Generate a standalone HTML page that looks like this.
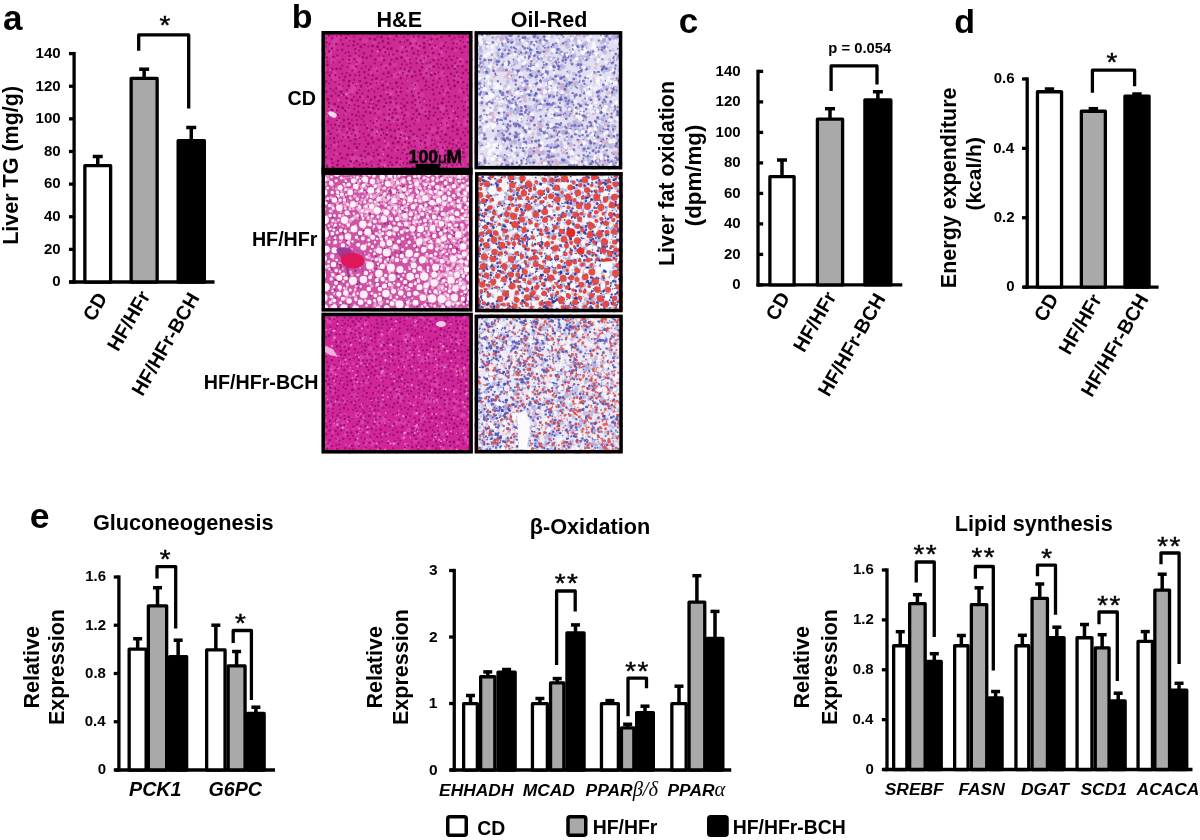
<!DOCTYPE html>
<html><head><meta charset="utf-8"><style>html,body{margin:0;padding:0;background:#fff;}svg{display:block;}</style></head>
<body>
<svg width="1200" height="840" viewBox="0 0 1200 840">
<rect width="1200" height="840" fill="#fff"/>
<text x="2.95" y="29.95" style="font-family:'Liberation Sans', Arial, sans-serif;font-size:35px;font-weight:bold;font-style:normal;">a</text>
<line x1="74.10" y1="51.95" x2="74.10" y2="283.65" stroke="#000" stroke-width="3.3" stroke-linecap="butt"/>
<line x1="69.10" y1="282.00" x2="214.50" y2="282.00" stroke="#000" stroke-width="3.3" stroke-linecap="butt"/>
<line x1="68.95" y1="282.00" x2="74.10" y2="282.00" stroke="#000" stroke-width="3.3" stroke-linecap="butt"/>
<text x="52.27" y="286.38" style="font-family:'Liberation Sans', Arial, sans-serif;font-size:15px;font-weight:bold;font-style:normal;">0</text>
<line x1="68.95" y1="249.37" x2="74.10" y2="249.37" stroke="#000" stroke-width="3.3" stroke-linecap="butt"/>
<text x="43.95" y="253.75" style="font-family:'Liberation Sans', Arial, sans-serif;font-size:15px;font-weight:bold;font-style:normal;">20</text>
<line x1="68.95" y1="216.74" x2="74.10" y2="216.74" stroke="#000" stroke-width="3.3" stroke-linecap="butt"/>
<text x="43.95" y="221.12" style="font-family:'Liberation Sans', Arial, sans-serif;font-size:15px;font-weight:bold;font-style:normal;">40</text>
<line x1="68.95" y1="184.11" x2="74.10" y2="184.11" stroke="#000" stroke-width="3.3" stroke-linecap="butt"/>
<text x="43.95" y="188.49" style="font-family:'Liberation Sans', Arial, sans-serif;font-size:15px;font-weight:bold;font-style:normal;">60</text>
<line x1="68.95" y1="151.49" x2="74.10" y2="151.49" stroke="#000" stroke-width="3.3" stroke-linecap="butt"/>
<text x="43.95" y="155.86" style="font-family:'Liberation Sans', Arial, sans-serif;font-size:15px;font-weight:bold;font-style:normal;">80</text>
<line x1="68.95" y1="118.86" x2="74.10" y2="118.86" stroke="#000" stroke-width="3.3" stroke-linecap="butt"/>
<text x="35.62" y="123.23" style="font-family:'Liberation Sans', Arial, sans-serif;font-size:15px;font-weight:bold;font-style:normal;">100</text>
<line x1="68.95" y1="86.23" x2="74.10" y2="86.23" stroke="#000" stroke-width="3.3" stroke-linecap="butt"/>
<text x="35.62" y="90.60" style="font-family:'Liberation Sans', Arial, sans-serif;font-size:15px;font-weight:bold;font-style:normal;">120</text>
<line x1="68.95" y1="53.60" x2="74.10" y2="53.60" stroke="#000" stroke-width="3.3" stroke-linecap="butt"/>
<text x="35.62" y="57.98" style="font-family:'Liberation Sans', Arial, sans-serif;font-size:15px;font-weight:bold;font-style:normal;">140</text>
<line x1="97.75" y1="165.65" x2="97.75" y2="156.50" stroke="#000" stroke-width="3.5" stroke-linecap="butt"/>
<line x1="92.75" y1="156.50" x2="102.75" y2="156.50" stroke="#000" stroke-width="3.5" stroke-linecap="butt"/>
<rect x="84.85" y="165.65" width="25.80" height="116.35" fill="#fff" stroke="#000" stroke-width="3.3" stroke-linejoin="round"/>
<line x1="144.15" y1="78.35" x2="144.15" y2="69.20" stroke="#000" stroke-width="3.5" stroke-linecap="butt"/>
<line x1="139.15" y1="69.20" x2="149.15" y2="69.20" stroke="#000" stroke-width="3.5" stroke-linecap="butt"/>
<rect x="131.15" y="78.35" width="26.00" height="203.65" fill="#a9a9a9" stroke="#000" stroke-width="3.3" stroke-linejoin="round"/>
<line x1="191.25" y1="140.65" x2="191.25" y2="127.50" stroke="#000" stroke-width="3.5" stroke-linecap="butt"/>
<line x1="186.25" y1="127.50" x2="196.25" y2="127.50" stroke="#000" stroke-width="3.5" stroke-linecap="butt"/>
<rect x="178.15" y="140.65" width="26.20" height="141.35" fill="#000" stroke="#000" stroke-width="3.3" stroke-linejoin="round"/>
<path d="M138.70,50.70 L138.70,34.90 L188.70,34.90 L188.70,108.50" fill="none" stroke="#000" stroke-width="3.3" stroke-linejoin="round"/>
<text transform="translate(159.46,34.27) scale(1.115,1)" style="font-family:'Liberation Sans', Arial, sans-serif;font-size:25px;font-weight:normal;font-style:normal;stroke:#000;stroke-width:0.45px;">*</text>
<text transform="translate(18.49,244.80) rotate(-90)" style="font-family:'Liberation Sans', Arial, sans-serif;font-size:21.5px;font-weight:bold;font-style:normal;">Liver TG (mg/g)</text>
<text transform="translate(93.74,322.38) rotate(-60)" style="font-family:'Liberation Sans', Arial, sans-serif;font-size:19.7px;font-weight:bold;font-style:normal;">CD</text>
<text transform="translate(118.11,352.58) rotate(-60)" style="font-family:'Liberation Sans', Arial, sans-serif;font-size:19.7px;font-weight:bold;font-style:normal;">HF/HFr</text>
<text transform="translate(142.57,397.25) rotate(-60)" style="font-family:'Liberation Sans', Arial, sans-serif;font-size:19.7px;font-weight:bold;font-style:normal;">HF/HFr-BCH</text>
<text x="678.80" y="32.55" style="font-family:'Liberation Sans', Arial, sans-serif;font-size:35px;font-weight:bold;font-style:normal;">c</text>
<line x1="758.00" y1="69.75" x2="758.00" y2="286.55" stroke="#000" stroke-width="3.3" stroke-linecap="butt"/>
<line x1="756.50" y1="284.90" x2="902.30" y2="284.90" stroke="#000" stroke-width="3.3" stroke-linecap="butt"/>
<line x1="758.00" y1="284.90" x2="763.15" y2="284.90" stroke="#000" stroke-width="3.3" stroke-linecap="butt"/>
<text x="732.27" y="289.27" style="font-family:'Liberation Sans', Arial, sans-serif;font-size:15px;font-weight:bold;font-style:normal;">0</text>
<line x1="758.00" y1="254.40" x2="763.15" y2="254.40" stroke="#000" stroke-width="3.3" stroke-linecap="butt"/>
<text x="723.95" y="258.77" style="font-family:'Liberation Sans', Arial, sans-serif;font-size:15px;font-weight:bold;font-style:normal;">20</text>
<line x1="758.00" y1="223.90" x2="763.15" y2="223.90" stroke="#000" stroke-width="3.3" stroke-linecap="butt"/>
<text x="723.95" y="228.27" style="font-family:'Liberation Sans', Arial, sans-serif;font-size:15px;font-weight:bold;font-style:normal;">40</text>
<line x1="758.00" y1="193.40" x2="763.15" y2="193.40" stroke="#000" stroke-width="3.3" stroke-linecap="butt"/>
<text x="723.95" y="197.77" style="font-family:'Liberation Sans', Arial, sans-serif;font-size:15px;font-weight:bold;font-style:normal;">60</text>
<line x1="758.00" y1="162.90" x2="763.15" y2="162.90" stroke="#000" stroke-width="3.3" stroke-linecap="butt"/>
<text x="723.95" y="167.27" style="font-family:'Liberation Sans', Arial, sans-serif;font-size:15px;font-weight:bold;font-style:normal;">80</text>
<line x1="758.00" y1="132.40" x2="763.15" y2="132.40" stroke="#000" stroke-width="3.3" stroke-linecap="butt"/>
<text x="715.62" y="136.78" style="font-family:'Liberation Sans', Arial, sans-serif;font-size:15px;font-weight:bold;font-style:normal;">100</text>
<line x1="758.00" y1="101.90" x2="763.15" y2="101.90" stroke="#000" stroke-width="3.3" stroke-linecap="butt"/>
<text x="715.62" y="106.28" style="font-family:'Liberation Sans', Arial, sans-serif;font-size:15px;font-weight:bold;font-style:normal;">120</text>
<line x1="758.00" y1="71.40" x2="763.15" y2="71.40" stroke="#000" stroke-width="3.3" stroke-linecap="butt"/>
<text x="715.62" y="75.78" style="font-family:'Liberation Sans', Arial, sans-serif;font-size:15px;font-weight:bold;font-style:normal;">140</text>
<line x1="782.00" y1="176.65" x2="782.00" y2="160.00" stroke="#000" stroke-width="3.5" stroke-linecap="butt"/>
<line x1="777.00" y1="160.00" x2="787.00" y2="160.00" stroke="#000" stroke-width="3.5" stroke-linecap="butt"/>
<rect x="769.90" y="176.65" width="24.20" height="108.25" fill="#fff" stroke="#000" stroke-width="3.3" stroke-linejoin="round"/>
<line x1="830.00" y1="119.15" x2="830.00" y2="108.75" stroke="#000" stroke-width="3.5" stroke-linecap="butt"/>
<line x1="825.00" y1="108.75" x2="835.00" y2="108.75" stroke="#000" stroke-width="3.5" stroke-linecap="butt"/>
<rect x="817.40" y="119.15" width="25.20" height="165.75" fill="#a9a9a9" stroke="#000" stroke-width="3.3" stroke-linejoin="round"/>
<line x1="877.88" y1="99.90" x2="877.88" y2="91.75" stroke="#000" stroke-width="3.5" stroke-linecap="butt"/>
<line x1="872.88" y1="91.75" x2="882.88" y2="91.75" stroke="#000" stroke-width="3.5" stroke-linecap="butt"/>
<rect x="864.90" y="99.90" width="25.95" height="185.00" fill="#000" stroke="#000" stroke-width="3.3" stroke-linejoin="round"/>
<path d="M831.10,91.00 L831.10,65.90 L877.00,65.90 L877.00,84.60" fill="none" stroke="#000" stroke-width="3.3" stroke-linejoin="round"/>
<text x="828.34" y="53.36" style="font-family:'Liberation Sans', Arial, sans-serif;font-size:14.8px;font-weight:bold;font-style:normal;">p = 0.054</text>
<text transform="translate(674.34,266.11) rotate(-90)" style="font-family:'Liberation Sans', Arial, sans-serif;font-size:21.5px;font-weight:bold;font-style:normal;">Liver fat oxidation</text>
<text transform="translate(701.17,226.19) rotate(-90)" style="font-family:'Liberation Sans', Arial, sans-serif;font-size:22.3px;font-weight:bold;font-style:normal;">(dpm/mg)</text>
<text transform="translate(776.44,321.88) rotate(-60)" style="font-family:'Liberation Sans', Arial, sans-serif;font-size:19.7px;font-weight:bold;font-style:normal;">CD</text>
<text transform="translate(803.91,353.43) rotate(-60)" style="font-family:'Liberation Sans', Arial, sans-serif;font-size:19.7px;font-weight:bold;font-style:normal;">HF/HFr</text>
<text transform="translate(828.77,397.85) rotate(-60)" style="font-family:'Liberation Sans', Arial, sans-serif;font-size:19.7px;font-weight:bold;font-style:normal;">HF/HFr-BCH</text>
<text x="954.34" y="32.96" style="font-family:'Liberation Sans', Arial, sans-serif;font-size:34px;font-weight:bold;font-style:normal;">d</text>
<line x1="1027.20" y1="77.35" x2="1027.20" y2="288.75" stroke="#000" stroke-width="3.3" stroke-linecap="butt"/>
<line x1="1023.00" y1="287.10" x2="1158.60" y2="287.10" stroke="#000" stroke-width="3.3" stroke-linecap="butt"/>
<line x1="1022.05" y1="287.10" x2="1027.20" y2="287.10" stroke="#000" stroke-width="3.3" stroke-linecap="butt"/>
<text x="1006.27" y="291.48" style="font-family:'Liberation Sans', Arial, sans-serif;font-size:15px;font-weight:bold;font-style:normal;">0</text>
<line x1="1022.05" y1="217.73" x2="1027.20" y2="217.73" stroke="#000" stroke-width="3.3" stroke-linecap="butt"/>
<text x="993.75" y="222.11" style="font-family:'Liberation Sans', Arial, sans-serif;font-size:15px;font-weight:bold;font-style:normal;">0.2</text>
<line x1="1022.05" y1="148.37" x2="1027.20" y2="148.37" stroke="#000" stroke-width="3.3" stroke-linecap="butt"/>
<text x="993.23" y="152.74" style="font-family:'Liberation Sans', Arial, sans-serif;font-size:15px;font-weight:bold;font-style:normal;">0.4</text>
<line x1="1022.05" y1="79.00" x2="1027.20" y2="79.00" stroke="#000" stroke-width="3.3" stroke-linecap="butt"/>
<text x="993.67" y="83.38" style="font-family:'Liberation Sans', Arial, sans-serif;font-size:15px;font-weight:bold;font-style:normal;">0.6</text>
<line x1="1049.50" y1="91.75" x2="1049.50" y2="89.00" stroke="#000" stroke-width="3.5" stroke-linecap="butt"/>
<line x1="1044.80" y1="89.00" x2="1054.20" y2="89.00" stroke="#000" stroke-width="3.5" stroke-linecap="butt"/>
<rect x="1037.45" y="91.75" width="24.10" height="195.35" fill="#fff" stroke="#000" stroke-width="3.3" stroke-linejoin="round"/>
<line x1="1093.35" y1="111.25" x2="1093.35" y2="108.70" stroke="#000" stroke-width="3.5" stroke-linecap="butt"/>
<line x1="1088.65" y1="108.70" x2="1098.05" y2="108.70" stroke="#000" stroke-width="3.5" stroke-linecap="butt"/>
<rect x="1081.35" y="111.25" width="24.00" height="175.85" fill="#a9a9a9" stroke="#000" stroke-width="3.3" stroke-linejoin="round"/>
<line x1="1137.00" y1="96.05" x2="1137.00" y2="94.00" stroke="#000" stroke-width="3.5" stroke-linecap="butt"/>
<line x1="1132.30" y1="94.00" x2="1141.70" y2="94.00" stroke="#000" stroke-width="3.5" stroke-linecap="butt"/>
<rect x="1124.95" y="96.05" width="24.10" height="191.05" fill="#000" stroke="#000" stroke-width="3.3" stroke-linejoin="round"/>
<path d="M1092.40,92.70 L1092.40,70.20 L1134.60,70.20 L1134.60,86.30" fill="none" stroke="#000" stroke-width="3.3" stroke-linejoin="round"/>
<text transform="translate(1106.56,71.17) scale(1.115,1)" style="font-family:'Liberation Sans', Arial, sans-serif;font-size:25px;font-weight:normal;font-style:normal;stroke:#000;stroke-width:0.45px;">*</text>
<text transform="translate(956.09,288.17) rotate(-90)" style="font-family:'Liberation Sans', Arial, sans-serif;font-size:21.5px;font-weight:bold;font-style:normal;">Energy expenditure</text>
<text transform="translate(981.43,210.60) rotate(-90)" style="font-family:'Liberation Sans', Arial, sans-serif;font-size:21px;font-weight:bold;font-style:normal;">(kcal/h)</text>
<text transform="translate(1044.84,323.08) rotate(-60)" style="font-family:'Liberation Sans', Arial, sans-serif;font-size:19.7px;font-weight:bold;font-style:normal;">CD</text>
<text transform="translate(1069.56,355.98) rotate(-60)" style="font-family:'Liberation Sans', Arial, sans-serif;font-size:19.7px;font-weight:bold;font-style:normal;">HF/HFr</text>
<text transform="translate(1091.82,398.35) rotate(-60)" style="font-family:'Liberation Sans', Arial, sans-serif;font-size:19.7px;font-weight:bold;font-style:normal;">HF/HFr-BCH</text>
<text x="291.79" y="27.66" style="font-family:'Liberation Sans', Arial, sans-serif;font-size:34px;font-weight:bold;font-style:normal;">b</text>
<text x="376.60" y="26.98" style="font-family:'Liberation Sans', Arial, sans-serif;font-size:21.5px;font-weight:bold;font-style:normal;">H&amp;E</text>
<text x="510.84" y="27.29" style="font-family:'Liberation Sans', Arial, sans-serif;font-size:21.5px;font-weight:bold;font-style:normal;">Oil-Red</text>
<text x="287.62" y="104.80" style="font-family:'Liberation Sans', Arial, sans-serif;font-size:19.7px;font-weight:bold;font-style:normal;">CD</text>
<text x="251.90" y="245.71" style="font-family:'Liberation Sans', Arial, sans-serif;font-size:19.7px;font-weight:bold;font-style:normal;">HF/HFr</text>
<text x="203.73" y="388.91" style="font-family:'Liberation Sans', Arial, sans-serif;font-size:19.7px;font-weight:bold;font-style:normal;">HF/HFr-BCH</text>
<defs><filter id="soft" x="0" y="0" width="1" height="1"><feGaussianBlur stdDeviation="0.45"/></filter><clipPath id="cP1"><rect x="321.5" y="31.0" width="151.0" height="140.6"/></clipPath><clipPath id="cP2"><rect x="474.5" y="31.1" width="147.8" height="138.3"/></clipPath><clipPath id="cP3"><rect x="321.5" y="171.3" width="151.0" height="140.3"/></clipPath><clipPath id="cP4"><rect x="475.0" y="172.1" width="147.7" height="140.2"/></clipPath><clipPath id="cP5"><rect x="321.5" y="312.7" width="151.3" height="140.8"/></clipPath><clipPath id="cP6"><rect x="474.6" y="314.6" width="148.2" height="138.9"/></clipPath></defs>
<g clip-path="url(#cP1)">
<g filter="url(#soft)">
<rect x="321.5" y="31.0" width="151.0" height="140.6" fill="#cd2a94"/>
<path d="M350.2 65h0M466.2 150.1h0M427.3 166.4h0M326.3 153.7h0M397.5 116.1h0M454.5 70.6h0M409.7 158.8h0" stroke="#de48aa" stroke-width="3.5" stroke-linecap="round" stroke-opacity="0.5"/><path d="M420.2 117.5h0M323.8 105.3h0M469.5 86.9h0M350.3 133.9h0M371.2 72.7h0M452.3 56.7h0M412.6 90.3h0M411.6 72.3h0M425.9 113.2h0M369.7 171.5h0M388 148.9h0M423.9 59.5h0M409.5 75.5h0M469.8 94.6h0M441 33.7h0M357.3 50.8h0M441.1 158.4h0M462.3 132.6h0M325.8 144.8h0M440.5 50.8h0M362.2 97.5h0M414.8 161.1h0M375.2 118.1h0M431.2 67.5h0M459.1 167.2h0M425 57.6h0M399.2 111h0M471 161.3h0M382.7 58.4h0M360.3 87.5h0M351 83.8h0M328.3 161.8h0M390.3 59.6h0M432.4 64.5h0M385.7 118.6h0M403.3 41.2h0M336.1 154.1h0M426.3 70.8h0M471.1 83.8h0" stroke="#de48aa" stroke-width="4.0" stroke-linecap="round" stroke-opacity="0.5"/><path d="M441.2 44.2h0M421.5 95.3h0M428.4 75.3h0M416.5 140.5h0M436 47.6h0M335.1 112.9h0M458.7 146h0M327.3 166.4h0M430.3 40.7h0M363.8 160h0M360.1 32.6h0M428.9 164.6h0M347 94.4h0M428.5 111.2h0M429.3 56.2h0M442.3 55.3h0M464.8 43.1h0M449.1 157.6h0M393.5 75.6h0M439.2 34.2h0M355.8 127.6h0M401.4 53.5h0M457.8 75.4h0M455.5 49.8h0M417.9 118.7h0M464.1 124.7h0M366.2 33h0M393.6 167.8h0M422.4 95.1h0M435.3 57.7h0M327.5 39.5h0M377.9 98.3h0M415.7 139.1h0M387.6 143.9h0M352.4 90.7h0M467.9 39.3h0M337.9 56.9h0M355.3 57h0M347.5 137.5h0" stroke="#de48aa" stroke-width="4.5" stroke-linecap="round" stroke-opacity="0.5"/><path d="M382 150h0M353.2 159h0M348.3 109.6h0M418.7 47.4h0M412.3 83.3h0M324 68.8h0M330.6 55.8h0M407.9 49.5h0M457.5 153.5h0M458.3 123.8h0M459.5 154.8h0M424.9 59h0M348.5 32.5h0M414.3 137.3h0M441.8 163.8h0M374.1 42.6h0M406.1 74.8h0M467.9 103.6h0M387.5 83.8h0M330.9 164.8h0M437 77h0M439 145.5h0M437.4 138.6h0M430.6 40.9h0M392.3 32.5h0M332.6 158.3h0M401.2 48.5h0M460.5 91.1h0M334 110.3h0M375.5 133.1h0M456.6 65.9h0M376.7 82.1h0M400.3 138.5h0M428.4 159.6h0M428.7 143.8h0M348.6 39.8h0M404.3 145.9h0" stroke="#de48aa" stroke-width="5.0" stroke-linecap="round" stroke-opacity="0.5"/><path d="M391.8 102.4h0M349.4 103h0M399.9 121h0M466.3 99h0M406 150.8h0M440.9 152.4h0M415.9 84.8h0M380.2 134.3h0M434.8 35.2h0M353.8 89.2h0M416.5 93.8h0M373.7 129h0M404.6 139h0M425.6 164h0M450 167.2h0M408 59.3h0M442.5 110.1h0M425.8 40.3h0M431.9 48.3h0M359.3 58.8h0M416.8 120.8h0M397.9 137.6h0M337.5 36.3h0M399.3 91.5h0M416.5 87.9h0M421.1 111.1h0M359.4 158.3h0M398.2 167h0M392.7 54.8h0M385 105.1h0M412.6 47.2h0M456.3 141.3h0M423.6 108.4h0M339.2 130.7h0M380 58.4h0M399.4 107.5h0M466.1 121h0M357 131.8h0" stroke="#de48aa" stroke-width="5.5" stroke-linecap="round" stroke-opacity="0.5"/><path d="M335.2 144.8h0M365.1 40.9h0M353.7 67.3h0M456 168.9h0M417.6 98.8h0M459.7 80.5h0M413.4 42.3h0M471.5 154.7h0M394.1 63.4h0M456.2 77h0M419.8 59.8h0M445.1 121.2h0M401 71.8h0M340.5 87.6h0M324.2 59.3h0M348.9 94.8h0M360.5 159.1h0M456.9 154.7h0M380.3 171.6h0M324.9 117.5h0M333 115h0M376.7 71.2h0M406.2 70.9h0M328 53h0M380.4 157.2h0M400.5 162.8h0M409.4 90h0M375.7 69.2h0M406.8 114.2h0M370.6 108.1h0M425 73h0M333 61h0M333.8 73.7h0M406.5 55.8h0M334.2 42.5h0M457.3 42.9h0M343.2 135.9h0M358.6 62h0M372.5 167.1h0M396 106.5h0M385 51.6h0M338.8 122.1h0" stroke="#de48aa" stroke-width="6.0" stroke-linecap="round" stroke-opacity="0.5"/><path d="M389.8 109.7h0M391.6 92.9h0M472.1 171h0M336.8 39.4h0M442.8 73.8h0M353.3 86.4h0M351.2 164.6h0M427.9 67.1h0M326.8 33.5h0M404 134.6h0M432.8 129.9h0M396.6 117.4h0M351.5 91.6h0M396.5 148.7h0M396.1 75.3h0M390.2 34.5h0M390 119h0M378.4 111h0M469.1 106.5h0M369.9 158.9h0M399.5 132.7h0M418 104.5h0M384 165.5h0M387 145.7h0M450 117h0M356.6 135.2h0M447.2 90.3h0M349.4 59.7h0M323.5 129.6h0M398.9 33.2h0M442.6 130.1h0M397.6 169.2h0M471.8 120.7h0M392.2 168.6h0M469.4 159.8h0M373.4 135.7h0M332.7 47.8h0M385.6 67.3h0M460.2 163.2h0M441.9 107h0M467.4 122.6h0M331.2 107.9h0M446.3 124.7h0M443.2 148.2h0" stroke="#de48aa" stroke-width="6.5" stroke-linecap="round" stroke-opacity="0.5"/><path d="M327.8 169.1h0M334.7 77.8h0M353.6 68.9h0M418.4 45.1h0M350.2 135h0M420.4 144.5h0M353.7 157.5h0M460.8 61.7h0M427.4 138.1h0M413.8 39.2h0M329.1 170h0M401.6 171.3h0M377.2 122.9h0M369.5 87.2h0" stroke="#de48aa" stroke-width="7.0" stroke-linecap="round" stroke-opacity="0.5"/>
<path d="M394.4 62.1h0M401.2 103.5h0M471 123.5h0M323.1 97.5h0M345.3 53.1h0M417.7 170.6h0M445.6 42.6h0M384.5 159.9h0M368.5 74.7h0M375.8 127.6h0M446.8 122.9h0M378.4 130.8h0M406.7 95.4h0M471.2 143.4h0M403 72.9h0M380.7 124.7h0M351.7 133.8h0M371.6 147.3h0M447.9 114.3h0M355.7 53.1h0M371.5 88.9h0M324.3 77.5h0M457.9 108.1h0M416.2 58.8h0M371.2 161.6h0M406.2 109.8h0M365.1 157.1h0M408.1 147.8h0M404.2 41.7h0M442.9 33.3h0M397.4 86.8h0M426.4 105h0M367.8 86.6h0M465.1 31.1h0M375.3 113.3h0M326.2 157.3h0M460.8 157.1h0M352 119.9h0M454.4 38h0M452.8 131.3h0M333.4 62.4h0M410.6 63.2h0M461.4 124.8h0M328.3 115.3h0M359.4 143.9h0M364.6 137.2h0M363.6 108.1h0M461.8 101.3h0M405.5 121.7h0M400.1 164.8h0M440.3 142.2h0M348.7 52.3h0M441 64.5h0M415.3 104.9h0M347.4 66.8h0M330.7 88.7h0M354.2 167.5h0M342.9 86.2h0M354 79.8h0M353.9 96.8h0M332.5 128.2h0M363 33.6h0M429.5 68.8h0M334.1 155.1h0M437.9 104h0M381 64.5h0M344.3 114.7h0M342 130.3h0M431 124.7h0M354.1 36.7h0M356.9 119.9h0M357.7 44.1h0M325 86h0M370.7 66.6h0M361 124.9h0M383.6 89.4h0M458.9 36.4h0M398.1 74.4h0M469 52.1h0M447 167.2h0M467.1 146.9h0M402.1 64.3h0M340.5 39.9h0M336.9 130.1h0M359.5 131.6h0M422.6 63.5h0M462.4 170h0M339.6 77.4h0M403.4 98.9h0M376.7 67.5h0M420.7 118.6h0M348.1 34.8h0M355.8 85.6h0M420.7 145h0M417.8 80.8h0M458.2 76.2h0M348.3 45.9h0M374.4 91.6h0M402.5 152.7h0M363.7 121.5h0M336.7 36.2h0M452.1 148.2h0M414.7 157.8h0M463.6 116.8h0M388.1 165.2h0M426.4 125.5h0M359.5 90.1h0M334.8 82.1h0M457.1 164.5h0M353.1 83h0M381.1 135.3h0M431.9 140.1h0M464.1 157h0M338.3 142h0M365.9 140.3h0M467 89.1h0M325.8 46.5h0M329 148.5h0M434.7 99.5h0M382.9 166.9h0M411.8 82.9h0M413.5 113.9h0M329.5 44.1h0M447.1 77.1h0M330.1 138.4h0M435.2 112.5h0M470 159.9h0M422.1 108.1h0M337.4 135.4h0M410 59.4h0M426.8 63.8h0M435.2 45.4h0M365.7 66.6h0M394.7 69.3h0M438.6 67.5h0M407 80h0M336.9 110.5h0M330.8 124.7h0M349.4 105.1h0M384.5 99.3h0M451.2 162.5h0M466 34.4h0M372.2 79.8h0M349.4 63.6h0M384.1 170.2h0M390 83.3h0M362.7 163h0M449.2 96.4h0M436.7 87.3h0M415.7 75.6h0M450.3 155h0M398.3 169.4h0M347.3 132.7h0M395.5 98.8h0M448.5 101.7h0M444.5 73.6h0M469.8 153.5h0M470.2 118.6h0M332.1 38.3h0M437.2 39h0M328.5 130.9h0M422.8 135.2h0M456.4 124.3h0M443.2 90.1h0M359.2 56h0M451.7 39.8h0M324.7 129h0M359.1 72.1h0M440.6 156.5h0M324.9 73.3h0M441.8 118.2h0M336.8 120.5h0M342.7 59.4h0M379.3 146.8h0M429.8 100.4h0M411 159.6h0M406.8 64.6h0M446.1 51.8h0M379 43.2h0M418.2 54.6h0M402.4 83.8h0M403.3 163.1h0M428.2 158.7h0M433.3 152.7h0M341.4 140.8h0M372.8 31.2h0M376.5 82.9h0M378 88.7h0M359.4 75.3h0M442.1 160.5h0M417.9 156.4h0M359.9 137.7h0M363.5 133.5h0M337.6 50.3h0M402 112.8h0M458.9 97.6h0M463.8 148.8h0M379.1 55.8h0M323.8 138.6h0M411.4 146.2h0M400.9 34.4h0M378.2 164.3h0M454.9 32h0M370.5 120.9h0M377 120.9h0M385.4 143.8h0M331.4 80.1h0M429.8 105.1h0M438 82.6h0M356.7 62.1h0M446.4 105.9h0M331.6 72.5h0M414.5 123.5h0M426.3 89.6h0M342.2 73.7h0M454.8 160.9h0M465.3 102.1h0M407.5 88.4h0M333.5 90.7h0M410.8 67.5h0M342.9 137.1h0M430.3 62.6h0M415.3 85.1h0M346.6 102.9h0M464.9 135.4h0M470.7 33.2h0M340.9 102.4h0M337.4 100.2h0M339.4 62.2h0M349.4 40.6h0M365.2 124.7h0M453.4 56.3h0M383.9 114.4h0M463.5 42.2h0M327.8 72.3h0M380.8 31.3h0M373.3 123.1h0M383.7 56.2h0M348.7 164.8h0M398.3 95.7h0M415.4 120.5h0M376.6 134h0M416.6 63.3h0M366.3 146.8h0M409.9 125.8h0M361.7 119.1h0M418.1 51.1h0M435.2 140.4h0M433.3 80.4h0M472.2 41h0M402.2 145h0M339.2 118.3h0M461.5 78.1h0M392.7 112.8h0M383.3 132.9h0M322.5 80.3h0M393.9 39.7h0M438.2 72.3h0M405.4 131.4h0M459.1 31.1h0M450 137.4h0M345.6 158.7h0M447.3 164h0M424.3 58.2h0M438.4 60h0M346.7 72.9h0M377.3 36.4h0M353.7 163.6h0M436.1 123.5h0M469.8 67.7h0M432.9 135h0M425.6 111.8h0M394.4 147.5h0M362.3 93.6h0M405.9 47.3h0M462.2 88.5h0M469.5 127.2h0M327.4 61.2h0M373.2 103.5h0M400.9 87.9h0M455 102.1h0M442.3 58.3h0M352.8 125.4h0M461.7 145.4h0M346.8 90h0M387.4 34.5h0M374.7 63.3h0M403.5 119h0M471.3 93.6h0M472.4 168.6h0M350.4 141.1h0M361.8 159.4h0M348.2 119h0M387.7 94.6h0M427.5 40.4h0M339.5 84.4h0M415.2 146.4h0M465.7 128.5h0M354.3 109h0M404.8 61.1h0M429.4 115.1h0M457.1 44.1h0M336.2 88.2h0M331.1 145.2h0M369.5 103.5h0M382.4 155.6h0M440.3 136.5h0M341.3 31.5h0M334.5 150.2h0M446.7 64.7h0M328.9 106.7h0M359.6 116.4h0M434.8 149.2h0M397.1 125.3h0M348.4 108.3h0M424.1 99.3h0M443.1 164.1h0M447.4 147.5h0M385.9 81.8h0M411.8 31.4h0M368.3 46.5h0M440.4 111.9h0M448.1 47.7h0M416.9 117.4h0M431.3 145.4h0M329.1 83.4h0M384.9 138.3h0M460.2 40.8h0M335.6 93.2h0M431.1 155.7h0M435.6 156.7h0M350.6 94.5h0M419.8 161.3h0M469.8 82.9h0M419.9 102.6h0M383.8 33.7h0M391.9 150.3h0M326.1 38.4h0M342.4 65.4h0M412.3 108.1h0M355.2 75.3h0M323.5 159.8h0M453.4 143.9h0M416.8 136.3h0M389.1 54.6h0M381.9 79.8h0M338.4 146.4h0M354.8 105.1h0M472.2 37.3h0M458.3 142.4h0M403.8 37h0M463.2 106.4h0M321.5 66.8h0M404.3 33.1h0M456.4 47.8h0M387.7 77h0M442.5 139.1h0M434.7 143.9h0M455.2 63.2h0M339.1 125.8h0M429 87h0M389.9 124.7h0M457 58h0M340.7 122.7h0M361.7 68.4h0M373.6 152.5h0M449.7 150.9h0M443.9 114.1h0M400.5 159h0M337.7 114.9h0M456.3 157.9h0M411.3 163.8h0M438.4 161.4h0M468.3 37.2h0M378.8 117.7h0M334.3 115.9h0" stroke="#940866" stroke-width="2.0" stroke-linecap="round" stroke-opacity="0.85"/><path d="M464.6 143.7h0M441.8 131.3h0M402.2 52.2h0M429.7 44.7h0M392.3 165.3h0M451 73.7h0M446.3 60.3h0M367.7 96.7h0M414.5 71.8h0M464.2 110.1h0M342.8 44.3h0M428.5 56.3h0M386 102.9h0M437.3 146.4h0M440.7 123.8h0M419.8 45.9h0M413.8 53.3h0M397.1 50.9h0M470.5 103.6h0M358.4 112.1h0M342 158.1h0M420.9 74.3h0M432.9 84.7h0M407.5 55.4h0M418.4 36.3h0M343.4 165.9h0M392.5 88.8h0M425.6 137.6h0M450.6 88.5h0M407 158.3h0M369.9 38.7h0M457.4 133.9h0M435 73.8h0M332 48.5h0M422 152.8h0M441.1 48.4h0M456.7 145.7h0M448 80.8h0M426.6 162.9h0M357.1 124.4h0M391.2 136.5h0M420.9 141.1h0M397.9 149.9h0M439.2 54.2h0M357 92.9h0M396.8 36h0M396.4 92.1h0M425.8 147.8h0M343.3 95h0M471.9 138.3h0M356.2 66.6h0M413.7 36.6h0M426.4 152.5h0M455.3 96h0M448.8 84.6h0M389 170.7h0M451.8 59.8h0M368.7 90.6h0M352.4 70.4h0M468.8 72.9h0M460.3 61.4h0M363.8 53.3h0M393.3 54.4h0M385.3 52.2h0M396.3 113.4h0M373.9 156.4h0M438 119.2h0M446.8 154.7h0M321.6 107.5h0M357.6 100.4h0M429.6 128.8h0M415.4 100h0M377.3 71.2h0M370.6 56h0M441.8 86.2h0M446.6 110.8h0M384.8 119.8h0M437.1 168.9h0M462.5 66.3h0M407 51.2h0M362.9 63h0M333.3 56.7h0M388.4 148.2h0M442.8 147.4h0M433.7 107.8h0M454.5 76.1h0M337.9 169.8h0M466.9 61.9h0M343.9 120.2h0M455.5 151.4h0M448 128h0M422 90h0M356.2 115.5h0M389 114.4h0M462.2 52.4h0M432.7 170.1h0M405.3 141.7h0M372.8 75.3h0M363.6 115.8h0M364.8 151.1h0M390.2 162.3h0M433.7 115.5h0M445.4 150.5h0M391.7 75.4h0M331.5 96h0M389.7 109.5h0M344.7 146.1h0M371.1 99.8h0M397.1 158.1h0M401.2 108h0M396.6 103.6h0M445.2 141.8h0M432.8 89.8h0M439.5 92.9h0M340.1 153.8h0M326.2 91.7h0M425.6 85.6h0M449.5 35.9h0M354.5 59h0M462.9 82h0M431.6 163.7h0M400.2 41.9h0M396.8 58.8h0M400.9 78.2h0M380 50.1h0M439.6 78.5h0M323.6 101.2h0M468.4 95.6h0M455 112.7h0M364.4 44.6h0M425 143.1h0M373.3 142.3h0M349.6 128.6h0M407.4 163.6h0M362.7 57.3h0M451.7 106.3h0M386.9 127.4h0M457.8 66.3h0M404.7 69.3h0M332.2 68.9h0M387.6 49h0M383.6 73.7h0M355.6 139.3h0M469.5 79h0M410.6 131.1h0M413 95.7h0M366.9 128.3h0M334.4 142.6h0M353.4 129.9h0M446.5 159.7h0M374.8 169.5h0M468.1 107.4h0M463.3 92.2h0M391.6 157.6h0M353.9 41.2h0M371.9 165.7h0M462.7 37.1h0M326.6 57.6h0M448.9 118.1h0M407.3 102.4h0M364.5 72.2h0M368.7 135.3h0M425 52.4h0M412.3 102.6h0M372.1 51.2h0M461 164.4h0M441.5 36.7h0M452.1 66h0M426.7 133.3h0M449.4 143.4h0M454 80.6h0M336.2 44h0M419 97.5h0M470.6 148.5h0M326.4 42.2h0M350 75.3h0M423.3 78.2h0M468.2 131.8h0M330.8 133.7h0M391.3 59.8h0M324.6 153h0M417.9 152.3h0M456.7 72h0M400.6 68.4h0M411.3 152.8h0M345.3 110.7h0M321.7 166.5h0M346.2 37.9h0M459.8 160.8h0M375.3 59.6h0M342.2 49.8h0M407.4 40.2h0M388.1 38.7h0M344.7 33.2h0M370.4 84.3h0M365.8 111.8h0M412.1 118.8h0M414.5 141.1h0M389.2 120.7h0M387.7 87.4h0M329.6 75.3h0M338.1 160.9h0M438.2 31.9h0M411.7 91.6h0M366.5 164.3h0M433.1 52.9h0M437.4 63.9h0M383.6 149.4h0M438.1 128h0M360.2 39.2h0M463 132.6h0M360.1 97.1h0M400.8 134.7h0M457.7 116.5h0M358.2 106.2h0M418.4 93.3h0M413.6 134.2h0M467.7 85.5h0M435.5 34.6h0M327.7 121.8h0M359.5 164.8h0M352.3 114.6h0M378.9 139.9h0M467.7 42.3h0M349.7 56.1h0M366.8 57.7h0M453.3 139.9h0M335.2 75.2h0M460.3 48.8h0M376.6 150.1h0M340.6 68.8h0M348.8 148.3h0M463 72.9h0M378.4 109.3h0M433.5 60h0M407.8 34.6h0M355.3 49.3h0M376.3 105.2h0M338.6 95.5h0M366.9 168.6h0M407.1 153.9h0M431.9 48.4h0M449.5 56.6h0M406.4 127.1h0M384 47h0M369 69.8h0M447.1 31.7h0M438.1 152h0M337.4 55.4h0M416.3 43.4h0M356.3 170.5h0M370.2 171.2h0M354.7 143.9h0M426.2 81.4h0M325.1 32.2h0M390.3 130h0M422.9 31.9h0M443.1 98.7h0M404.5 136.1h0M370.2 112.8h0M384.1 60h0M332.5 163.3h0M460.8 138.8h0M355.1 135.6h0M335.2 124.8h0M359.9 80.9h0M404.4 149.8h0M349.1 59.8h0M466 70h0M394.8 130.8h0M343.8 80.3h0M353.5 45.3h0M334.1 138.3h0M322.8 117.8h0M407.4 75.8h0M400 138.4h0M336.7 68.8h0M422.1 67.2h0M370.3 33.4h0M454.7 68.9h0M468.8 100h0M386 68.3h0M345 76.8h0M329 103h0M433.7 94.2h0M419.9 70.5h0M368.8 107.3h0M365.1 77.8h0M468.3 114.5h0M340.6 35.3h0M398.8 129.3h0M453.1 120.9h0M359.1 50.9h0M426.5 73.2h0M443.9 45.9h0M453.6 43.3h0M450.7 158.4h0M420.6 60.4h0M425.6 115.9h0M452.3 165.6h0" stroke="#940866" stroke-width="2.5" stroke-linecap="round" stroke-opacity="0.85"/><path d="M360.8 155.8h0M373.2 108h0M321.7 146.5h0M381 95.9h0M382.9 41.2h0M382 129.4h0M398.4 141.9h0M391.4 48.4h0M458.8 170.5h0M412.3 48.2h0M348.7 169.8h0M394.9 170.8h0M400.8 91.8h0M331.8 159.1h0M396.8 162.3h0M347.5 154.7h0M431.1 75h0M429.4 111.5h0M410.4 43.4h0M395.4 138h0M327.4 64.8h0M376.5 78.4h0M361.1 86.3h0M437.1 132.7h0M382.7 85.3h0M416.7 110.6h0M422.2 165.3h0M392.4 117.5h0M371.9 137.8h0M428.2 118.6h0M323.6 113.3h0M368.2 143.5h0M472.1 59.4h0M463.3 152.6h0M323.1 60.5h0M470.4 45.2h0M349.2 81.2h0M452.5 48.8h0M441.9 102.9h0M437.9 108.2h0M348.9 85.6h0M390.5 102.2h0M409 71.1h0M412.9 167.4h0M471.4 86.6h0M419.6 129.6h0M433.5 66.6h0M392.3 33.2h0M467.4 121.4h0M360.9 46.7h0M424.2 43h0M384.1 106.4h0M406 168.2h0M363.4 102.6h0M402.2 123.8h0M464.9 46.5h0M395 109.4h0M372.2 129.7h0M468.9 164.6h0M334.5 104h0M409.1 137.5h0M321.6 40.5h0M390.2 64h0M352.5 154.5h0M388.4 42.9h0M356.9 147.6h0M442.8 168.6h0M431.2 39.2h0M325 53.6h0M337.4 165.1h0M390.2 97.6h0M471.2 111.1h0M368.5 153.7h0M325.7 146.1h0M454.4 170.4h0M328.9 34.9h0M424.5 170.3h0M366.1 82.7h0M353.7 32.6h0M342.6 107.8h0M348.4 137.3h0M375.1 97.3h0M372.6 45.7h0M376.4 31.7h0M443.5 67.9h0M454.6 85.8h0M459.2 148.4h0M452.8 126.4h0M387.9 155.7h0M412 76.5h0M393 142.9h0M351.7 100.1h0M343.7 126.5h0M378.7 100.7h0M404.8 115.3h0M424.1 37.5h0M327.1 166.2h0M346.6 98h0M380 160.6h0M366.5 32.2h0M356.5 160.9h0M404.5 106.1h0M447.8 92.6h0M379 167.9h0M325.9 81.6h0M419.4 114.1h0M397.7 119.7h0M445.9 134.5h0M401.5 57.5h0M429.9 31.3h0M424.2 47.4h0M327.7 99.2h0M360.6 171.1h0M396.3 82.8h0M349.3 123.6h0M459.1 153.7h0M388.7 72.5h0M321.8 124.5h0M331.9 110.1h0M409.2 143h0M386.6 134.5h0M333.8 31.4h0M378.3 154.6h0M374.9 39.5h0M350.6 161.3h0M341 91.7h0M329 51.4h0M381.3 37h0M448.3 68.1h0M322.1 70.8h0M338.4 106.5h0M332.9 167.3h0M321.6 49.8h0M457.4 129.7h0M458.1 82.1h0M377.5 46.8h0M414.9 161.5h0" stroke="#940866" stroke-width="3.0" stroke-linecap="round" stroke-opacity="0.85"/>
<path d="M340.6 82.4h0M463.8 165.1h0M381.7 164h0M348.8 71h0M387.6 117h0M385.3 107.9h0M469.3 155.9h0M359.8 51.5h0M374.6 85.2h0M408 55.1h0M401.7 116.6h0M381.2 131.7h0M387.9 119.5h0M412 143.2h0M414.5 56.2h0M441.9 79.1h0M434.5 118.7h0M453.5 111.3h0M436 123.1h0M436.5 72.3h0M376.1 119h0M367.5 125.3h0M321.8 114.3h0M368.5 130.1h0M399.7 73h0M461.7 153.1h0M356.5 64.4h0M471.4 131.6h0M421.4 144.7h0M439.2 86h0" stroke="#f08ccc" stroke-width="1.0" stroke-linecap="round" stroke-opacity="0.8"/><path d="M423.6 62.3h0M331.2 52.2h0M401.5 133.1h0M416.8 34.6h0M461.5 149.9h0M365.7 101.5h0M382.4 81.2h0M386.3 92.2h0M384.5 165.5h0M359.6 171h0M455.1 66.5h0M460.3 59.3h0M425.7 162.3h0M384.5 141.1h0M359.1 32.4h0M402.3 47h0M383.8 33.5h0M372.6 102h0M393.7 121.6h0M347 129.1h0M383.4 32.6h0M424.3 101.1h0M327.5 112.7h0M330.7 69.8h0M456.3 118.4h0M441.5 52.5h0M355.4 150.4h0M345.3 114.3h0M433.8 151.5h0M453 110.5h0M373 146.7h0M327.6 115.7h0M326.7 133.8h0M341.9 95.5h0M356.8 83.9h0M407.6 80.3h0M440.4 124.4h0M431.7 72.7h0M422 55.9h0M390.8 93.7h0M414.5 88.4h0M376.8 67.4h0M444 94.4h0M387.2 132.5h0" stroke="#f08ccc" stroke-width="1.5" stroke-linecap="round" stroke-opacity="0.8"/><path d="M383.3 154.6h0M377.3 131.2h0M338.2 100h0M346.2 94h0M377.6 51.4h0M407 138.5h0" stroke="#f08ccc" stroke-width="2.0" stroke-linecap="round" stroke-opacity="0.8"/>
<ellipse cx="332.5" cy="114.5" rx="4.5" ry="2.6" fill="#f6dced" transform="rotate(25 332.5 114.5)"/>
</g></g>
<g clip-path="url(#cP2)">
<g filter="url(#soft)">
<rect x="474.5" y="31.1" width="147.8" height="138.3" fill="#e2dff0"/>
<path d="M509.2 91.7h0M583.2 129.4h0M492.3 90.2h0M511.6 154.1h0M598 121.2h0M529.5 123.7h0M501 138h0M617.2 87.8h0M572.8 82.6h0M621.9 60h0M536.1 35.3h0M583.3 150.9h0M554.4 57.8h0M602.4 31.6h0M483.1 63.7h0M595.4 67.9h0M492.5 66.7h0M620.9 60.6h0M489.8 44.1h0M515.5 152.7h0M527.4 70.7h0M619.8 34.8h0M588.7 52.8h0M490.1 87h0M588.1 160h0M602.9 120.1h0M525.1 69.4h0M604.4 115.4h0M539.6 102.5h0M536.6 61.3h0M505.1 97.3h0M536.4 79.6h0" stroke="#a4a0d8" stroke-width="2.5" stroke-linecap="round" stroke-opacity="0.5"/><path d="M560.3 127.8h0M603.8 39.8h0M509.5 53.5h0M560 75.2h0M576.5 65.3h0M516.7 74.8h0M613.9 111.2h0M581.9 64.8h0M513.6 135.3h0M562.1 126.8h0M552.6 63.2h0M548.3 121.9h0M529.6 98.9h0M480.1 47.7h0M564.8 87.4h0M581 60h0M496.2 69.7h0M574 84.2h0M609.4 31.5h0M552 78.5h0M589.2 99h0M610.5 147h0M568.4 124.2h0M507.2 113h0M566.6 154.1h0M514.8 31.4h0M558.7 39.3h0M572.2 155.7h0M566.6 167h0M509.8 110h0M566.5 149.3h0M615.3 107.4h0M620.3 135.7h0M507.5 109h0M551.5 168.4h0M575.6 78.4h0M534.1 166.8h0M588.3 155.7h0M582.8 100.7h0M476.8 132.6h0M513.8 75.2h0M534.9 152.2h0M491.3 112.3h0M482.6 61.7h0M481.2 118.3h0M486.4 48.4h0M482.8 131.8h0M572 85.3h0M583.3 128.5h0M509.7 41.4h0M503.6 144.1h0M544.6 66.7h0M560.9 142.2h0M490.9 103.8h0M603.3 51.4h0M504.6 130.4h0M533.4 109.7h0M474.5 67.1h0M562.8 131.8h0M552.2 36.8h0M484.4 43.1h0M578 140.3h0M601.5 56.1h0M577.5 135.1h0M566.6 86.5h0M617.4 59.8h0M591.9 156.8h0M525.9 126.4h0M571 88.2h0M482.8 35.1h0M610.9 67.3h0M544 167.5h0M528.1 41.9h0M614.2 129.1h0M611.8 163.9h0M544.6 66h0M602.4 149h0M545.7 48.5h0M593.6 81.9h0M551.7 53.3h0M523.3 115.6h0M495.8 136.9h0M494.4 62.8h0M594.8 112.9h0M580.6 61.5h0M574.7 122.2h0M582 92.6h0M553.4 58.1h0M581.3 62.6h0M534.9 84.3h0M553.7 136.8h0M613.5 89.8h0M559.8 83.9h0M587 85.4h0M562.1 158.4h0M609.7 59.7h0M600.5 78.6h0M493.6 42.8h0M572.3 56.9h0M612.9 49.9h0M546.2 113.8h0M614.2 164.3h0M568.5 125.2h0M599.9 97.5h0M551.7 144h0M482.8 123.3h0M526.4 126.8h0M587.9 156.3h0M480 50h0M553.9 88.8h0" stroke="#a4a0d8" stroke-width="3.0" stroke-linecap="round" stroke-opacity="0.5"/><path d="M552.6 46.6h0M592.8 110.8h0M599.1 108.2h0M527.4 161.1h0M598.1 165.8h0M607.6 87.4h0M517.8 134.1h0M577.9 32.9h0M518.5 137h0M498 48.7h0M525.9 65.1h0M475.6 87.1h0M496 60.4h0M522.2 53.9h0M529 128h0M581.1 85.4h0M529.7 42.9h0M506.7 33.2h0M589.2 142.1h0M532.1 94.7h0M498.9 57h0M525.7 129.8h0M615 121.2h0M600.3 111.2h0M591.3 142.4h0M535.7 36.5h0M544.6 80.8h0M600.5 107.4h0M568.4 85.3h0M612.1 162.6h0M619 54.5h0M548.5 146.3h0M474.8 85.4h0M541.7 93.9h0M517.6 153.2h0M613.7 152.5h0M538.2 140.4h0M565.8 130.9h0M600.3 121.7h0M478.4 161.6h0M533.8 58.8h0M549.2 104.7h0M512.2 161.1h0M549.9 137.1h0M573.9 55.3h0M488.9 102.8h0M592 124.8h0M555.1 103.4h0M544.5 105h0M509.7 90.1h0M541.8 51h0M503.8 70.5h0M518.4 134.1h0M608 84.2h0M485.7 35.9h0M603.8 72.1h0M478.5 127.9h0M505.8 117.5h0M587.7 36.6h0M607 134.9h0M598.8 107.6h0M520 125.5h0M483.2 57.7h0M528.8 38.6h0M523.2 90.6h0M585.1 137.7h0M547 38.1h0M503.7 116.1h0M552.2 95.5h0M477.9 143h0M489.3 62.8h0M520.6 114.2h0M495.5 109.8h0M489.4 33.8h0M520.7 73.7h0M585.7 68.9h0M532.9 154.1h0M617 116h0M510.5 93.6h0M504.8 45.2h0M617.6 37.1h0M475.5 72.2h0M508.9 100.8h0M540.6 75h0M504 62h0M619.2 41.9h0M480.4 79.8h0M600 120.3h0M583.4 117.4h0M567.2 82.4h0M487.1 68.6h0M594.4 149.6h0M545.8 51.4h0M604.5 48.7h0M499 60.3h0M485.2 127.6h0M585.2 141.1h0M551.8 91.4h0M508.8 32.8h0M503.1 57.3h0M521.7 96.3h0M581.4 55.7h0M500.4 56.9h0M541.3 59.8h0M498.2 104.8h0M553.7 128.8h0M621.3 128.6h0M589.6 98.1h0M484.9 82.5h0M609.8 161.4h0M484 68.2h0M556.7 114.8h0M521.5 121.5h0M482.9 165.4h0M547.6 114.9h0M591.2 39.2h0M613.4 140.2h0M607.4 43h0M539.9 134.5h0M591.7 93.4h0" stroke="#a4a0d8" stroke-width="3.5" stroke-linecap="round" stroke-opacity="0.5"/><path d="M491.3 81.2h0M605 52.5h0M573.9 73.8h0M598.4 165h0M522.1 77.4h0M615.1 37.3h0M489.2 115.1h0M559 163.1h0M540.2 106.7h0M604.7 153.1h0M504 50h0M478.3 133.8h0M580.5 107.3h0M534.4 64.2h0M548.4 47.3h0M536.9 141.8h0M506.2 36.5h0M556.1 163.6h0M580.6 130.3h0M527.5 124.3h0M567.9 162.7h0M562.8 159.5h0M611.7 137.5h0M510.9 143.2h0M516.8 39.2h0M585.4 103h0M481.2 146.9h0M611.1 136.1h0M484.8 92.5h0M588.8 67.8h0M483.8 66.4h0M481.5 104.2h0M481.2 165.5h0M536.2 94.8h0M614.9 162.1h0M476.2 53.5h0M524.2 96.9h0M581.7 45.7h0M534.6 33.1h0M527.3 143.5h0M577.1 119h0M504.5 158.7h0M534 85.4h0M524.9 66.9h0M553.5 65.9h0M487 80.2h0M547.3 42.8h0M479.3 71.5h0M476.6 77.1h0M568.8 72.3h0M510.3 159.2h0M479.7 36.8h0M507.8 81.7h0M578.4 130.4h0M520.6 44h0M578.6 60.7h0M601.1 156.6h0M506 86.3h0M532.7 120h0M585 66.5h0M546.9 79.9h0M565.6 148h0M621 116.8h0M505.9 55.1h0M584.3 36h0M612.2 78.4h0M567.1 106.2h0M482 154.8h0M528.9 48.3h0M558.4 134.8h0M550.5 78.1h0M558.5 94.1h0M536.2 75h0M551.4 79.9h0M604 150.7h0M604.3 40.2h0M619.3 157.8h0M507.8 98.8h0M526.3 38.9h0M608.8 167.7h0M476.8 34.6h0M587.6 36.3h0M544.7 129.3h0M559.6 96.9h0M608.4 69.8h0M579.6 146.9h0M608.8 161.1h0M501.7 105.6h0M561.5 65.6h0M525.1 87.8h0M497.9 37.4h0M530.9 168.1h0M600.5 88.9h0M501.6 39.6h0M491.7 89.4h0M550.6 146.1h0M610 132.7h0M617.2 138.1h0M568.1 98.1h0M612.5 125.9h0M494.4 100.2h0M514 80.4h0M546.5 93.8h0M540.7 58h0M534.6 54.8h0M525.3 95.1h0M545.4 160.3h0M536 37.5h0M565.8 105.2h0M531.5 50.7h0M612.8 136.3h0M593.6 53.5h0M562.1 84.7h0M537.2 54.6h0M539 41.5h0" stroke="#a4a0d8" stroke-width="4.0" stroke-linecap="round" stroke-opacity="0.5"/><path d="M576.9 43.6h0M607.3 33.7h0M489.8 32.1h0M561.5 162.4h0M565.3 55.1h0M484.7 41.6h0M597 137.8h0M539.1 122.6h0M491.2 119.4h0M557.2 132.2h0M542.1 120.4h0M620.3 82.9h0M521.4 69.5h0M555.2 81.3h0M504.5 125.2h0M528.2 31.7h0M478.7 101.5h0M503.2 93.9h0M589.3 161.8h0M488.3 70.2h0M576.7 129h0M538.6 37.1h0M553.7 155.7h0M548.2 154.2h0M538.5 133.7h0M569.8 143.6h0M512.5 111.4h0M480.7 55.9h0M517.5 43.7h0M502.1 36.7h0M524.3 130.5h0M611.5 70.7h0M521.7 154h0M578.6 57.9h0M560.1 33.6h0M563.6 66.7h0M598.7 89h0M543.8 105.8h0M604.1 40h0M564.7 59.1h0M474.5 47.8h0M518 111.9h0M620.1 115h0M578.5 64.9h0M475.2 84.1h0M597.7 119.2h0M574.1 33.4h0M598.4 96.9h0M477.2 84h0M497.6 53.2h0M575.8 125.7h0M551.7 162.3h0M557.9 154.9h0M480.3 132h0M566.7 167.4h0M516.6 89.8h0M584 45h0M557 76.3h0M542.2 152.3h0M596.7 145.2h0M613.4 95h0M595.9 59.7h0M543.3 37.9h0M571.3 110.1h0M501.8 88.3h0M539.9 42.9h0M514.6 141.3h0M595 144.7h0M567.5 84.7h0M564.9 131.9h0M528.3 160.3h0M618 58.8h0M482.4 61.9h0M599.4 128.1h0M479.8 47.8h0M511.2 149.1h0M550.5 59h0M506.6 139.3h0M532.6 72.2h0M600.2 47.7h0M489 113h0M552.6 32.4h0M487.1 46.3h0M565.7 79.9h0M504.5 118.3h0M541.2 109.2h0M487.3 73h0M581.5 108.4h0M483.9 55.9h0M601.1 159.7h0M493.7 85.4h0M541.3 125.7h0M481.8 128.6h0M480.8 51.3h0M538.4 56.7h0M477.6 118.5h0M621.6 70.3h0M520 143.9h0M564.7 132.9h0" stroke="#a4a0d8" stroke-width="4.5" stroke-linecap="round" stroke-opacity="0.5"/><path d="M477.4 57.4h0M549 105.9h0M517.4 108h0M529.6 138.9h0M606.9 144.8h0M615 36.8h0M601.6 120.8h0M612.4 161.7h0M561.4 53.6h0M602.4 140h0M583.5 161.5h0M539.5 129.8h0M618.6 34.1h0M556.3 145.1h0M533.9 161.2h0M527.7 107.6h0M524.8 142.3h0M563.5 60.4h0M574.8 39.8h0M519.8 126.4h0M573 53h0M601 142.7h0M530.3 154.2h0M614.2 126.8h0M593.3 168.9h0M533.8 35.2h0M563.9 160.6h0M564.9 57.4h0M506.9 31.9h0M585.6 43.4h0M602.1 42.2h0M621.1 122.6h0M569.9 138.5h0M497.5 98.1h0M606.3 122.6h0M556.1 110.3h0M618.7 58.3h0M560.3 67.2h0M617.1 84.1h0M548.3 103.9h0M479 93.8h0M567.2 168.6h0M480.5 144.2h0M501.3 131.5h0M622.3 35.2h0M587.9 115h0M575.2 130.3h0M620.7 117.2h0M596.8 135.6h0M569.5 124.5h0M538.5 47.8h0M523.4 37.2h0M567 91.2h0M515 142.2h0M520.3 87.4h0M570.4 129.1h0M475.9 152.2h0M524.1 79.5h0M621.6 77.2h0M575 126.4h0M511.4 40.6h0M537.7 110.1h0M567.5 46.3h0M530.2 151.2h0M524.3 152.3h0M574 55.7h0M566.1 139.5h0M597.8 166.7h0M552.6 96.2h0M588.2 56.7h0M503 138.5h0M566.2 116.5h0M591.1 52.3h0M491.2 31.6h0M555.8 46.1h0M562.2 85.7h0M605.1 103.9h0M560 68.8h0M499.2 134.7h0M506.9 47.8h0M619.8 69.6h0M518.9 51.9h0M574.4 122.3h0M561.1 31.2h0M584.3 57.8h0M568.3 40.3h0M576.6 82.9h0M529.9 53.8h0M529.9 76.5h0M605.2 88.2h0M496.5 45.1h0M618.5 82h0M514.3 71.2h0M512.5 167.3h0M609 165.4h0" stroke="#a4a0d8" stroke-width="5.0" stroke-linecap="round" stroke-opacity="0.5"/><path d="M529.9 109.8h0M618.6 156.4h0M477 162.1h0M506.9 103.8h0M606.8 69h0M588.7 157.3h0M571.5 56.9h0M567.9 112.5h0M611.3 145.2h0M525 88.1h0M513.1 100.8h0M537.4 101.3h0M598.7 92h0M605.2 158.4h0M585.6 35.2h0M572.8 150.4h0M562.9 132.2h0M565.9 42.9h0M615.9 91.3h0M483.4 120.5h0M566.2 57.9h0M601.2 127.7h0M526.3 83h0M507.2 162.7h0M488.3 33.4h0M592.8 125.1h0M556.7 114.4h0M606.1 69.3h0M619.5 148.4h0M562.6 95.9h0M610.4 105.2h0M565.4 100.2h0M562.1 89.7h0M501.4 156.9h0M543.1 152.4h0M476.5 100.2h0M564.7 88.7h0M571.2 102.1h0M611.6 145.9h0M543.5 72.4h0M547.6 88.3h0M485.2 94h0M515.6 62.3h0M483.3 158.5h0M582 88.5h0M590.3 165.7h0M613 37.1h0M552.4 147.9h0M484.2 71.6h0M546 99.9h0M584 149.2h0M621.9 104h0M518 109.8h0M603.7 118.3h0M604.6 162.7h0M617 82h0M479.4 83.3h0M549.8 58.7h0M599.8 131.7h0M586.1 58.7h0M502.9 32.3h0M550 136h0M501.6 69.1h0M484.8 71.6h0M537.7 72.4h0M484.1 160.3h0M483.4 133.4h0M559.7 52.3h0M613.2 71.8h0M574 37.6h0M536.1 106.3h0M539.8 152.5h0M493 101.8h0M531.6 46.3h0M562.1 145.9h0M515.7 112.5h0M565 161.5h0M589.8 147.4h0M577.7 124.1h0" stroke="#a4a0d8" stroke-width="5.5" stroke-linecap="round" stroke-opacity="0.5"/>
<path d="M600.7 99.1h0M556.1 135.2h0M620.5 75.9h0M560.1 49h0M502 160.1h0M520.5 49.2h0M595.4 143h0M593 144.1h0M602.1 143.5h0M555 131.6h0M534.9 169.2h0M505.4 95.9h0M509.6 156h0" stroke="#d8a4c0" stroke-width="2.0" stroke-linecap="round" stroke-opacity="0.6"/><path d="M566.8 131h0M602.6 139.9h0M568.7 95.4h0M538.7 164.1h0M541.3 73.6h0M605.8 143.3h0M587.4 140.8h0M501.1 66.5h0M527.4 110.4h0M613.7 74.9h0M619.7 159.3h0M520.7 79h0M609.1 96.8h0M477.4 53.8h0M605.4 159.1h0M613.2 130.2h0M531.1 106.8h0M607 141.8h0M484.1 117h0M592.2 95.8h0M562.7 153.1h0M534.5 128.9h0M570.5 62.9h0M554.3 145.1h0M507.6 145.8h0M611.2 95.9h0M510 127.8h0M557.7 164.9h0M511.8 141.2h0M593 113.9h0M597.9 158.3h0" stroke="#d8a4c0" stroke-width="2.5" stroke-linecap="round" stroke-opacity="0.6"/><path d="M494.6 59h0M611.5 143h0M486.3 144.9h0M508.1 136.7h0M495.8 38.3h0M601 159.8h0M618.1 76.3h0M595.9 73.2h0M572.1 162.2h0M518.2 140.4h0M602.9 164h0M553.6 165.9h0M611.1 114.2h0M605.8 147.5h0M486.1 103.6h0M608.5 109.5h0M607.6 162h0M604.9 125.2h0M533.2 167.8h0M583 167h0M590.3 126.6h0M494.2 76.7h0M620.6 137.3h0M582.4 104.2h0M568.7 134.5h0M578.5 109.4h0M606.5 154.6h0M485.3 162.5h0M578.6 155h0M497.2 165.2h0M543.4 165.9h0M590.1 142h0M583.3 142.9h0M601.7 157.1h0M540.8 43.4h0M542.3 67.8h0M594.8 131.8h0" stroke="#d8a4c0" stroke-width="3.0" stroke-linecap="round" stroke-opacity="0.6"/><path d="M597.8 99h0M503.8 168.9h0M538.1 127.5h0M509 167.5h0M557.9 58.3h0M529.7 153.9h0M555.2 160.1h0M574.9 83h0M508.8 78.2h0M530 62.9h0M580.4 123.3h0M578.7 161.9h0M617.5 79.7h0M615.6 54.3h0M515.8 101.1h0M587.1 127.9h0M531.5 60.1h0M592.8 73.2h0M603.1 66.1h0M618.2 82.6h0M574.3 116.2h0M600.5 138.5h0M532.9 134h0M483.1 165.5h0M578.2 67h0M561.6 44.2h0M496.1 106.6h0M596.4 64.2h0M594.7 78.2h0M529.1 58h0" stroke="#d8a4c0" stroke-width="3.5" stroke-linecap="round" stroke-opacity="0.6"/><path d="M512.9 79.1h0M511.1 150.2h0M544 145.1h0M563.4 84.9h0M570.9 107.4h0M615.9 153.4h0M545.2 55.7h0M498.5 69.9h0M506.2 76.7h0M578.8 141.2h0M507.5 165.5h0M487.4 110.2h0M547.6 50.8h0M478.5 66.3h0M554 136.2h0M505.5 37.6h0M606 142.3h0M618.3 152.6h0M564 152.5h0M579.6 35.1h0M611.7 31.4h0M551 160.6h0M541.2 91.6h0M608.6 117.9h0M492.3 114.1h0M585.5 119.6h0M561.8 112.8h0M541.5 89.2h0M617.4 161.6h0" stroke="#d8a4c0" stroke-width="4.0" stroke-linecap="round" stroke-opacity="0.6"/><path d="M612.7 136.7h0M509.6 113.7h0M525 100.4h0M530.7 144.2h0M622.2 111.8h0M551.4 152.5h0M570.8 144.9h0M556.1 161.4h0M492.8 117.4h0M497.4 160.3h0M493.9 69.3h0M560.5 86.5h0M575 34.8h0M516.4 168h0M608.4 93.2h0M527.3 88.1h0M600.5 106.2h0M529.1 118.3h0M603.6 131.5h0M502 38.9h0M493.9 121.8h0M510.6 52.2h0M538 148.3h0M540 125h0M615.5 153.5h0M598.8 162.9h0M505.4 159.4h0M555.6 130h0M532.1 166.7h0M509 92.8h0" stroke="#d8a4c0" stroke-width="4.5" stroke-linecap="round" stroke-opacity="0.6"/><path d="M542.4 161h0M479.5 68.6h0M619.5 168.3h0M503.2 140.8h0M621.1 152h0M536.8 151.8h0M531.5 147.5h0M616.6 145.4h0M619.1 110.5h0M509.5 72.8h0" stroke="#d8a4c0" stroke-width="5.0" stroke-linecap="round" stroke-opacity="0.6"/>
<path d="M569 106.9h0M511.9 66h0M597.4 71.9h0M523.7 142.3h0M526.2 147.5h0M600.2 130.9h0M484.2 114.6h0M620.4 118.3h0M505.2 98h0M611.2 87.9h0M527.2 120.6h0M497.3 31.3h0M492.5 158.8h0M541.7 163.2h0M611.8 152.9h0M518.2 87.8h0M506.3 37.6h0M481.9 34.5h0M586.7 48.1h0M488.8 54.5h0M583.2 139.5h0M476.3 139.1h0M520.5 91.8h0M613.2 154.6h0M519.1 54.5h0M491.4 89.6h0M541.1 83h0M489.4 81.7h0M477.9 49.5h0M567.2 71.4h0M482.1 130.1h0M501.8 31.1h0M612.2 93.4h0M579 50.4h0M559.6 136h0M506.2 114.7h0M578.9 139.7h0M542 58.2h0M615 126.6h0M585.4 156.8h0M565.9 42.2h0M551.1 128.2h0M614.2 60.3h0M526.4 159.6h0M605.5 80.8h0M605.8 36.8h0M542.9 74.2h0M534 65.4h0M530.7 43.9h0M571.2 52.4h0M536.6 48.9h0M507.9 75.1h0M601.1 66.2h0M613.8 132.3h0M577.2 162.7h0M580.7 111.3h0M580.2 70.4h0M481 147.3h0M587 90.5h0M493.8 124.5h0M498 33.4h0M562.2 99.6h0M601.6 107.9h0M569.2 82.1h0M594.5 139.3h0M574.6 97.9h0M565.2 139.5h0M599 58h0M514 65h0M586.6 151.7h0M591.6 93.1h0M619.5 49.3h0M614.1 110.2h0M579.9 80.2h0M569.8 50.1h0M581 40.6h0M512.6 121h0M498.1 55.8h0M544.9 45.3h0M608.2 37.4h0M502.4 120.9h0M618.2 147.8h0M563.9 148.5h0M522 82.9h0M524.9 54h0M518.1 89.8h0M577.3 113.9h0M507.8 53.8h0M602.5 131.6h0" stroke="#5856b6" stroke-width="1.5" stroke-linecap="round" stroke-opacity="0.75"/><path d="M543.5 62.3h0M502.7 45.5h0M522.4 66.5h0M613.8 56.9h0M599 72.1h0M503 92.4h0M565.1 113.2h0M478 123.6h0M617.6 106.9h0M508.2 130h0M520 134.1h0M512.6 69.2h0M576.9 45.9h0M561.5 51.9h0M514.7 97.1h0M516.8 147.6h0M507.7 124.1h0M604 115.5h0M503.9 101.1h0M548.2 47.6h0M515.2 109.6h0M600.2 75.1h0M556.9 92.2h0M570.1 39.5h0M501.4 119.8h0M620.8 92.1h0M608.4 156.8h0M512.8 33.7h0M613.7 87.7h0M512 95.5h0M609 61.8h0M602.3 47.4h0M481.2 115.7h0M588.4 78.1h0M567 136.9h0M615.3 86.1h0M565.5 149.6h0M547.4 109.8h0M597.8 96.4h0M592.4 139.6h0M475 138.8h0M611.8 161.6h0M480.2 120.4h0M531 64h0M508 128.6h0M572.6 161.5h0M543 46.2h0M549.1 103.8h0M579.5 113.9h0M598.5 95.8h0M603.6 128.8h0M501.8 121.5h0M534.4 100.3h0M475.6 154.6h0M545 37.6h0M606.9 97.3h0M541.2 33h0M539.8 47.1h0M520 39.4h0M590 150.9h0M508.6 61.2h0M613.3 58.3h0M540.9 158.8h0M596.3 147.7h0M597.2 49.4h0M532.7 137.4h0M607.4 47.8h0M553.9 156.2h0M554.6 114.3h0M605.7 31.3h0M597 47.4h0M482.1 97.7h0M547.7 109.5h0M598.7 86.7h0M515.1 48.5h0M557.6 133.8h0M569.5 115.8h0M611.8 164h0M527.3 84.2h0M572.2 92.9h0M575.5 86.4h0M477.8 45.9h0M609.6 62.1h0M599.6 161h0M587.8 148h0M577.1 87.7h0M537.4 168h0M497.5 123.5h0M593.5 106.8h0M566.7 83.9h0M586.9 91.1h0M480.4 162.6h0M484.8 162.7h0M557.8 127.6h0M537.8 168.1h0M606.9 114h0M563.4 37.1h0M619.8 135.3h0M563.5 114.4h0M547.4 151.2h0M556.8 95.4h0M610.1 50.8h0M590.5 52.7h0M563.5 32.1h0M601.1 35.2h0M529 95.2h0M517.9 120.7h0M618.8 43.8h0M616.4 90.6h0M598.5 71.8h0M515.7 103.1h0M616.7 40h0M516.3 148.1h0M621.7 135.4h0M548.1 72h0M476.2 34.7h0M619.6 78.1h0M612.1 92.8h0M577.4 139.8h0M544.7 47.7h0M527.8 157.6h0M476.7 89h0M573.5 105h0M620.7 89.6h0M570.4 128.7h0M611.7 113.5h0M567 153.1h0M572.7 45.2h0M513.6 59.4h0M613.4 62.2h0M521.1 73.7h0M515.5 91.1h0M605.6 68.6h0M521.1 118.5h0M476.8 60.3h0M583.9 111.4h0M601.3 75.9h0M537.8 38h0M552.4 161.8h0M521.9 114.8h0M588 104.9h0M583.1 120.6h0M573.1 50.4h0M583.4 158.4h0M492.6 37.5h0M481.2 56h0M511.4 75.7h0M538 57.3h0M547.2 133h0M602.2 90.9h0M621.4 73.1h0M529.3 56.3h0M556.8 63.8h0M519.6 76.9h0M620.7 98.1h0M522.1 114h0M587.3 126.1h0M594.7 111h0M589.6 88.7h0M579.4 82h0M542.8 166.6h0M533.5 116.8h0M479.1 158.7h0M609.6 163.1h0M561.1 77.6h0M559.9 103.1h0M506.9 99h0M571.2 55.9h0M518.6 70.3h0M543.8 64.8h0M606.4 85.1h0M553.9 147.8h0M498.4 112.7h0M498.7 49.9h0M595.6 132.6h0M621.6 102h0M512.4 41.9h0M582.3 49.3h0M516.9 70.2h0M565.8 100.9h0M573.2 93.2h0M582 69.5h0M541 56.2h0M481.5 66.5h0M535.2 77.2h0M540.2 89.7h0M616.1 162.9h0M617.3 111h0M520.1 147.8h0M612.2 83.6h0M590.1 126.2h0M488.5 164.1h0M606.1 121.2h0M484.6 161.1h0M572.9 112.4h0M523.4 77.4h0M570.7 113.7h0M563.2 57.5h0M529.4 112.2h0M555.3 141.6h0M558.8 62.3h0M502.2 163.8h0M604.5 145.4h0M525.1 57.2h0M553.8 70.5h0M620.4 42.8h0M542.9 67.6h0M538.5 59h0M486.6 115h0M571.5 110.8h0M572.7 49.1h0M503.3 99h0M600.7 79.4h0M615.4 109.2h0M504.8 154.9h0M576.5 159.7h0M500.6 84h0M515.7 104.4h0M505.6 42.7h0M607.5 114.5h0M557.9 59.5h0M568.1 108.4h0M555.7 169.2h0M479.7 41.5h0M531 156.5h0M621.2 121.3h0M616.4 41.8h0M584 93.8h0M616.9 142.8h0M516.2 49h0M540.4 80.3h0M569.6 84.4h0M589.6 54.9h0M589.8 152.9h0M550.8 34h0M527.7 48.2h0M557.3 130.5h0M600.1 105.6h0M522.9 37.6h0M542.9 77.8h0M502.2 64.9h0M618.3 32.5h0M605.5 101.5h0M575.7 130.1h0M525.7 106.9h0M533.3 100.2h0M546.5 157.6h0M564.5 80.6h0M598.4 49.7h0M597.7 55h0M497.7 155.8h0M516.8 105.2h0M617.7 48.7h0M512 103.8h0M540.4 121.5h0M484.6 78.8h0M530.8 53.6h0M520.5 59.5h0M533.2 162.8h0M548.8 163.8h0M486.5 44.1h0M485.9 71.5h0M487.9 124.1h0M506.1 40.4h0M541.3 75.3h0M565.5 62.8h0M493.5 92.6h0M597.7 162.2h0M508.7 100.8h0M598.5 57.6h0M528.9 66h0M574.4 145.2h0M573.9 149.5h0M578.5 156.1h0M548.6 124.9h0M601.8 70.4h0M604.9 160.4h0M591.6 102.8h0M603.1 139.6h0M574 150h0M590.9 122.6h0M527.8 32.1h0M476.4 59.8h0M534.4 147.9h0M551.3 46.8h0M564.8 53.5h0M498.9 145.8h0M567.1 53.2h0M552 118.1h0M527.5 80.8h0M505.1 50.1h0M616.5 78.2h0M523.6 158.6h0M590.1 164.7h0M612.1 32.5h0M480.2 161.4h0M602.9 69.1h0M537.1 52.1h0M530.1 162.7h0M502.1 133.2h0M594.3 135.8h0M592.1 160.7h0M606.8 138.8h0M482.5 38.8h0M557.4 135.3h0M495.2 73.5h0" stroke="#5856b6" stroke-width="2.0" stroke-linecap="round" stroke-opacity="0.75"/><path d="M586.1 109.3h0M556.5 76.2h0M503.1 64.5h0M534.9 95.6h0M551.7 136.4h0M593.3 51.5h0M570.9 36.6h0M565.9 144h0M606 130.1h0M500.6 92.4h0M595.1 120.9h0M491.2 60.1h0M565.9 59.7h0M615.7 65.5h0M550.8 114.4h0M504.2 112.6h0M607.6 156.2h0M577.4 34.3h0M578.9 126h0M508.1 125.2h0M584.9 53.2h0M475.9 96.3h0M580.9 64.8h0M511.5 108h0M534.6 34.8h0M618 36.7h0M562.2 160.1h0M511.3 47.5h0M558.6 83.6h0M518.6 36.3h0M599.1 99.4h0M614 136.2h0M558.4 106.7h0M511.8 150.3h0M561 99.6h0M538.9 140.5h0M518.4 88.9h0M560.5 150h0M550.8 92h0M554.2 130.5h0M601.6 112.3h0M545.8 115.7h0M508.4 53.8h0M558.5 124.2h0M566.2 119.1h0M614.9 106.4h0M498.2 131h0M568.6 31.8h0M529 156.3h0M606.4 68.7h0M506.3 165.5h0M536 93.3h0M595.8 152.8h0M576.4 113.4h0M534 98.9h0M556.5 147.2h0M571.9 125.7h0M511.2 146.1h0M507.7 97.1h0M486.8 81.2h0M479.1 164.2h0M506.7 148.7h0M619.7 142.3h0M605.9 96.7h0M594.3 143.3h0M591.1 81.5h0M580.7 64.5h0M620.6 76.3h0M582.1 161.5h0M475.3 78.5h0M524.6 143.4h0M519.1 140h0M571.4 82.4h0M561 123.2h0M556.3 123.9h0M536.2 42h0M598.8 40.6h0M566.1 86h0M585.6 117.3h0M474.7 119.2h0M497.9 81.2h0M510.2 121.2h0M594.2 72.2h0M590 140.2h0M537.2 106.9h0M541.3 130.8h0M559.2 131.8h0M579.7 136.1h0M596.3 162.8h0M507.5 156.2h0M484.9 55.6h0M522.7 46.6h0M619.3 153.4h0M563.2 43.3h0M613.8 71.9h0M558.6 69h0M515.3 51.7h0M597 161.1h0M518.6 71.1h0M533.4 118.3h0M560.8 98.1h0M548.5 89.5h0M475.5 118.8h0M599 91.6h0M568.5 100.9h0M556.7 34.5h0M526.3 163.5h0M477.6 54h0M526.2 109.9h0M493 130.7h0M508.1 64.8h0M596.7 127.5h0M478.5 71.8h0M604.2 155.2h0M604 35.5h0M585.2 144.4h0M509.2 50.3h0M615.8 54.1h0M599.5 148.1h0M606.7 150.3h0M585.9 104.5h0M531.4 61.1h0M562.8 60.6h0M534 45.3h0M531.1 48.4h0M602.4 59.1h0M546.5 165.4h0M508.2 165.2h0M483.8 138.7h0M486.5 34.5h0M583.8 155.3h0M507.6 39.6h0M507.1 127.2h0M521.5 163.2h0M564.1 160.4h0M511.4 42.7h0M540.7 116.5h0M538.3 105.6h0M553.8 96.7h0M550.6 85.9h0M510.1 102.4h0M548.6 81.4h0M591.4 125.3h0M485.5 159.6h0M550.6 165.2h0M492 103.1h0M547.9 128h0M602.6 102.6h0M582.6 135.1h0M514.1 47.4h0M507.5 148h0M548.7 104.3h0M584.6 92.8h0M539.3 155.1h0M522.9 148.3h0M480.2 126.8h0M517.5 155.5h0M531.7 116.4h0M566.6 128.1h0M558.5 77.7h0M484 85.8h0M603.7 146.7h0M618.8 79.6h0M507.5 115.5h0M536.2 41.7h0M533.7 151.2h0M518.3 98.6h0M576.7 165h0M607.5 157.3h0M481.1 91.9h0M601.1 141.8h0M502.8 123.8h0M519.2 98.1h0M604.1 66.5h0M550.9 147.8h0M530.2 70.6h0M536.9 100.9h0M532 141.4h0M620.7 79.4h0M571.6 164.8h0M516.6 137h0M506.6 131.4h0M512.9 120.1h0M502.3 43.4h0M540.5 129.5h0M560.7 110.2h0M497.6 119.2h0M567.8 143.6h0M545.8 165.5h0M589 149.2h0M584.5 83.9h0M602.9 165.6h0M499.2 113.1h0M591 33.2h0M479.4 68.1h0M576.2 74.9h0M478.8 65.2h0M560 125.1h0M510.4 125.8h0M501.1 123h0M578.5 103.9h0M602 69.3h0M601.9 50.1h0M549.2 97.1h0M513.9 32.5h0M504.9 159.9h0M615 68.6h0M585.4 98.4h0M562.9 32.6h0M582.4 115.8h0M531 75.6h0M523.4 150.9h0M555.7 146.9h0M555.1 76.4h0M482.6 31.4h0M477.2 63.2h0M606.9 89.5h0M543.4 131.6h0M517.3 134.4h0M523 127.8h0M520.5 78.1h0M549.6 151.2h0M513 99.2h0M531.6 42h0M476.4 128.6h0M515.8 84.6h0M539.3 144.4h0M529.6 56.7h0M537 82.9h0M527.6 36.9h0M513.1 148.6h0M608.1 160.2h0M614.1 72.9h0M590.8 142.2h0M551 89.8h0M620.5 149.1h0M479.2 88.7h0M560.5 107.8h0M479.9 63.6h0M540.1 129.5h0M585.3 77.7h0M476 82.7h0M548.4 127.6h0M540.3 40.2h0M517 162.5h0M521.1 52.6h0M572.3 102h0M532.3 75.8h0M569.2 100.6h0M570.8 60.6h0M560.8 90.9h0M549.1 151.3h0M539.5 168.7h0M612.1 92.1h0M533.8 162.5h0M557.9 65.4h0M515.1 137.4h0M531 156.3h0M565.4 126.8h0M528.2 114.3h0M480.1 116.7h0M497 64.5h0M500.3 119.9h0M544.8 100.7h0M508 42.1h0M556.7 52.8h0M492.8 42.3h0M480.2 58.9h0M593.9 135h0M480.3 62.7h0M483.8 110.4h0M488.9 59.9h0M606.5 36.3h0M522.9 38.1h0M507.5 169.1h0M524 138.8h0M543.9 51.8h0M544.9 143.2h0M613 129.4h0M587.7 156.3h0M575.6 167.8h0M609.7 121.6h0M599.5 123.4h0M608.9 135.7h0M555.7 108.1h0M580.1 105.5h0M496.1 151.3h0M501.1 165.7h0M504.8 139.9h0M527.5 41.9h0" stroke="#5856b6" stroke-width="2.5" stroke-linecap="round" stroke-opacity="0.75"/><path d="M525.2 89.8h0M503.6 134.9h0M530.4 74.6h0M584.2 165h0M507.4 138.3h0M553.1 103.3h0M482.2 34h0M525.1 37.4h0M553.2 44.4h0M567.8 103.6h0M529.7 129.6h0M501.9 56.5h0M520.4 114.2h0M588.1 128h0M621.8 54.3h0M576.2 107.8h0M552.8 127.2h0M593.1 150.8h0M554.2 115.3h0M555.4 127.1h0M509.8 35.4h0M558.1 145.8h0M509 62.8h0M525.6 142.2h0M591.1 100h0M499 167.9h0M590.9 163.6h0M581.2 71h0M477.5 141.9h0M546.4 71.5h0M520.6 40.7h0M476.8 142h0M501.3 102.9h0M519.7 165.7h0M546.5 64.3h0M524.8 129.8h0M506.4 69.9h0M551.7 156.4h0M610.7 101.8h0M560.2 95.6h0M502.4 54h0M617.7 114.4h0M613.3 89.2h0M596.1 160.4h0M560.3 114.9h0M487 72.3h0M535.7 84.3h0M536.1 93.8h0M590.8 133.3h0M559.2 99.8h0M560.7 78.5h0M582.6 46.5h0M590.7 143.2h0M557.6 140h0M579.9 75.9h0M522.2 60.6h0M512.3 163.7h0M481.9 102.4h0M504.6 140.7h0M575.3 134h0M525.3 106.3h0M567.9 56.7h0M535.6 140.9h0M546.7 40.2h0M547.1 73.7h0M520.4 76.9h0M479.5 83.5h0M598 165.7h0M496.2 74.6h0M618.8 140.4h0M592.3 167.7h0M558.3 49.2h0M545 39.9h0M493.7 70.7h0M579.7 67.5h0M481.6 86.8h0M495.8 139.1h0M557.3 49.4h0M529.4 58.3h0M565.4 56h0M544.6 145.4h0M482.9 35.3h0M547 124.4h0M503.3 138.8h0M597.8 117.4h0M558.9 66.6h0M511.2 35.5h0M531.5 65.9h0M507.3 92.1h0M616.3 166.5h0M506.8 101.9h0M603.1 67.8h0M615.9 145.9h0M524.8 48.2h0M502.5 94.5h0M597.2 92.2h0M609.3 168.4h0M587.7 52.2h0M526.2 52.4h0M574.9 95.7h0M558.1 116.1h0M496.8 120.6h0M538.8 71.2h0M484.9 60.1h0M521.3 107.6h0M491.4 54.6h0M620.2 52h0M611.9 70h0M576.3 94.8h0M486.7 93.4h0M547.3 168.8h0M482.2 145.9h0M607.4 63.2h0M486.8 122.1h0M534.4 55.4h0M530.4 50h0M604.9 46.4h0M604 99.8h0M611.5 117.2h0M565.6 97.9h0M608.4 125.9h0M596.3 122.3h0M573.7 165h0M614 165.7h0M620.2 157.9h0M484.1 135h0M556.9 87.2h0M562.1 77.7h0M600.6 145.2h0M597.3 166.1h0M519.5 125.9h0M534.1 36.7h0M539.9 108.8h0M479.9 94h0M556.2 42.4h0M553.1 79.4h0M528.7 94.1h0M618.9 55.8h0M477.5 128.2h0M497.6 147.4h0M616.6 143.7h0M578.2 64.6h0M573.7 79h0M615.7 157.8h0M600.9 112.8h0M490.9 107.6h0M516.1 123.8h0M563.9 76.7h0M555.8 61.8h0M554.5 67h0M480.7 78.4h0M498.7 61.4h0M517 72.1h0M476.7 148.3h0M549.2 112.2h0M544.1 36.5h0M518 124.2h0M621 154.2h0M581.9 125.2h0M531 91.2h0M549.5 95.5h0M598.6 160.5h0M607.1 34.5h0M534.5 124.9h0M603.9 47.5h0M584.2 149h0M619.6 118.1h0M474.5 151.8h0M549 157.3h0M509.9 139.7h0M485.5 138.6h0M548.2 83.5h0M551.7 104.8h0M609.8 39.3h0M509.9 133.7h0M544.7 131.5h0M474.6 74.2h0M497 61.4h0M505.6 118.6h0M617.5 159.2h0M586.5 68.9h0M515.8 80.6h0M556.8 32.4h0M591.9 110h0M617.6 112.2h0M521.4 110.8h0M612.1 63h0M499.5 49.7h0M578.1 46.8h0M514.7 125h0M537.7 51.9h0M525.3 112.2h0M587.5 135.6h0M568.4 156.9h0M531 120.7h0M544.3 132.9h0M475.7 91.3h0M580.5 110.5h0M569.8 82.7h0M530.9 48.8h0M608 129.6h0M579 72.1h0M526 132.1h0M525.6 80.9h0M589.7 122.3h0M568.3 131.9h0M547.1 103.9h0M521.3 160.8h0M560.4 99.7h0M580.7 106.1h0M599.1 122.8h0M547 145.5h0M581.5 144.7h0M546.8 138.1h0M565.1 32.1h0M515.4 136.1h0M586.2 59.6h0M520.3 101.1h0M548.5 161.9h0M515.7 125.9h0M529.9 95.1h0M561.9 34.5h0M540.6 80.9h0M566.2 133.1h0M476.1 145.7h0M489.1 101.9h0M515.8 132.4h0M487.5 104.1h0M536.8 76.2h0M564.8 89.3h0M475.6 148.6h0M514.1 123.7h0M553.5 66.6h0M622 163.5h0M617.4 135h0M539.4 145.7h0M500.1 90.8h0M571.8 136.5h0M572.2 63.9h0M574.6 125.2h0M477 150.6h0M598.1 136.9h0M592.8 162h0M586 131.7h0M530 146.9h0M583.9 115.8h0M495 153.6h0M598.5 151.6h0M507.9 106.8h0M603.4 84.8h0M540.6 145.5h0M538.4 89.5h0M540.5 104.2h0M580.2 95.6h0M477.3 43h0M539.8 52.8h0M479 42.7h0M548.3 155.6h0M569.4 165.5h0M618.6 81.2h0M516.6 56.1h0M521.3 59.7h0M583.4 80.9h0M575.5 94.9h0M527.7 69.1h0" stroke="#5856b6" stroke-width="3.0" stroke-linecap="round" stroke-opacity="0.75"/>
<path d="M591.2 102.2h0M620.1 88.1h0M612.8 53h0M594.4 52.7h0M495.9 84.2h0M477.7 47.2h0M605.9 148.4h0M521.9 56.4h0M578.7 110.8h0M497.8 38.7h0M489.5 154.5h0M555 31.8h0M580.4 147.2h0M591.2 57h0M496.9 74.3h0M487.7 126.2h0M600.7 87.6h0M498.1 162.2h0M613.5 97h0M540 46.9h0M573 38h0M525 162.3h0M500.6 51h0M596.8 165.8h0M557.7 130.2h0M595.2 77.8h0M555.9 91.8h0M546.2 55.6h0M501.6 88h0M516.9 55h0M535.2 43.1h0M490.9 123.8h0M571.6 34.7h0M488.1 164.7h0M490.6 63.7h0M584.4 48.6h0M482.5 57.5h0M605.1 44.3h0M497.9 147h0M612.2 77.1h0M609 61.4h0M493.9 150.5h0" stroke="#fbfbfe" stroke-width="2.0" stroke-linecap="round" stroke-opacity="0.8"/><path d="M542.5 147.5h0M556.2 117.7h0M589.1 132.1h0M516.1 56.2h0M539.5 56.6h0M566.9 55.9h0M534.3 85.4h0M587.9 86.9h0M501.8 116h0M530.5 33.1h0M556.5 86.5h0M494.8 124.6h0M474.9 148.2h0M503.2 142.1h0M571.9 168.7h0M609.6 95.8h0M588.7 138.8h0M514 156.8h0M488.1 143.1h0M594 137.8h0M495.2 101.1h0M510.3 55.6h0M611.6 169.3h0M552.4 80.9h0M598 58.6h0M578.7 67.5h0M523.8 64h0M592.4 72.5h0M574.7 35.2h0M575.2 110h0M512.8 148.8h0M542.7 145.9h0M489.4 149.7h0M495.6 69.3h0M614.6 133.2h0M475.1 53.2h0M620.6 57.8h0M610.5 121h0M509.6 76.5h0M487 166h0M560 149.7h0M566.7 138.8h0M610.5 72.3h0M478.3 63.5h0M539.3 119.3h0M559.6 95.5h0M545.7 33.7h0M497.2 117.3h0M477.8 97h0M546.1 38.3h0M586.9 98.3h0M598 78.1h0M486.7 42.4h0M489.5 92.8h0M527.7 36.8h0M491.8 124.5h0M595 156.4h0M567.8 75.5h0M488.5 157.5h0M592 139.4h0M546.1 84.5h0M495 120.2h0M543.6 42h0M585.1 58.4h0M584.3 89.1h0M573.3 51.5h0M592.6 82.5h0M484.5 69.8h0M597.8 111.8h0M581.8 113.1h0M554.1 72.4h0M611.2 163.7h0M518.5 59.6h0M613.1 69.6h0M606.9 48.4h0" stroke="#fbfbfe" stroke-width="2.5" stroke-linecap="round" stroke-opacity="0.8"/><path d="M591.8 47.9h0M603 35.9h0M494.7 156.3h0M584.8 51.8h0M490.5 117.4h0M541.8 56.1h0M480.6 78.1h0M497.3 98.5h0M487.6 53.4h0M489.1 103.9h0M573.9 112.5h0M492.4 51.1h0M597.8 111.3h0M532.3 145.7h0M601.4 159.1h0M482.2 135.3h0M592.7 134.8h0M542.5 102.1h0M618.2 163h0M519.3 162h0M600.4 143.2h0M559.7 134.8h0M611.2 81.5h0M530.7 85.3h0M492.7 149.3h0M489.4 116.7h0M586 50h0M617.2 165.7h0M489.4 42.9h0M594.5 159.1h0M589.7 166.8h0M475.6 117.2h0M557.9 77.9h0M519.9 100.1h0M560.9 169.2h0M620 108.9h0M478.8 68.8h0M610.4 164.3h0M570.1 151.2h0M474.9 71h0M603 149.5h0M591.3 74.3h0M482.3 85.9h0M557.2 110.8h0M508.6 155.3h0M492.6 158.6h0M604.7 134.3h0M595.5 102.8h0M552.3 112.1h0M541.9 168.3h0M486.5 146.5h0M593.8 111.4h0M601 38.6h0M489.1 152.6h0M527.7 32.7h0M492 107h0M533.2 53.4h0M518.8 161.3h0M494.6 145.3h0M550.9 58.7h0M549.5 90.2h0M571.6 151.1h0M598.5 83.9h0M512.1 153.9h0M566.8 54.4h0M612.3 105.6h0M484.6 116.6h0M513.1 148.7h0M562.3 53.8h0M590.2 77.8h0M489.9 154h0M589.6 150.6h0M616.2 82h0M521.3 116.8h0M606 158h0M577.3 33h0M588.5 115.1h0M490.3 97.8h0M514.4 54.5h0M577.1 59h0M490.3 105.4h0M491.4 139.9h0M493.2 124.1h0M475.4 130h0M611 34h0M588.1 76h0" stroke="#fbfbfe" stroke-width="3.0" stroke-linecap="round" stroke-opacity="0.8"/><path d="M493.2 145.2h0M487.7 126.7h0M503.6 127.1h0M549.9 82.2h0M596 99.2h0M489.2 144.9h0M598.9 59.2h0M592 134.1h0M549.8 111.3h0M500.4 146.4h0M569.5 109.3h0M588.6 40.1h0M520.3 31.2h0M497.2 85.4h0M527.1 42.9h0M601.2 157.8h0M474.9 158.9h0M475.9 163.3h0M523.7 85.2h0M490.6 150.8h0M541.1 149.6h0M594.1 124.2h0M478.3 159.7h0M543.2 71.2h0M575.2 101.4h0M545.3 74.8h0M594.9 140.7h0M494 87.8h0M621.7 43.3h0M530.9 59.1h0M575 47.8h0M591.3 87.6h0M503.2 101.5h0M597.9 161.1h0M608.1 80.3h0M587.3 31.9h0M597.8 61.1h0M515.3 72.6h0M576.8 58.7h0M484.7 55.6h0M528.6 91.7h0M506.2 102.6h0M552.9 150.9h0M609 77.4h0M521.5 93.5h0M549.7 87.3h0M480 78.8h0M492.9 127.1h0M593.8 43.4h0M493.5 159.1h0M558.6 117.7h0M486.4 168.6h0M476.3 115.2h0M487.3 159h0M572.7 52.4h0M475.3 139.5h0M540.6 85h0M590.5 36.6h0M483.1 121.1h0M508.3 98.3h0M572.6 162.9h0M552 116.4h0M489.3 168.7h0" stroke="#fbfbfe" stroke-width="3.5" stroke-linecap="round" stroke-opacity="0.8"/><path d="M595.5 128.3h0M496.1 144.8h0M541.8 143h0M596.5 54.3h0M514.3 149.6h0M524.4 62.3h0M605.8 106.7h0M576.3 162.3h0M500.8 109.4h0M582.9 131.7h0M488.4 146.3h0M549 34.4h0M493.6 149h0M500.1 159.3h0M494.1 125.9h0M622 114.4h0M589.6 128.9h0M492 159h0M584.7 143.7h0M477.7 123.3h0M555.5 32.7h0M606.6 62.8h0M485 118.6h0M555.9 109.7h0M602.4 56.6h0M532.2 114.5h0M490.1 66.4h0M610 165.8h0M575.7 168.2h0M612.3 70.2h0M546.3 136.2h0M496.1 44.5h0M521.3 79.2h0M548 38.4h0M489.2 82.9h0M489.3 153.6h0M487.6 112.3h0M536.9 65.2h0M490.5 94.5h0M532.9 67.8h0M585.4 162.9h0M532.1 46.9h0M494.8 84.3h0M491.1 110.2h0M488.8 167.3h0M569.7 131h0M504.8 41.6h0M606.4 83.9h0M609.9 120h0M596.1 49.4h0M501.1 122.7h0M522.2 40.6h0M490.9 96.3h0M480.7 42h0M619.5 60.9h0M500.4 149h0M577.2 116.4h0M513.1 119.8h0M487.7 46.8h0M490.6 168h0M550.6 67.8h0M606.7 132.6h0M484 130.2h0M476.9 48h0M584.3 67.3h0M543.9 129.4h0M484.8 35.6h0M481 160.2h0M616.3 102.5h0M498 84.6h0M487.8 109.2h0M591.4 110.7h0M576.5 131.6h0M484.6 127.6h0M606.4 132h0M487.9 76.6h0M519.5 119.7h0M595.1 88.7h0M510.6 160.2h0" stroke="#fbfbfe" stroke-width="4.0" stroke-linecap="round" stroke-opacity="0.8"/><path d="M529.5 146.1h0M540.5 107.1h0M557.3 40.7h0M599.3 121.9h0M565.4 144h0M601.3 155.8h0M487.1 80.6h0M587.1 92.2h0M572.2 161.4h0M584.4 142.7h0M517 92.5h0M594.2 46.6h0M479.1 99.7h0M500.5 103.1h0M571.5 38.4h0M521.7 135.4h0M603.9 110.2h0M523.8 144.9h0M505.8 64.1h0M481.3 156.9h0M482.5 148h0M551.3 125.4h0M489.6 53.8h0M501 88h0M579.4 42.1h0M508.5 87.7h0M616.7 41.4h0M492.5 46.7h0M526.1 127.2h0M597.9 81.1h0M521.8 153.9h0M598.5 87.6h0M484.9 89h0M613.4 140.6h0M583.1 53.1h0M538.8 107.2h0M496.8 87.7h0M529.6 131.7h0M577.1 158.2h0M545.1 163.7h0M487.2 99.3h0M492.2 95.2h0M561.5 91.7h0M601.4 77.7h0M581.4 109.4h0M565.4 147.5h0M554.9 88.9h0M553.5 50.6h0M485.2 56h0M539.6 96.6h0M610.9 141.5h0M486.4 97.1h0M572.4 153.3h0M587.6 37.9h0M617.4 118.5h0M481 42.4h0M480.9 38h0M544.6 144.3h0M512.9 106.2h0M549.4 114.2h0M590.8 106.7h0M520.8 73.8h0M549.8 83.1h0M550.6 90.8h0M488.5 124.5h0M517.2 31.6h0M552.6 150.5h0M598 80h0M545.1 91.8h0M597.8 79.6h0" stroke="#fbfbfe" stroke-width="4.5" stroke-linecap="round" stroke-opacity="0.8"/><path d="M496.4 152.3h0M520.9 59.2h0M590.1 93.4h0M580.4 118.1h0M615.3 83.7h0" stroke="#fbfbfe" stroke-width="5.0" stroke-linecap="round" stroke-opacity="0.8"/>
</g></g>
<g clip-path="url(#cP3)">
<g filter="url(#soft)">
<rect x="321.5" y="171.3" width="151.0" height="140.3" fill="#cf52a4"/>
<path d="M430 240.1h0M343.2 214.4h0M431.5 171.7h0M457.1 207.1h0M432.7 204.9h0M453.8 197.8h0M365.4 194.9h0M452.2 196.2h0M395.4 180.1h0M325.9 256.2h0M439.8 308.5h0M460.4 180h0M344.3 289.5h0M456.8 205.4h0M359.2 195.8h0M424.2 201.8h0M375.4 190h0M393.3 229.4h0M353 209.5h0M414.3 210.1h0M407.9 275.4h0M380.8 197.9h0M461.8 211.2h0M444.2 269h0M429.2 197.2h0M367.5 174.1h0M415.1 185.2h0M464.6 171.6h0M430.2 240.7h0M464 257.8h0M431.1 292.5h0M451.6 172.3h0M427.5 259h0M435.4 235.8h0M465.8 178.8h0M469 224.5h0M419.3 208.1h0M381.4 173.8h0M383.8 211.3h0M436.7 293.2h0M459.5 219.4h0M352.1 198.4h0M322.2 208.5h0M382 173.9h0M467.6 252.9h0M401.7 210.5h0M426 235.9h0M464.4 295.4h0M444.9 288.1h0M394.8 196.3h0M333.6 243.9h0M440.6 247h0M440 206.7h0M411.4 200.6h0M458.2 302.7h0M355.4 278.3h0M394.4 215.9h0M460 216.4h0M412.4 278.1h0M386.9 196h0M460.4 262.2h0M441.6 288.5h0M429.8 278.8h0M383.2 177.3h0M381.5 191.7h0M463.6 224.4h0M383.2 200.8h0M453.6 266.3h0M455.7 277.9h0M417.4 310.6h0M459.4 264.5h0M338.7 266.1h0M372.8 189.7h0M328.3 250.1h0M452.4 251.2h0M450.1 257.2h0M401.1 212.5h0M444.1 249.9h0M357.2 261.1h0M416 190.6h0M403 259.9h0M348.3 274.9h0M345.9 227.4h0M431.1 279.2h0M454.1 209.5h0M441.3 186.4h0M344.1 192h0M340 228.9h0M384.4 211.6h0M386.7 301.4h0M352.3 188.6h0M388.9 183.9h0M378.2 246.3h0M455.6 278.6h0M465.1 220.9h0M471.3 198.4h0M451.2 231.2h0M389.3 223.2h0M438.9 191.3h0M437.7 226.8h0M402.2 208.5h0M377.4 305.1h0M348.7 295h0M468.7 285.2h0M423.7 304.4h0M392.6 216.9h0M432.4 213.5h0M351.5 178.1h0M379.2 194.2h0" stroke="#f0bce0" stroke-width="1.5" stroke-linecap="round" stroke-opacity="0.8"/><path d="M427.5 208.6h0M400.6 189.6h0M418.1 198.7h0M444.7 311h0M347.5 200.8h0M438.6 274.8h0M411 182.7h0M450.4 256h0M351.1 199.2h0M344.6 199h0M462.2 299.1h0M418.2 195.4h0M450.3 307h0M324.6 200.1h0M446.5 178.6h0M450.1 244.6h0M375.8 184.6h0M323.1 278.5h0M372.6 212.4h0M464.9 184.3h0M329 180.7h0M400.7 175h0M461.2 233.2h0M389.3 219h0M434.9 234.5h0M424.6 187.6h0M453.4 270.8h0M360.2 267.7h0M468.5 250.1h0M404.6 206.6h0M427.6 209.1h0M341 262.9h0M358.2 306.6h0M400.6 259.9h0M456 292.7h0M369.4 211.2h0M379.6 267.7h0M428.7 182.9h0M447.8 201.6h0M354.3 183.5h0M457.2 211.7h0M394.1 229.1h0M449.7 224.7h0M401.4 200.5h0M457.9 194.9h0M456.8 281.7h0M399.7 202.9h0M380.1 212h0M393.8 213h0M364 202.1h0M359 274.3h0M469.3 290.5h0M408 196.1h0M460.3 198.7h0M445.1 254.6h0M325.8 203.7h0M338.7 193.5h0M430 202.2h0M447.9 294.3h0M442.1 185.6h0M415 217.6h0M462.6 175.3h0M392.9 260.8h0M420.4 198.9h0M429.7 291.3h0M356.1 196.5h0M347.2 297.9h0M458.1 186h0M435.7 232.4h0M453 281.4h0M383.6 214.7h0M398.3 184.9h0M390.5 249.8h0M374 187.8h0M461.4 271.6h0M430.4 196.5h0M471.1 222.4h0M393.4 245.8h0M426.8 215.3h0M417 179.8h0M417.2 182h0M371.6 237.1h0M403.1 203.2h0M370 257.8h0M438.5 274.9h0M459.2 230.2h0M441.1 225.3h0M444.2 235.6h0M370.4 207.9h0M443.4 256.7h0M472.4 309.7h0M469.1 195.9h0M378.3 196.3h0M321.9 220.4h0M449.4 194h0M340 252h0M426 278.4h0M341.6 241.1h0M439.1 179.9h0M400.9 304.4h0M379.9 174.6h0M401.2 181.9h0M407.4 206.7h0M442.6 269.7h0M472.5 268.4h0M382.7 198.1h0M453.9 229.1h0M450.8 253h0M388.2 288.4h0M429.4 239h0M455 198.4h0M427.6 296.3h0M414.8 263.5h0M404.1 284.7h0M452.7 275h0M449.4 172.3h0M427 217.1h0M464.1 188.4h0M366.4 244.4h0M352.1 219.8h0M463.7 286.8h0M448.7 176.5h0M335 304.3h0M432.2 230.8h0M448.8 178.1h0M440.4 219.7h0M463.1 231.4h0M405.4 183.3h0M403.7 173.4h0M422.5 173.9h0M346.2 247.9h0M428.4 225.5h0M364.5 199.7h0M468.6 296.3h0M381.4 203.6h0M416.4 217.3h0M395.3 201.8h0M447.6 294.9h0M447.2 272.7h0M460.1 247.3h0M448.3 306h0M364.6 253.2h0M444.2 191h0M388 288.3h0M338.8 211.3h0M373.3 192.7h0M438 287.3h0M438.8 282.3h0M419.7 212.7h0M449.6 218.7h0M450.4 296.3h0M421 206.7h0M425.5 289.2h0M465.2 219.1h0M472.2 245.9h0M453.9 175.8h0M407.1 302.7h0M404.6 206.3h0M425.4 206.4h0M467 190.2h0M358.7 185.2h0M448.7 262.2h0M461.1 237h0M391 208h0M426.8 304.1h0M398.4 220.2h0M462.6 209.7h0M431.3 201.9h0M398.9 177.2h0M448.2 217.4h0M390.3 262h0M440.9 273.9h0M387.2 258.8h0M464.7 256.2h0M467.7 221.3h0M444.4 265.3h0M403 188.9h0M428.4 256.4h0M331.1 271h0M411.4 233.9h0M380.7 298.3h0M398.8 213.5h0M455.7 290.7h0M457.6 245.6h0M357.1 203.9h0M451.8 242.2h0M445.4 196.2h0M411.9 281.9h0M426.4 302h0M432.8 179.4h0M372.3 190.4h0M378.8 210.5h0M412.3 199.1h0M404.2 199h0M367.7 208h0M449.9 175h0M326.6 239.3h0M386.7 177.5h0M445.7 190.8h0M466.1 242.8h0M449.2 291h0M449.7 251.8h0M449.3 174.5h0M439.3 284.9h0M411.3 202.3h0M438.9 265h0M408.6 214.5h0M412.6 184.9h0M452 265.1h0M368.7 231h0M467.5 215.9h0M462 282.3h0M357.6 184h0M381.1 211.7h0M449 250.1h0M448 309.4h0M440.7 203.5h0M409.9 256.3h0M346.2 294.7h0M376 191.1h0M462.5 202.3h0M380.5 180.3h0M436.8 213.6h0M409.5 203.6h0M383.1 211.5h0M464.5 192.6h0M441.2 282.9h0M456.1 245.2h0M342.2 310.6h0M445.3 280.1h0M417.7 180.8h0M388.5 242.3h0M367.4 283.7h0M418.5 186.6h0M405.1 189.5h0M423 179.1h0M350.9 250.3h0M339.2 262.9h0M400.1 179.9h0M390.1 209.5h0M450.3 225.7h0M342.7 215.3h0M391.3 207h0M442.8 282.9h0M341.2 185.8h0M467.1 252.9h0M394.3 182.6h0M455.6 261.4h0M427.2 218.7h0M441.5 289.7h0M462.2 285.1h0M448.8 252.1h0M333 188.3h0M357.4 188.7h0M385.9 218.9h0M427.5 192.5h0M417.3 289.1h0M347.8 194.1h0M325.3 257.6h0M460.9 186.7h0M377.8 191.4h0M408.4 201.4h0M429.5 186.9h0M472 231h0M362.4 219h0M471.4 266.9h0M450.6 269.2h0M389 188.5h0M409.5 197.3h0M403.6 222.5h0M469.8 223.5h0M419.2 224.4h0M449.5 284.5h0M438.7 283.2h0M337.8 172.6h0M378.7 246h0M401.2 187.7h0M376.8 211.5h0M329.7 238.5h0M450.1 178.4h0M424.8 193.2h0M466.6 309.4h0M372.9 228.9h0M381.9 239.9h0M413.3 211.7h0M346.4 203.5h0M461.4 243.8h0M446.2 280.7h0M410.7 308.5h0M453.4 204h0M463.1 235.7h0M465.6 272.4h0M381.1 187.8h0M442.6 251.9h0M398.2 180.4h0M347.1 286.8h0M466.6 192.4h0M419.1 178h0M453.8 260.5h0M419.9 195.1h0M394.2 213.4h0M350.9 177.2h0M472 273.8h0M462.7 300.4h0M358.2 239.2h0M411.9 190.1h0M377 203.4h0M419.3 286.1h0M391.1 197.8h0M332.4 288.6h0M437.2 217.6h0M458.1 219.7h0M432.2 248.5h0M397.8 217.2h0M351.5 205.2h0M422.2 307.1h0M433.7 239.3h0M421.4 230.1h0M466.7 244.3h0M461.1 196.3h0M349.8 214.2h0M459.2 299.5h0M419.7 296.3h0M448.5 242.6h0M379.9 227.7h0M409.4 186.9h0M446.9 201.5h0M406.2 299.8h0M420.6 273.5h0M456.5 204.6h0M465.5 254.2h0M411.4 213.9h0M450.5 256.8h0M439 259.7h0M466.4 213.6h0M463.8 310.2h0M448.2 229.9h0M451.7 275.1h0M460.5 220.5h0M383.1 195h0M377.7 247.7h0M434.1 198.1h0M349.7 231.2h0M454.3 174.1h0M403.4 183h0M446.9 198h0M389.3 233.9h0M450.7 214.1h0M447.5 179.9h0M326.1 199.3h0M440.1 256.6h0M466.8 306.8h0M463.1 256.4h0M366.8 208.9h0M466.6 203h0" stroke="#f0bce0" stroke-width="2.0" stroke-linecap="round" stroke-opacity="0.8"/><path d="M427.8 213.9h0M379.5 237.8h0M384 195.7h0M458.9 261.5h0M461.1 249.4h0M420.3 238.2h0M448.3 191.9h0M462.9 176.4h0M370.1 221.7h0M354.8 217.5h0M395.1 178.1h0M430.5 211.6h0M395.5 235.3h0M366.1 244.8h0M436.4 242.6h0M354.4 176.8h0M376.7 210.4h0M459.6 244.5h0M413.9 221.3h0M404.9 193.4h0M425.4 305.8h0M415.9 219.8h0M406.7 213.1h0M457 212.6h0M451.9 280.9h0M433.4 218.1h0M335.9 221.9h0M381.1 198.3h0M441.1 238.3h0M466.8 211h0M425 225.1h0M339.1 296.5h0M378.4 188.4h0M426.1 196.4h0M398.9 206.3h0M383.6 200.3h0M433.8 225.5h0M355.4 191.4h0M398.4 193.2h0M332.8 184.1h0M401 218.7h0M445.7 226.7h0M423.7 270.9h0M421.4 171.7h0M436 212.5h0M428.5 308.8h0M369.3 236.1h0M386.6 173.4h0M355.5 296.5h0M342.7 268.8h0M349.9 207.8h0M415.5 223.3h0M448.6 282.9h0M432.8 171.7h0M453.8 239.8h0M465.4 273.2h0M417.2 188h0M421.6 237.8h0M353.7 177.1h0M464.5 219h0M343.5 219.8h0M378.5 220.3h0M465.6 246h0M398.8 235.8h0M416 176.6h0M439.8 276.8h0M470.1 231.4h0M410.5 303.2h0M409.4 189.5h0M454.6 262.8h0M444.3 311.2h0M424.9 206.9h0M455.8 309h0M449 297.6h0M398 196.2h0M396.7 201.4h0M344.3 178.5h0M398 192.5h0M458 262h0M454.5 225.6h0M322 222.9h0M467.3 222.7h0M436 225.1h0M401.9 225.2h0M328.5 178.6h0M360.7 302.2h0M381 200.6h0M356.9 174.4h0M458.4 195.1h0M442.3 187.4h0M375.3 303.1h0M395.5 208.7h0M381.1 198.9h0M365.5 184.1h0M356.8 188.8h0M353.2 295.4h0M458.8 268.3h0M350.3 218.5h0M375 175.2h0M443.2 231.3h0M324.5 177.6h0M469.5 189h0M467.9 293.1h0M463.8 254.6h0M462.7 233.4h0M394.1 187h0M463.4 243.5h0M405.8 186.5h0M399.2 171.9h0M426.4 181.3h0M444.5 274.8h0M418.2 193.8h0M415.1 224.7h0M423.5 183.8h0M325.9 192.9h0M442 300.8h0M332.2 273.9h0M388.8 195.7h0M389.7 239.8h0M467.1 278.4h0M433.6 212.5h0M364.9 199.7h0M364.9 233.3h0M435.6 197.7h0M431.4 229.8h0M444.3 261.6h0M395.9 300.9h0M376.2 285.7h0M426.6 245.1h0M471.5 266.6h0M427.5 180.4h0M431 296h0M451.5 255.6h0M419.9 209.8h0M466.2 238.3h0M459 269.4h0M381 173.9h0M331.8 224.3h0M471 236.8h0M425.9 292.3h0M333.9 172h0M459.1 252.3h0M340 242h0M363.7 229.1h0M408.4 230.2h0M437.2 225.1h0M389.8 216.2h0M361.9 210.7h0M396.5 198.4h0M377 225.6h0M469.3 226.3h0M415.3 220.9h0M470 302.6h0M389.6 280.4h0M377.3 209.7h0M355.6 297.2h0M451.9 267.1h0M456.6 230.7h0M456.6 258.7h0M386.8 239.9h0M377.6 179.6h0M406.1 222.2h0M347.4 246.5h0M424.4 192.5h0M372.7 212.6h0M452.3 275.3h0M433.1 215.4h0M349 224.5h0M436.1 195.6h0M372.8 179.8h0M354.5 305.3h0M435.9 204.1h0M405.4 209.9h0M452.5 238.2h0M451 258.2h0M394.2 209h0M432.1 273.8h0M461.8 177.6h0M424 195.2h0M429.2 202.9h0M460.1 279.5h0M404.7 179.7h0M378.1 215.5h0M382.4 180.7h0M369 254.7h0M407.8 179.1h0M461.1 273h0M402.8 286.4h0M426.5 208.7h0M461.6 288.5h0M429 242.1h0M426.1 293.7h0M437.2 177.2h0M352.6 264.9h0M365.5 295.6h0M471.1 299.4h0M356.3 205.1h0M415.9 302.5h0M404.4 197.9h0M446.4 202.9h0M469 234.2h0M457.1 238.4h0M329.8 296.8h0M379.3 306h0M433.6 220.1h0M437.6 189.1h0M445.3 242.7h0M393.6 299.5h0M419 196.3h0M444.1 228.8h0M364.6 192.3h0M453 221.7h0M455.5 182.4h0M354.4 292.2h0M358.4 183h0M413.2 261.1h0M446.6 224.2h0M409.9 279.6h0M350.4 296.1h0M470.7 267.4h0M460.2 178.2h0M451.9 279.4h0M439.2 221.6h0M460.9 257.6h0M464.8 239.7h0M448 262.7h0M363.2 224.2h0M374.1 309.9h0M466 221.7h0M452.9 259h0M403.7 201.2h0M464.9 241.2h0M367.7 224.8h0M453.9 222.5h0M463 226.9h0M398.4 289.5h0M409.3 300h0M388.1 259.9h0M332.4 298.2h0M441.6 188h0M403.1 195.8h0M373.2 184.8h0M460.4 240.2h0M432.4 243.3h0M441.6 264.3h0M391.9 185.7h0M384.1 200h0M440.8 174.7h0M427.8 194.7h0M460.8 233h0M377.2 194h0M414.7 218.5h0M379.1 228.3h0M380.1 221.8h0M359.2 261.5h0M409.2 267.1h0M365.4 215.8h0M389 217.3h0M424.6 188.5h0M372.9 270h0M454.6 220h0M386.4 233.5h0M409.2 181.5h0M325.2 239.8h0M349.6 208.5h0M406.8 192.4h0M451.1 290.3h0M463.3 240.4h0M336.5 206.9h0M467.2 290.6h0M384.3 188.8h0M464.4 191.9h0M419.7 199.5h0M386.3 230h0M441.8 207.9h0M460.9 283.2h0M323.4 270.2h0M440.1 264.6h0M420.9 242.4h0M338.3 186.7h0M439.8 188.4h0M350.7 221.6h0M412.6 232.1h0M428.8 301.6h0M453.5 213.5h0M386 210.8h0M356.2 179.3h0M326.2 283.8h0M402.8 218.4h0M326.8 235.3h0M469.3 220h0M342.3 263.3h0M462.1 266.3h0M356.5 181.1h0M414 180.4h0M375.5 212h0M405.8 255.5h0M416.7 204.9h0M413.2 195.1h0M408.7 199.6h0M450.6 301.7h0M362.4 217h0M399.9 188.7h0M465.7 231.3h0M458.4 191.6h0M340.9 212h0M415.3 259.4h0M449.7 285.6h0M462.2 195.7h0M399 304.6h0M416.5 217.9h0M453.2 284.4h0M372.3 292.9h0M468.2 227.3h0M472.1 254h0M432.8 180.5h0M368.9 190.2h0M463.7 289h0M349 223.7h0M411.3 263h0M442.3 200.8h0M418.8 269.1h0M330.8 197.6h0M451.7 273.2h0M464.5 266.9h0M433.4 183.1h0M342.6 226.2h0M450.8 237.4h0M462.5 185.8h0" stroke="#f0bce0" stroke-width="2.5" stroke-linecap="round" stroke-opacity="0.8"/><path d="M445.5 231.2h0M371.1 219.6h0M380.6 303.3h0M456.8 192.2h0M397.3 180.8h0M446.7 246.1h0M423 251.5h0M437.5 193.6h0M468.8 222h0M429.3 218.2h0M373.3 209.2h0M459.6 233.2h0M437.4 212.2h0M431.6 201.7h0M351.9 275h0M451.3 267.9h0M436 203.8h0M364.6 206.8h0M438.9 196.3h0M367.4 210.6h0M449 227.9h0M454.6 273.5h0M422.3 192.5h0M442.1 274h0M459.3 247.1h0M441 189.9h0M426.7 173.2h0M464.8 201.4h0M445.7 224.5h0M366.8 197.9h0M422.1 295.3h0M391.9 287.8h0M397.5 175.2h0M426.9 261.6h0M457.2 255h0M432.5 194.1h0M359.4 300.9h0M453.9 202.3h0M403.8 180.3h0M426.5 228.9h0M392.3 285.4h0M427 183.8h0M469.1 294.1h0M381.9 302.3h0M348 189.4h0M403.4 219.1h0M421.8 191.1h0M470 276h0M437.5 190.2h0M443.3 274.1h0M471 282h0M456.3 190.2h0M464.8 238.5h0M463.2 186.5h0M456.2 219.6h0M419.8 197.8h0M451.8 240h0M392.1 203.3h0M456.2 179.9h0M371.5 274.7h0M428.4 232.1h0M449 197.5h0M388.7 207.2h0M428.5 210.8h0M394 197.4h0M353.3 208.8h0M386.6 214.2h0M444.6 213.2h0M401.7 214.9h0M333.4 258.1h0M402.3 209.3h0M416.2 186.4h0M385.3 261h0M355.2 216h0M439.6 175.3h0M360.1 208.7h0M325.5 229.1h0M451.7 272.8h0M470.7 185.5h0M387.7 199.2h0M373.9 209.1h0M406.4 287.9h0M419.4 222.3h0M366.5 262.1h0M454.4 281.5h0M405.5 219.6h0M450.8 256.9h0M423.1 272.5h0M411.8 200.5h0M456.7 285.5h0M351.6 202.2h0M385.5 205.8h0M385.8 200.1h0M361.8 199.8h0M399.3 215.2h0M429.1 256.1h0M392.4 189.6h0M444.5 189.5h0M437.1 245.2h0M416.7 301.6h0M427.5 247.5h0M463.5 246.3h0M344.3 261.5h0M442.8 203.7h0M412.6 197h0M358.8 205.4h0M344.1 197.2h0M437.5 293.7h0M363.7 234.3h0M445.1 215.9h0M351.8 284h0M336.1 276.9h0M460.5 283.5h0M427.7 238.6h0M468.1 258.7h0M360 178.7h0M381.7 239.9h0M468.2 242.9h0M432.5 287.8h0M341.5 205.1h0M392.6 239.5h0M424 287.2h0M351.7 249.5h0M460.2 287.2h0M431.2 273.6h0M437.6 179.1h0M428.1 283h0M388.6 268h0M457.2 177.8h0M442.2 266.3h0M471 220.8h0M459.1 241.9h0M384.6 264.3h0M463 284h0M389.4 251.1h0M448.6 272.3h0M451.8 202.8h0M395.3 208.4h0M469.6 199.3h0M455 229.8h0M384.3 199.1h0M400.3 189.3h0M386.7 179h0M465.2 215.3h0M462.8 256.3h0M408.1 201.4h0M378 233.9h0M367.8 262.7h0M367.2 214.9h0M470.4 240.7h0M323.9 261.3h0M382.3 180.1h0M423.1 200.1h0M378.9 188.1h0M349.1 219.9h0M344.4 202.6h0M409.6 223h0M367 183.2h0M460.4 260.9h0M445.6 183.1h0M349.3 244.4h0M471 232.6h0M468.5 293.8h0M380.9 233.7h0M372.1 201.6h0M403.5 171.6h0M431.1 245.3h0M455.2 237.6h0M328.4 265.8h0M385.9 200.5h0M429.8 196h0M436.8 283.7h0M443.4 290.2h0M445.8 266.5h0M393 192.4h0M450.6 218.8h0M422.4 228.5h0M439.2 277h0M360 261.6h0M443.5 275.3h0M415.3 282.5h0M467.8 190.5h0M444.4 202.3h0M445 299.6h0M460 204.3h0M457.8 276.3h0M457.5 232.6h0M422 270.7h0M390.1 218.5h0M446.6 175.1h0M387.8 212.3h0M434.6 272.1h0M463.2 227h0M458.1 214.5h0M417.6 217.1h0M380.2 252.5h0M451.7 226.9h0M400.1 183.4h0M357.1 208.6h0M370.2 205.2h0M439.7 303.4h0M392.2 202.9h0M325.1 232h0M359.9 202.4h0M384.4 299h0M423.6 183.4h0M419.7 210.5h0M461.4 270.5h0M325.3 309.9h0M397.1 211.3h0M381.6 192.4h0M362.7 196.3h0M330.6 307.7h0M469 208.8h0M442.1 206.7h0M436.2 222.8h0M365.8 211.6h0M326.9 216.6h0M447.1 217.8h0M425.9 174.2h0M360.6 202.4h0M341.5 190.9h0M393.7 222.8h0M465.9 308.7h0M368.3 204.1h0M386.8 264.3h0M451.4 275.7h0M396 205.2h0M465.2 202.3h0M418.1 217.9h0M331.5 211.6h0M377.5 199.4h0M434.8 208.9h0M414.7 256.1h0M388.1 190.3h0M386.4 181.8h0M455.3 176.3h0M449.4 278h0M427.3 247.8h0M400.8 188.3h0M339.5 309.9h0M421.4 262.5h0M418.5 310.4h0M441.7 180h0M390.7 295.4h0M460.5 271.9h0M425.4 259.3h0M464.3 248.8h0M418.9 208.7h0M392.5 289.2h0M415.5 180.6h0M395.2 213.6h0M435.7 197.3h0M322.3 236.6h0M431 305.3h0M430.4 184.3h0M429.9 207.8h0M400.4 181.9h0M464.3 196h0M443.1 203.7h0M440.7 275.3h0M337.6 277.7h0M461.3 187.9h0M398.8 209.6h0M408.6 200.4h0M470.7 206.3h0M446.6 175.7h0M345 186h0M409.5 197.6h0M465.2 214.9h0M407.3 289.5h0M399.4 171.8h0M458.8 219.2h0M381.1 197.3h0M422.7 198.5h0M440 225.9h0M455.7 219.8h0M404 196.1h0M461.9 231h0M461.7 203.2h0M445.1 240.2h0M396.4 177.1h0M347 184.9h0M447.6 196.3h0M389.6 272.4h0M417.9 293.1h0M390 268h0M415.3 240h0M385.5 193.3h0M428.5 190.6h0M404.5 258.8h0M453.5 303.4h0M427.7 268.5h0M338.5 196.8h0M466.9 222.8h0M361.4 223.6h0M340.2 289.4h0M454 243.9h0M365.8 187.8h0M431.8 263.1h0M426.8 178.3h0M378.3 185.3h0M392 179.1h0M393.9 229.2h0M457 305.9h0M324.6 209.1h0M430.5 224h0M438.6 221.1h0M408.9 226.2h0M460.5 187.5h0M336.4 189.1h0M331.3 197.8h0M327.8 175.6h0M409.6 186.8h0M461.1 195.2h0M470.4 218.6h0M422.7 196.3h0M411.1 200.1h0M440.4 194h0M395.8 184.9h0M418.7 231.2h0M392.2 180.4h0M358 203.5h0M337.7 174.9h0M469.9 186.5h0M410.4 211.9h0M456.7 308.5h0M393.7 232.6h0M470.5 257.3h0M440.3 292.8h0M387.9 210.8h0M440.9 294.6h0M391.8 259.4h0M366.7 180.9h0M453.2 202.5h0M331.8 301.1h0M434.4 270.4h0M407.3 207.6h0M357.6 218.2h0M349.7 218.2h0M458.4 285h0M403.5 202.9h0M383.2 188.8h0M426.8 288.3h0M442.1 267.1h0M392.3 197.1h0M387.8 191.3h0M346.8 295.5h0M398.4 198.8h0M468.1 205.3h0M341.5 274.2h0M395.4 179h0M443 261.9h0M344.5 278.1h0M462.6 281.8h0M445.5 293.5h0M429.9 220.5h0M392.9 249.9h0M445.3 235.3h0M370 190h0M456.5 270.9h0M457.3 225.6h0M441.8 240.7h0" stroke="#f0bce0" stroke-width="3.0" stroke-linecap="round" stroke-opacity="0.8"/><path d="M393.6 205.5h0M361.3 213.5h0M364.8 202.2h0M443.7 219.1h0M445.9 246.9h0M375.8 204.4h0M442.1 192h0M350.4 272.3h0M437.6 203.6h0M362.4 189.6h0M383.2 280.2h0M442.2 240.6h0M428.5 283.9h0M451 278.1h0M382.4 241.7h0M351.9 252.2h0M418.3 278.9h0M472.2 277.3h0M456.1 184.1h0M435.3 203.7h0M438.2 209.3h0M407.6 198.6h0M443.6 299h0M349.6 240.2h0M449.5 230.6h0M449.7 288.3h0M448.9 261.6h0M458 220h0M344.5 298.4h0M421.3 201.2h0M335.3 293.9h0M448.9 224.7h0M415.9 204.5h0M439 288.9h0M371.3 210.9h0M389.6 202.9h0M456.6 229.2h0M377.2 192.2h0M460.5 208.9h0M385.7 199.8h0M369.2 193.5h0M371.3 235.5h0M364.7 176.7h0M372.9 197.3h0M404.7 174.6h0M381.9 215.9h0M378.1 181.7h0M332.3 304.8h0M440.7 276.3h0M355.6 226h0M368.3 190.5h0M442.7 202.1h0M346.3 264.9h0M448.4 205.2h0M397.7 248.2h0M449.2 275.8h0M371.7 209.4h0M392.1 248.2h0M375.1 250.3h0M364.1 179.3h0M374.9 305.6h0M353.3 202.3h0M461.6 265h0M465.2 186h0M448.6 268.2h0M417.8 254.2h0M429.6 187.4h0M441.4 248.2h0M464.2 192.8h0M351.3 206.6h0M346.1 306.3h0M376.1 213.1h0M368.8 267.3h0M465.7 212.1h0M378.5 277.6h0M460 181.3h0M407.5 223.5h0M347.6 176.5h0M419.9 209.9h0M408 305h0M373.5 211h0M358.7 209.8h0M429.9 280.4h0M392 201.6h0M469.1 236.7h0M416.1 215.6h0M464.2 283.1h0M337.4 195.5h0M404 261h0M324.3 271.9h0M356.4 286.6h0M410.7 309.9h0M383.6 216.8h0M360 211.4h0M426.9 235.5h0M327.2 179.5h0M430.9 229.9h0M379.4 302.5h0M440.2 243.8h0M391.4 205.6h0M459.6 280.6h0M445.8 222h0M441.1 234.7h0M426.8 212.3h0M353.8 217.9h0M442.3 207.6h0M468.6 190.7h0M334.6 226.4h0M470.2 180.4h0M470.9 273.7h0M446.2 189.2h0M434.1 231.4h0M447.2 215.5h0M405.4 206.1h0M398.6 193.2h0M458.8 286.5h0M392.6 276.1h0M411.8 195.6h0M345 206h0M390.4 248.8h0M440.8 253.7h0M449.7 304.3h0M379.1 267.3h0M459 267.7h0M466.7 264.4h0M439 198.5h0M338 206.2h0M458.6 271.4h0M325.6 184.4h0M400.4 191.6h0M458.3 256.1h0M435.7 269.5h0M428.5 296.7h0M380.3 235.2h0M450.1 187.2h0M426.3 256h0M468.4 242.9h0M356.6 203.7h0M383.3 210.3h0M358.7 257.8h0M446.7 298.8h0M412 171.4h0M341.2 230h0M364.7 209.1h0M461 302.5h0M375.7 206.9h0M411.1 212.9h0M457.7 262h0M452 303.1h0M349.9 206.1h0M379.8 185h0M471.3 263.3h0M442.2 305.5h0M460.1 233.2h0M375.1 219.8h0M444.3 214.4h0M444.6 237.6h0M401.2 188.7h0M419.3 186.6h0M466.4 230h0M452.3 259.7h0M413.9 277.5h0M361 178.4h0M430.6 278.6h0M464.7 292.2h0M451.8 176.3h0M358.7 245.1h0M357.9 173.8h0M471.7 224.9h0M420.6 230.9h0M460.8 265.9h0M471.4 231.2h0M391.9 182.5h0M462 185.9h0M462.1 270.8h0M367.9 184.2h0M468.8 216.1h0M466.1 195h0M371.7 285.9h0M466.9 270.2h0M404.9 283.4h0M448.9 299.5h0M401.1 174.8h0M438.6 272.4h0M466.4 191.2h0M369.3 233.6h0M397.1 194.1h0M453.8 278.6h0M384 203.4h0M380.3 261.2h0M331.8 185.1h0M403.2 179.3h0M322.8 277h0M372.8 190.4h0M469.8 259.9h0M414 221h0M434.3 207.9h0M381.9 196.5h0M467.8 255.8h0M354.6 196.2h0M462.1 228.2h0M377.2 201.3h0M466 273.4h0M456.3 255.8h0M350.9 189.9h0M423.6 239.9h0M368 218.4h0M403.9 189.3h0M393.2 228h0M446.9 270.5h0M326.4 267.4h0M446.7 241.2h0M441.7 308.3h0M436.4 274.4h0M419.8 294.8h0M448.8 198.8h0M409.6 197.9h0M450 236.6h0M451.9 259.9h0M346.8 223.3h0M444.8 238.8h0M404.3 197.6h0M428.5 199.6h0M464.7 246.2h0M361.8 187h0M423.4 226h0M380.1 211.4h0M384.6 246.6h0M368.5 288.5h0M438.1 247.9h0M447.3 273.9h0M471.5 261.8h0M392.7 270.8h0M464.8 215.5h0M414.1 172.4h0M433.8 258.1h0M424 208.7h0M394.6 196.8h0M419 245.2h0M468.4 215h0M422 307.3h0M471 295.8h0M390.2 184.6h0M456.8 269.2h0M416.8 190.6h0M390.7 278.4h0M472.5 260.5h0M389.7 242.2h0M351 194.8h0M446.7 259.3h0M440.9 230h0M400.5 217.6h0M389.5 271h0M420.7 215.7h0M393.1 210.9h0M336.5 251.2h0M465.6 175.2h0M455.1 241.2h0M446.1 259.5h0M471.3 285.3h0M393.9 201.5h0M467.6 250.9h0M386.9 214.8h0M398 270.3h0M441.9 193.4h0M393.1 233.2h0M447.5 277.1h0M465.4 285.5h0M387.9 212.9h0M457.6 266.6h0M402.2 180.2h0M407.8 258.2h0M437.9 196.9h0M422.7 207.7h0M445.2 273.9h0M332.1 206h0M389.6 225.9h0M432.1 202.7h0M463.8 276.2h0M464.8 196.3h0M463.3 273.2h0M384.8 196.7h0M419.5 228h0M454.4 205.9h0M438.6 249.9h0M440 286.7h0M414 260.6h0M359.4 191.4h0M404.3 229.9h0M460.1 205.7h0M428.6 238.4h0M370.8 195h0M357.3 203.5h0M455.6 302.4h0M337.4 203.8h0M449.3 212.2h0M441.2 253.8h0M372.2 259.2h0M472.3 227.5h0M445.3 294.6h0M354 252.9h0M437.3 216.8h0M428.6 283.4h0M392.4 183.5h0M444.7 251h0M402.9 206.9h0M452.3 263h0M444.9 258.3h0M386.6 228.4h0M406.8 217.9h0M468.4 309.1h0" stroke="#f0bce0" stroke-width="3.5" stroke-linecap="round" stroke-opacity="0.8"/><path d="M408.5 192.2h0M390.7 174.4h0M437.3 260h0M438.9 186.9h0M442.3 286.4h0M464.6 261.2h0M424.4 243.2h0M461.8 217.4h0M444.4 177h0M437.5 239.7h0M375.4 221.6h0M369.1 173h0M448.1 220.2h0M372.4 205.1h0M347.1 254.7h0M443.3 281.5h0M463 268.7h0M369.7 209.4h0M417.8 244.4h0M458.5 236.9h0M368.4 257.2h0M368 174.1h0M364.2 172.7h0M443 246.1h0M420 181.1h0M374.9 195.9h0M454.6 235.4h0M343.2 257.8h0M345.5 289.2h0M364.4 211.7h0M437.1 279.5h0M378.9 258.2h0M416.7 189.8h0" stroke="#f0bce0" stroke-width="4.0" stroke-linecap="round" stroke-opacity="0.8"/>
<path d="M467.4 183.3h0M468.2 283.6h0M436.7 282.3h0M404.8 279.8h0M370.3 290.4h0M380.1 278.4h0M382.4 306.4h0M363 255h0M420 304.6h0M465 205.7h0M348.5 238.5h0M398.9 179.6h0M335 266.7h0" stroke="#84187a" stroke-width="1.0" stroke-linecap="round" stroke-opacity="0.7"/><path d="M362.4 211.5h0M408.9 205.3h0M413.3 199h0M390.8 279.1h0M376.8 265.3h0M427.4 212.5h0M371.2 174.1h0M421.2 216.7h0M346.7 200.5h0M416.9 278.2h0M429.4 248.7h0M401.2 198.8h0M466.2 307h0M351.1 303.9h0M384.7 193.2h0M324 205h0M354.5 232.5h0M337.1 199h0M409.9 257h0M455.2 216.3h0M402.8 187.3h0M357.3 242.7h0M453.5 183.1h0M360.1 236.4h0M452.1 264h0M336.8 281h0M329.1 290.2h0M334.3 236h0M394 298.8h0M404.9 303.6h0M361.7 309.9h0M328.4 262.4h0M342 230.9h0M463.5 269.5h0M353.8 253.2h0M433.6 238.8h0M448.5 304.9h0M468.9 290.6h0M368.6 213.2h0M443.4 254.2h0M401 291.1h0M460 210.1h0M429.8 234.7h0M390.7 182.9h0M364.9 190.4h0M362 268.7h0M423.5 205.7h0M439.1 284h0M410.6 173h0M437.3 180.1h0M345.2 197.5h0M334 301.2h0M326.9 201h0M459.3 308.4h0M461.6 213.4h0M344.7 295h0M381.7 215.1h0M447.7 198.8h0M463.4 272h0M430.6 221.9h0M422.5 287h0M384.9 212.3h0M414.7 276.7h0M334.1 239.8h0M459.8 229.9h0M404.4 254.9h0M447.6 304.7h0M441.4 175.9h0M369.2 240.7h0M419.9 295.3h0M415.3 231.1h0M340.2 305h0M362.2 263.9h0M371.9 235.1h0M449.3 227.4h0M453.8 251.3h0M381.7 220.2h0M373 233.5h0M349.8 294.1h0M412.5 177.8h0M366.7 177.6h0M351.9 195.4h0M380.3 277h0M465.2 310.3h0M420 220.8h0M382.9 193.1h0M458.7 180.1h0M462.2 283.8h0M413 298.5h0M393.8 216.5h0M388 222.2h0M339.2 281.1h0M332.7 267.4h0M466.8 246.3h0M434.9 189.2h0M326.3 283.3h0M321.9 269.7h0M363.5 230.7h0M354.8 271.3h0M366.9 192.4h0M461.2 280.8h0M342.6 302.5h0M366.6 196h0M334.6 284.1h0M417.1 260.1h0M446.7 227.9h0M407.8 240h0M348.2 203.6h0M464.1 232.5h0M401 230.2h0M357.2 284h0M455.4 199.5h0M429.9 306.8h0M431.7 235.4h0M399.1 181.3h0M329.8 226.3h0M463.2 203.7h0M373.1 183.6h0M454.7 184.5h0M464.9 243.6h0M381.7 179.8h0M346 303.1h0M411.1 260h0M362.6 239.6h0M333.5 258.1h0M385.2 248.3h0M459.5 274.3h0M446.9 228.8h0M423.5 281h0M395.5 252.5h0M350 211.3h0M352.8 213.9h0M415.3 279.3h0M453.9 242.2h0M359.1 217.8h0M437.8 237.2h0M441.6 181.8h0M352.9 177.7h0M341.2 264.3h0M336.9 232h0M322.5 287.1h0M390.1 205.1h0M436.1 274.7h0M367.5 233.3h0M335.7 302.1h0M460.4 243.2h0M441.2 293.1h0M369.9 187.1h0M347.8 245.6h0M462.3 241.9h0M368.2 233.6h0M380.3 212.5h0M388.3 177.3h0M385.3 180.7h0M406 300.3h0M346.8 292h0M471.1 280.4h0M347.9 220.7h0M390.9 264.3h0M371 197.3h0M375.2 189.9h0M454.9 234.8h0M408.8 282.6h0M381.1 195.4h0M358.2 281.2h0M404.1 284.8h0M334.1 257.3h0M467.8 183.4h0M450.8 242.8h0M362.4 271.7h0M387.9 304.7h0M400.3 244.5h0M363 253h0M413.3 216.9h0" stroke="#84187a" stroke-width="1.5" stroke-linecap="round" stroke-opacity="0.7"/><path d="M469.8 183.5h0M371.7 230.5h0M469.2 277.6h0M368.4 287.5h0M330.1 234.6h0M387.3 285.6h0M396.3 175.7h0M425.2 311h0M324.2 172.4h0M360.3 178.7h0M405.4 284.7h0M401.3 252.1h0M375.9 256.2h0M340.8 266.1h0M402.4 211h0M392.9 241.9h0M346.3 240.9h0M321.6 207.1h0M348.5 276h0M408.2 207.8h0M364.3 282h0M328.9 181.9h0M404.2 182.2h0M386.2 257.2h0M405.3 296.3h0M465.5 299.3h0M449.4 245.1h0M433.3 207.9h0M380.1 266.6h0M363.2 190.2h0M469.6 296.8h0M385 248.2h0M434 285.6h0M460.5 242.3h0M332 304.5h0M358 287.7h0M453.5 217.6h0M329.9 201.4h0M465.4 301.8h0M375.5 277.9h0M421.5 241.4h0M336.3 177.3h0M402.5 205.8h0M374.7 219.5h0M391.8 264.5h0M340.9 267.9h0M437.1 205.2h0M405.7 201.5h0M441.3 296.7h0M447.4 196.2h0M343.1 256.5h0M344.9 173.6h0M445.6 186.8h0M334.7 307h0M469.5 286.2h0M418.8 190.1h0M371.8 309.5h0M363.9 234.3h0M356.2 183.3h0M451.4 219.9h0M327.1 201.5h0M328.9 203.4h0M437.4 216.2h0M342.4 222.5h0M375.3 226.7h0M349.7 224.9h0M346.3 175.6h0M410.1 188.2h0M469.7 219.8h0M332.9 217.6h0M469.1 299.6h0M419.9 216.6h0M465.4 276.1h0M391 193h0M457.4 203.2h0M380.1 286.6h0M431.5 273.4h0M370.1 214.5h0M342.4 231.5h0M356.4 258.9h0M328 232.3h0M355.5 270.6h0M437.2 231.6h0M338.9 210.7h0M384.5 245.8h0M376.9 192.2h0M336.1 265h0M328.5 174.2h0M398.7 192.8h0M464.5 259.4h0M339.9 265.1h0M455.9 281.2h0M357.6 306.3h0M335.8 227.3h0M334.4 228h0M446.6 232h0M439.3 250.2h0M358.8 203.4h0M364 229.9h0M445.4 231h0M460.6 173.2h0M400.4 253.4h0M349.5 217.8h0M370 307.7h0M428.3 204.8h0M431.5 299.4h0M398.7 219.3h0M393.3 198.8h0M376.1 268.8h0M407.6 228.2h0M390.5 303.1h0M324.5 278.8h0M359.3 282.7h0M372.9 261.1h0M436.6 208.2h0M335.8 279.8h0M398.5 279.1h0M368.3 183.6h0M426.7 200.7h0M339.5 281.8h0M377.5 219.6h0M379.4 212.9h0M346.5 211.2h0M334.8 206.9h0M391.7 226.5h0M406.3 214.2h0M391.7 172.6h0M426.6 267.5h0M332.9 236.3h0M435.8 274.9h0M463 181.5h0M388.1 224h0M425.1 260.9h0M337.4 263.7h0M322.1 180.9h0M458.5 172.7h0M355.2 282.3h0M446 241h0M378.9 203.2h0M343.3 232.8h0M403.7 186.2h0M466.9 292.4h0M348.4 300.4h0M361.1 175.7h0M385.9 197.8h0M347.8 176.2h0M370.5 295.2h0M383.3 293.7h0M363 234.2h0M418.8 232.9h0M456.4 308.6h0M448.7 304.8h0M460.7 299.2h0M400.3 301.6h0M417 306.3h0M338 306.9h0M385.2 299.2h0M440.7 229.7h0M324.7 236.3h0M328 253h0M402.4 217.4h0M396.3 192.4h0M335.6 298.2h0M439 214h0M357.1 283.9h0M327.7 223h0M390.6 249.6h0M334.7 289.9h0M442.8 279.1h0M406.2 177.6h0M444.5 225h0M452.4 245.1h0M460.9 233.7h0M366.5 233.7h0M404.2 192.2h0M446.5 306.1h0M345.1 200.3h0M454.4 233.1h0M411.5 282.3h0" stroke="#84187a" stroke-width="2.0" stroke-linecap="round" stroke-opacity="0.7"/><path d="M422 242.7h0M466.8 309.6h0M377.6 307.3h0M335.1 294.2h0M410.2 276.2h0M337.8 274.7h0M426.4 285.5h0M429 292.2h0M460.6 193.7h0M321.7 192.3h0M372.4 236.2h0M336.9 197.4h0M344.2 183.5h0M440.3 311h0M323.1 291.6h0M416 246.5h0M331.4 269.5h0M356.6 175.7h0M398.5 235.6h0M349 303.9h0M469.4 234.4h0M417.5 171.6h0M439.6 301.3h0M427.5 302.9h0M457.6 179.8h0M405.1 212.8h0M397 273.3h0M471.8 181h0M441.7 229.8h0M465.8 294.1h0M440.6 176.2h0M403 194.7h0M389.5 191h0M440.6 190.6h0M451.3 257h0M383.5 298.2h0M396.8 235.1h0M377.8 237.5h0M458.1 227h0M465.4 302.5h0M332.8 250.9h0M349 307.1h0M383.7 175h0M384.9 223.6h0M457.1 249h0M436.9 271.8h0M427.2 303.4h0M450.1 226.2h0M414 271.2h0M454.1 235.9h0M389.9 256.9h0M321.9 232h0M458 299.1h0M470.9 264.4h0" stroke="#84187a" stroke-width="2.5" stroke-linecap="round" stroke-opacity="0.7"/>
<path d="M435.4 257.7h0M466.8 177.6h0M426 190.8h0M344 288.1h0M398.4 234.6h0M380.9 304.3h0M422.2 306h0M350.3 209.5h0M382.5 183.5h0M369.9 271.3h0M412.5 298.3h0M334.3 293.8h0M346.1 194.8h0M394.1 282.9h0M339.9 224.4h0M447.5 213.3h0M405.7 287.4h0" stroke="#fdf4fa" stroke-width="2.0" stroke-linecap="round" stroke-opacity="0.97"/><path d="M458.5 181.1h0M453.8 241.2h0M457.7 268.2h0M332.6 291h0M343.4 281.5h0M453 304.6h0M463.7 304.2h0M469.4 174.1h0M351.6 171.4h0M414.8 217.7h0M407.4 236.8h0M364.8 201.7h0M410.5 190.7h0M370.6 250.9h0M367.4 196.6h0M387.8 258.9h0M339.9 271.4h0M420.5 221.6h0M439.9 291.9h0M464.1 232.5h0M445.9 289.3h0M343.9 183.9h0M428.8 234.2h0M368.2 217.5h0M372.9 309h0M428 271.1h0M404.9 271.8h0M323.1 208.8h0M386.4 281.4h0M397.1 255.6h0M360 181h0M413.6 223.1h0M398.9 175.7h0M467.4 218.9h0M424.5 233.3h0M425.3 304.4h0M417.2 196.7h0M366.6 256.7h0M429.7 186.7h0M362.1 215.2h0M338.4 220.2h0M409.7 268.7h0M470.8 272.6h0M452.1 228.1h0M433.8 197.1h0M464.2 175.3h0M451.7 232.7h0M442.2 287.7h0M381.1 256.3h0M450 173.9h0M345.8 181h0M398.5 276.6h0M386 204.9h0M355.2 289.6h0M417 221.7h0M377.2 238.8h0M379.5 235.4h0M404.6 296.6h0M352.6 241.6h0M329.4 269.3h0M378 263.8h0M407.2 194.1h0M330.4 228.9h0M427.2 307.5h0M390.6 297.8h0M453.6 264.6h0M360.7 286.5h0M345.4 208.4h0M413.5 234.5h0M350.2 198.1h0M378.6 204.6h0M450.3 189.4h0M338.2 196.2h0M407.7 204.2h0M379.5 294h0M328.9 225.7h0M406.5 245.4h0M321.8 197.6h0M394.6 180h0M467.1 302.7h0M385.3 262.1h0M446.2 284.6h0M331.5 176.9h0M401.5 288.2h0M357.6 275h0M330.1 211.1h0M394.6 299.9h0M463.4 181h0M353.7 213.5h0M366.5 305.4h0M423.9 311.3h0M441.6 209.6h0M394.4 223.6h0M428.3 179.5h0M441.4 268.7h0M425.8 224.6h0M415.7 212.6h0M460.7 279.4h0M375 242.3h0M395 175.9h0M456.9 281.8h0M410.2 182.7h0M371.6 293.8h0M445.9 275.3h0M321.6 201.7h0M461.6 294.1h0M363.2 218.2h0M321.9 263.6h0M429.8 291.8h0M426.8 253.9h0M447 254.1h0M414.8 237.6h0M357.6 293.4h0M462.2 272.2h0M450.5 286h0M403.3 275.3h0M409.2 289.3h0M336.6 260h0M410.2 218.8h0M375 201.9h0M365.4 300.5h0M328.3 266.2h0M418.9 216.4h0M379.8 231.5h0M334 286.9h0M465.2 215.4h0" stroke="#fdf4fa" stroke-width="2.5" stroke-linecap="round" stroke-opacity="0.97"/><path d="M394.2 234h0M412.1 259h0M402.6 249.5h0M335 237.7h0M427.5 216.7h0M374.4 253.7h0M383.5 229.2h0M368.7 240h0M376.2 233.6h0M367.2 212h0M340.6 302.8h0M336.2 180.8h0M334.5 215.5h0M399.9 211.6h0M335.4 225.1h0M382.7 233.5h0M469.7 199.8h0M352.5 218.9h0M424.2 177.8h0M451.7 204.1h0M414.5 176.5h0M414.5 245.7h0M328.7 261.8h0M396.9 296.9h0M464.5 239.1h0M430.6 310.4h0M442.9 252.1h0M401.3 279.1h0M417 249.7h0M427.9 267.6h0M321.9 214.4h0M384.6 188h0M431.1 261h0M369.1 244.2h0M374 226.6h0M470.1 245.8h0M362.2 210.8h0M372.4 246.6h0M327.5 187.9h0M430.2 211.7h0M398.8 187.6h0M370.1 283h0M467.5 183.2h0M381.3 238.8h0M442.6 245.2h0M337.2 232.5h0M440.5 173.8h0M442.3 189h0M415.2 283.7h0M465.5 292.1h0M402.1 208.1h0M420.3 188.2h0M367.3 171.3h0M357.5 215.4h0M436 221.6h0M327.8 198.4h0M353.8 294.4h0M439.4 218.1h0M392.8 257.7h0M322.5 184.2h0M438.2 229.5h0M329 241.9h0M347.7 204.2h0M438.8 278.3h0M384.5 193.7h0M324.4 227.1h0M357.4 177.3h0M465.7 207.5h0M450.4 272.9h0M378.8 173h0M341.4 178.1h0M388.8 207.4h0M434.7 306.1h0M431.1 241.4h0M347.4 284.4h0M419.6 201.1h0M387.4 301.5h0M350.3 289.9h0M470.9 194.9h0M333.9 229.8h0M378 217.1h0M394 212.2h0M374.5 300.4h0M406.9 230.6h0M447.8 295.5h0M369.4 175h0M430.9 221.3h0M371.1 196.5h0M406.8 210.1h0M437 180.5h0M447.8 186.9h0M330.2 302.5h0M345.6 189.4h0M331.6 296.7h0M426.4 228.3h0M424 209.5h0" stroke="#fdf4fa" stroke-width="3.0" stroke-linecap="round" stroke-opacity="0.97"/><path d="M330.1 215.5h0M408.9 172.9h0M435.5 254h0M374.4 221.2h0M356.4 237.2h0M340.8 230.5h0M357.4 199h0M458.1 303.4h0M465.2 193.6h0M325.9 203.1h0M445.6 230.8h0M377.5 284.6h0M462.3 210.9h0M432.8 178.2h0M456.3 225.2h0M425.3 184.7h0M419.7 309.6h0M332.2 192.6h0M402.7 238.7h0M407.7 302.3h0M386.4 237.7h0M458.8 194.3h0M433.3 171.6h0M447.7 269h0M459 189.4h0M331.2 279.1h0M361.7 190.8h0M426 239.7h0M376.2 259.5h0M472 291.5h0M380.4 260h0M436.6 174.8h0M471.7 253.1h0M450.5 246.5h0M443.4 306.9h0M453.8 195.7h0M462.6 185.9h0M370.2 200.8h0M410.7 186.5h0M436.7 248.9h0M404.4 201.9h0M425.9 205.1h0M443.7 280.4h0M337.5 192.3h0M372.2 216.3h0M391.4 218.9h0M417.4 192.1h0M332.9 275h0M409.2 242.3h0M452.1 211.2h0M461.8 224.9h0M373.9 176.2h0M441.8 179h0M344.5 199.9h0M463.1 276h0M355.8 299.4h0M404.2 174.2h0M329.5 205.5h0M388.5 197.7h0M422.6 173.1h0M324.7 266.4h0M431.3 255.8h0M333.2 208.3h0M348.4 225.2h0M345.2 231.3h0M418.9 176.2h0M449.4 291.2h0M336.2 270.4h0M462.7 218.6h0M333 220.8h0M448.8 193.3h0M467.8 203.8h0M425.7 290.7h0M349.8 310.7h0M415.7 200.6h0M375.4 186.3h0M359.6 207h0M470.3 222.6h0M348.1 242.5h0M418.8 234.8h0M366.1 206.2h0M446.7 219.1h0M363.4 173.9h0M385.7 275.4h0M340.1 200.3h0M435.3 191.5h0M343.6 274.3h0M418.5 281.2h0M397.7 182.8h0M339.7 215.8h0" stroke="#fdf4fa" stroke-width="3.5" stroke-linecap="round" stroke-opacity="0.97"/><path d="M410.9 214.3h0M398.4 284.4h0M444.3 204.3h0M346 278.2h0M455 171.7h0M420.8 206.5h0M471.8 184.1h0M348.8 184.5h0M406.9 307.5h0M401.8 232.1h0M467.8 188.7h0M432.9 183.7h0M341.9 194.4h0M370.1 277.3h0M334.3 300.6h0M445.6 182.9h0M329.8 172.6h0M449.8 224.9h0M399.4 224.3h0M378.2 190.9h0M335.3 242.3h0M472.3 268.6h0M425 220.5h0M422.4 214.1h0M394.2 171.8h0M389.7 284.6h0M458.4 201.2h0M403.6 181.3h0M391.9 310.9h0M442.6 214h0M363.5 185.6h0M379.5 226.9h0M460.5 309.6h0M362.8 238.4h0M405.2 282.1h0M409.2 178.4h0M450.6 180.1h0M460.6 283.6h0M376.7 279.9h0M440.8 233.6h0M437.1 208.8h0M358.1 244.7h0M375.4 295.5h0M430.7 191.9h0M398.7 241.5h0M471.8 216.1h0M461.3 171.6h0M414.2 271.1h0M472.5 205.2h0M437.1 187.1h0M449.7 236.5h0M471.3 178.8h0M417.1 275.9h0M336 282.9h0M369.9 224.6h0M342.8 298.8h0M466.5 262.5h0M395.6 207.4h0M332.3 233.8h0M421.8 193.5h0M459.9 256.5h0" stroke="#fdf4fa" stroke-width="4.0" stroke-linecap="round" stroke-opacity="0.97"/><path d="M378.8 198.9h0M409.1 294h0M463.6 287.8h0M330.9 183.1h0M339.8 287.2h0M434.3 236h0M459.2 176.5h0M342.9 245.4h0M453.9 186.3h0M341.2 237.5h0M445.2 171.8h0M389.8 227.2h0M396.9 260.1h0M322.2 243.8h0M434.2 217.1h0M404.4 189.5h0M435.5 291.5h0M369.3 302.1h0M469.1 258.1h0M461.2 261.5h0M459.1 206.3h0M332.2 256.3h0M397.4 219h0M406.1 224.3h0M365.9 272.9h0M394.2 191.4h0M416.8 171.6h0M382.6 279.1h0M368.8 289.1h0M401.8 256h0M438.6 241h0M454 250.9h0M462.8 298.8h0M464.7 199.3h0M440.1 193.3h0M360.2 233h0M441.8 261.1h0M449.8 199.4h0M379.9 289.1h0M397.2 311.5h0M410.7 284.9h0M416.4 255h0" stroke="#fdf4fa" stroke-width="4.5" stroke-linecap="round" stroke-opacity="0.97"/><path d="M457 213.5h0M338.9 294h0M379.6 299.1h0M353.4 180.7h0M428.8 174.2h0M471.6 237.7h0M415.6 293.2h0M416.7 183.7h0M393.6 291.3h0M384.5 286h0M401.7 195.8h0M396.4 229.1h0M340.3 187.8h0M390 175.7h0M405 260.8h0M471.3 210.9h0M345.7 173.1h0M392.1 303.6h0M395.4 246.8h0M382.4 266.5h0M444.3 197.8h0M469.2 286.7h0M347 212.7h0M413.1 206.7h0M377.8 308.8h0M464.2 253.7h0M371.5 206.5h0M372.7 237.2h0M419.7 268.5h0M389.3 233.4h0" stroke="#fdf4fa" stroke-width="5.0" stroke-linecap="round" stroke-opacity="0.97"/><path d="M438.7 200.6h0M423.7 249.5h0M324.1 258.5h0M443.8 238.5h0M334.4 200.1h0M350.3 192.6h0M426.2 285.2h0M333.6 264.6h0M386.8 307.7h0M382.5 244h0M355.7 186.5h0M360.6 302.2h0M349.1 301h0M400.8 293.1h0M345.8 292.9h0M394 200.6h0M448.1 303.7h0M430.7 246.7h0M410.6 199.3h0M372.5 181.4h0M386.2 212.2h0M441.5 223.8h0M432.1 202.8h0M382.3 177.1h0M452 218.2h0M336.7 174.1h0M404.9 215.7h0M412.1 310.9h0M466.6 269.5h0" stroke="#fdf4fa" stroke-width="5.5" stroke-linecap="round" stroke-opacity="0.97"/><path d="M353 204.6h0M469.8 298.3h0M432.5 228.1h0M323.9 178.9h0M412.5 228.7h0M324.4 192.5h0M389.4 242.9h0M470.3 229.2h0M334.4 250.3h0M469.3 277.9h0M363.4 247.6h0M387.9 183.7h0M419.6 287.3h0M379 250.5h0M339.3 277.7h0M415.5 302.7h0M413.8 265.5h0M437.4 310.5h0M365.2 179.4h0M457 275h0M425.4 198.2h0M357 171.5h0M334.3 307.5h0M434.2 274.7h0M322.9 172h0" stroke="#fdf4fa" stroke-width="6.0" stroke-linecap="round" stroke-opacity="0.97"/><path d="M453 311.6h0M383.8 219.2h0M423 297.7h0M420.6 228.9h0M458.4 234.5h0M355.5 308.5h0M453.1 258.8h0M419.4 241.5h0M339.4 208.1h0M370.9 190.3h0M455.4 288.5h0M348 236.5h0M463.2 246.6h0" stroke="#fdf4fa" stroke-width="6.5" stroke-linecap="round" stroke-opacity="0.97"/><path d="M400 269.4h0M422.4 259.8h0M354 229.1h0M377.2 210.4h0M326.2 249.3h0M365.9 311.5h0M324.5 307.7h0M367.8 231.9h0M343.7 307.8h0M450.8 280.3h0M435.6 267.3h0" stroke="#fdf4fa" stroke-width="7.0" stroke-linecap="round" stroke-opacity="0.97"/><path d="M362.8 224.2h0M363.4 279.6h0M471.5 309.4h0M434.1 282.9h0M409.2 253.2h0M385.9 293.5h0M454.5 297.6h0M378.9 273.4h0M410.1 276.5h0M392.1 277.5h0M323.9 297.7h0M344.4 219.9h0" stroke="#fdf4fa" stroke-width="7.5" stroke-linecap="round" stroke-opacity="0.97"/><path d="M369.9 265.4h0M386.8 252.5h0M353 280.7h0M390.9 267.6h0M363.7 294.6h0M324.9 220.1h0M399.5 304.2h0" stroke="#fdf4fa" stroke-width="8.0" stroke-linecap="round" stroke-opacity="0.97"/><path d="M321.9 275.6h0M324.7 233.7h0M432.2 298.4h0M441.6 298.9h0M325.6 287.3h0M424.3 276.4h0" stroke="#fdf4fa" stroke-width="8.5" stroke-linecap="round" stroke-opacity="0.97"/>
<path d="M336,250 C340,246 348,247 352,250 C356,252 360,258 358,262 L346,262 C343,258 338,256 336,250Z" fill="#8c3494" fill-opacity="0.8"/>
<path d="M341,257 C345,251 356,252 362,256 C367,261 363,268 355,268.5 C349,269 342,266 341,262 Z" fill="#df1458"/>
<path d="M347,267 L349,276" fill="none" stroke="#8a2a90" stroke-width="2.2" stroke-opacity="0.8"/>
</g></g>
<g clip-path="url(#cP4)">
<g filter="url(#soft)">
<rect x="475.0" y="172.1" width="147.7" height="140.2" fill="#f4f0f5"/>
<path d="M521.3 211.2h0M552.8 310.4h0M583.6 284.2h0M510.4 198.9h0M564.4 178h0M512.2 172.7h0M576.8 218.4h0M556.1 256.9h0M568.7 252.1h0M493.8 210h0M514.5 265.4h0M604.3 234h0M530.6 297.7h0M561.6 231.2h0M551.1 270.4h0M620.8 201.9h0M605.3 179.8h0M561.2 213.3h0M518.4 210.1h0M530.3 208.1h0M563.4 199.4h0M580.1 261.5h0M479.1 208.9h0M565.3 301.8h0M522 239h0M560.8 230.4h0M506 311.2h0M568.6 270.1h0M612.7 278.7h0M551.7 228.7h0M599.1 264.2h0M485.8 197h0M537.5 197.6h0M596.6 301.9h0M614.9 251.6h0M510.6 208.4h0M479.2 188.8h0M584.1 302.4h0M479.2 223.2h0M522.3 173.6h0M619.4 250.5h0M572.5 269.5h0M495.6 212.2h0M553 249.8h0M621.1 309.4h0M542.4 180.8h0M560.7 290.4h0M514.1 194.1h0M602.5 277.8h0M476 279.9h0M596.4 285.1h0M491.8 250.4h0M608.9 289.5h0M622.1 309.7h0M556.7 261.6h0M542.6 220.5h0M515.6 234.2h0M617.3 310.9h0M482.7 296.6h0M497.1 209.7h0M528.1 208.7h0M622.3 200.5h0M527.8 305.9h0M598.1 255.6h0M566.1 259.8h0M568.5 303.1h0M514.6 301.9h0M550.3 278.9h0M530.3 241.3h0M482.7 286.9h0M480.6 208.3h0M506.3 298.7h0M585.1 303.1h0M576.3 216.2h0M488.4 183.1h0M484.7 297.8h0M523.2 198.2h0M607.9 263.9h0M571.8 213.9h0M542.8 177.3h0M508.5 176.2h0M534.8 300.2h0M601.5 228.1h0M565.8 254.4h0M495.1 214.3h0M552.3 311.8h0M600.1 303.3h0M485 258.2h0M573.2 189.3h0M528.9 233.7h0M478.8 247.4h0" stroke="#9c9ad4" stroke-width="1.5" stroke-linecap="round" stroke-opacity="0.6"/><path d="M504 282.8h0M593.2 199.6h0M582.4 275.3h0M591.8 285.1h0M521.7 234.5h0M522.9 302.8h0M595.1 299h0M481.2 229.5h0M621.7 210h0M523.2 280h0M560.4 290.9h0M573.4 208.6h0M498.4 266.1h0M552 285.8h0M489.5 206.1h0M563.6 196.4h0M571.6 305.3h0M584.2 199.6h0M500.1 263.4h0M485.7 291.9h0M515.2 205.7h0M570 196.4h0M494.7 311.9h0M502.1 256.8h0M580.1 177.1h0M561.7 310h0M545.5 298.6h0M617.7 216h0M584.6 173.2h0M495.3 285.3h0M508.5 183.4h0M524.4 249.2h0M477.6 229.6h0M562.6 239h0M493.9 251.1h0M563.9 258.1h0M544.2 239.4h0M550.2 189.8h0M597.3 295.8h0M589.3 184.6h0M592 227.5h0M565.3 258h0M563.3 186.6h0M525.4 177.4h0M603.2 286h0M554.4 229.2h0M475.7 278.1h0M567.2 240.3h0M572.9 187.6h0M558.5 274.3h0M503.7 224h0M520.2 258.8h0M501.1 254.3h0M529.4 202.3h0M521.7 252h0M528.9 281.4h0M509.6 204.6h0M585.3 304.3h0M505.1 205.1h0M491.7 264.3h0M499.9 209.8h0M564.4 263.8h0M571.5 223.1h0M492.3 184h0M525.8 183.3h0M588.4 246.2h0M613.9 176.6h0M531.2 273.1h0M574 202.6h0M540.3 207.8h0M494.9 237.5h0M584.5 275.7h0M606 265.4h0M499.9 219h0M603.7 190.6h0M505.6 312.2h0M535.8 247.6h0M539.4 245.6h0M537.8 295.8h0M479.9 174.6h0M491 226.3h0M568.1 230.9h0M511 230h0M497.7 182.4h0M489.2 198.9h0M503.2 190.2h0M590.9 300.6h0M584.7 202.2h0M497.7 255.2h0M517.8 312.1h0M498.6 217h0M558.9 221.8h0M578.2 294.3h0M618 298h0M565.7 215.9h0M586.5 193.8h0M541.9 204.5h0M525.1 238.9h0M506.6 259.1h0M538.4 191.9h0M540.5 197.3h0M510.2 282.9h0M572.3 182.9h0M595.7 303.4h0M581.2 201.2h0M529.3 293.1h0M530.3 232.4h0M499.5 294.8h0M510 222.8h0M526.8 296h0M567.1 297.7h0M572.9 296.2h0M529.3 204.1h0M524.7 268.8h0M573.9 215.5h0M587.4 240.5h0M478.4 214.9h0M476.8 191.8h0M518.4 199.5h0M536.5 218.6h0M607 241.4h0M553.1 239.2h0M620 285.6h0M590.4 222.9h0M524.9 266.9h0M526.3 299.1h0M538.8 269h0M584.6 300.6h0M555.6 199.6h0M523.7 205.8h0M486.4 190.5h0M511.3 215.8h0M522.5 295.5h0M552.6 309.9h0M575.9 303h0M479.9 185.5h0M530.3 272.1h0M578.8 221.2h0M547.6 202.7h0M513.1 225.7h0M553.3 204.2h0M539.9 182.3h0M586.2 255h0M570.5 207.4h0M501.5 265.5h0M533.5 186.3h0M608.5 263h0M486.3 247.4h0M549.9 312.2h0M493 273.4h0M580.3 263.7h0M523.4 220.2h0M568.6 236.6h0M581.7 182.4h0M572.5 297.1h0M493.6 284.7h0M598.7 229.4h0M509.2 296.9h0M562.5 208h0M481.1 278.4h0M570.8 289.1h0M618.6 252.8h0M615.9 181.4h0M504.8 295.9h0M512.2 259.3h0M578.5 226.6h0M505 243.8h0M620.1 309.2h0M534 184.2h0M479.1 282.4h0M535.4 205.4h0M475.9 255.9h0M488.2 228.8h0M553.5 271.4h0M617.7 223.9h0M595.6 244.5h0M550.4 263h0M548 227.3h0M533.3 292.6h0M510.3 183.1h0M505.6 295.2h0M528.8 189.7h0M541.8 207.9h0M553 293.4h0M606.1 236.9h0M489.8 201.1h0M569.7 238.7h0M581.8 306.6h0M599.3 211.2h0M526 197h0M559.1 261.1h0M488.3 249h0M528.1 304.9h0M477.8 291.7h0M475.3 221.7h0M615.6 308.4h0M520 268.9h0M574.4 226.9h0M480.5 262.1h0M536.7 216.3h0M555.6 247.7h0M482.6 232.7h0M494.4 183.7h0M518.5 260.5h0M619.4 200.6h0M578.5 198.1h0M586.6 195.3h0M509.2 187.6h0M530 307.9h0M552.1 263.3h0M601.3 182.7h0M600.2 286.1h0M546.1 243.5h0M537.9 229.7h0M550.9 293.9h0M557.4 214.4h0M520.7 209h0M479 294.5h0M566.8 277.8h0M585.7 173h0M576.6 308.9h0M573.1 267.8h0M588.9 188.7h0M514.1 248.8h0M618.3 296h0M498.1 290h0M612.6 303.2h0M493.9 239.8h0M596.1 199.6h0M535.6 261.1h0M542.8 174.7h0M621.5 253.4h0M584.9 238.4h0M577.5 310.1h0M520.4 212.2h0M477.4 260h0M505.3 224.6h0M489.8 185.2h0M476.3 220.9h0M614.2 307.2h0M504.9 177.5h0M555.1 224.4h0M615.6 185.7h0M531.2 212.7h0M536.1 178h0M480.1 311.4h0M589.6 239.1h0M560.6 256.7h0M589.4 202.7h0M539.2 191.4h0M483.4 284.8h0M587.5 225.4h0M614.3 266.2h0M499.7 247.1h0M582.7 308h0M552.3 196.9h0M547.5 255.7h0M484.5 246.3h0M492 205.4h0M500.2 253.4h0M562.7 193.5h0M507.4 199.9h0M610.5 258h0M515 183.7h0M589 266.5h0M500.9 178.3h0M537.5 205.9h0M502.2 232.5h0M515.7 267.6h0M546.9 203.1h0M582.6 285.6h0M538.6 273h0M591.6 259.8h0M557.3 224.5h0M538.1 299.9h0M515.8 271.5h0M518 269.2h0M621.3 268.7h0M546 278.4h0M513.3 229.9h0M606.5 209.3h0M611.9 298h0M491.5 275.9h0M480 202.7h0M476.7 202.3h0M490.5 286.1h0M524 180.8h0M602.8 202h0M602.7 180.2h0M594.7 205.6h0M614.2 277.4h0M530 176.8h0M566.6 248.9h0M507.7 189.9h0M503 285.3h0" stroke="#9c9ad4" stroke-width="2.0" stroke-linecap="round" stroke-opacity="0.6"/><path d="M576.4 310.6h0M533.4 293.7h0M512.4 284.5h0M605.8 266.7h0M613.7 267.4h0M504.8 305.6h0M604.6 279.2h0M560.7 184.8h0M498.1 254.6h0M615.6 194.4h0M606.1 286.9h0M540.3 278.5h0M521.4 258.4h0M534.2 189.3h0M496.7 221.8h0M516 299.3h0M498.1 301.9h0M513.8 268.4h0M550.6 174.7h0M612.7 227.3h0M508.8 257.3h0M535.4 297.2h0M488.2 228.9h0M536.5 295.8h0M545.5 173.6h0M523.9 287.6h0M562.1 197.1h0M581.3 245.4h0M534 306.7h0M602.8 186.8h0M620.4 179h0M603.3 235.8h0M578.1 298.3h0M560 226.2h0M620.5 248.8h0M584.4 255.4h0M567.5 245.5h0M598.6 242.5h0M493.6 280.7h0M499.1 205.4h0M574.9 213.9h0M505.4 250.7h0M595.3 266.2h0M493.7 244.4h0M514.4 310.5h0M549.4 305.8h0M621.4 213h0M605.2 216.2h0M602.5 235.5h0M491.1 280.1h0M558 272.8h0M509.3 248.1h0M549.9 185.1h0M529.7 311.1h0M562.9 255.2h0M545.3 281.2h0M525.8 252.6h0M518.8 259.3h0M493.2 297.2h0M568.7 272.3h0M496.6 179.7h0M613.7 178.4h0M575.5 202.9h0M583.4 308.5h0M522.2 201.9h0M482.6 177.5h0M589.2 237h0M594.2 300.8h0M614.7 298.5h0M576.7 304.4h0M580.5 255h0M620.7 280.2h0M572.2 282.2h0M502.2 246.6h0M559.2 274.5h0M606.6 243.1h0M617.2 276.3h0M499.6 197.5h0M579.6 289.4h0M564.4 207.8h0M552.9 251.6h0M586.5 259.5h0M566.2 202h0M622.5 226.3h0M587.5 250.2h0M582.8 192.5h0M547.5 258.5h0M555.6 198.3h0M604.8 287.9h0M503.5 235.4h0M493.8 216.1h0M616.6 251.1h0M493.5 311.7h0M550.1 232.3h0M485 306.6h0M516.1 187.5h0M586.9 202.1h0M486.5 195.7h0M532.8 273.4h0M607.8 226.2h0M501.8 224.7h0M518.6 196.7h0M600.5 219.7h0M548.4 184h0M575.6 204.9h0M529.4 184.7h0M499.9 255.7h0M561.6 273.5h0M507 236.3h0M582 181.7h0M559.9 234.1h0M561.8 209.7h0M533 228.9h0M565.5 208.9h0M596.7 196.4h0M487.9 217h0M520.8 253.1h0M569.4 256.2h0M561.8 187.2h0M524.7 225.6h0M520.7 200.2h0M487.9 188.5h0M531.8 304.6h0M492.2 235h0M476.5 231.3h0M526.1 285.9h0M613.7 308h0M531.1 236.1h0M563.4 267h0M586 189.9h0M487.6 200.1h0M542 217.1h0M568.1 203.7h0M567.6 240.5h0M545.6 294.6h0M589.5 242h0M584.5 232h0M495.7 308.6h0M486.1 234.7h0M560.5 224h0M613.9 247h0M524.4 297.1h0M557.9 222.3h0M550 260.7h0M536.3 274.9h0M581.4 266.9h0M477.9 303.2h0M479.5 248.1h0M546.2 286.6h0M532.9 226.6h0M599.9 310.6h0M563.3 264.7h0M578 221.2h0M616.3 253.6h0M523.9 279.7h0M483.3 196h0M498.4 251.5h0M499.9 262.3h0M601.3 181.5h0M561.7 247.8h0M590.4 244.5h0M478.2 199.8h0M607.8 307.8h0M611 229.1h0M607.2 194.4h0M582.9 184h0M529.1 206.1h0M597.7 233.7h0M504 215.6h0M547.2 173.6h0M612.2 252.1h0M619.4 223.8h0M542.7 209.1h0M616.1 175.3h0M575.6 283.3h0M610.9 284.1h0M573.4 298.6h0M531.5 243.8h0M494 212.2h0M512.3 195.9h0M516.4 311.5h0M601.7 174.8h0M617.5 265.3h0M616.6 234.7h0M508.4 190.2h0M495.8 241.8h0M481 306.8h0M546.2 236.8h0M503.6 213.6h0M605.9 260h0M600.1 218.1h0M529.6 307.3h0M597.1 216h0M542.1 301.5h0M531.6 206.9h0M508.1 199.5h0M584.1 247.8h0M565 305.4h0M538.2 187.8h0M508.6 257.2h0M534.9 188.8h0M537.1 204.6h0M479.6 283.3h0M562 299.4h0M505.1 310.1h0M595.9 216.7h0M538 215.1h0M592.7 300.5h0M534.9 216.5h0M504.9 272h0M488 222.6h0M611.6 197.2h0M548 182.5h0M579.7 190.7h0M483.5 257h0M619.5 290.4h0M608.4 303.5h0M572.6 273.8h0M478.4 193.3h0M529.6 310.4h0M605.1 251.3h0M610.3 242.7h0M511.3 242.9h0M508.1 239.8h0M578.5 217.2h0M542.6 249.7h0M502.5 177.5h0M545.1 237.6h0M573.1 259.7h0M562.5 237h0M599.6 182.7h0M486 259.9h0M554.8 270.3h0M548.9 190.3h0M620 300.9h0M611.1 308h0M487 286.2h0M518 229.5h0M516.1 172.5h0M600.1 226h0M603.7 268.6h0M542.5 305.6h0M584.4 270.2h0M522.3 263.1h0M606.5 210.7h0M577.5 306h0M572.2 293.6h0M620.4 197.9h0M490.4 261.9h0M609.1 235.8h0M508.4 306.7h0M617.2 185.7h0M612.8 199.2h0M604.6 280.7h0M597.3 203.8h0M555.4 272.7h0M539.6 220.2h0M531.3 303.3h0M619.6 243.6h0M507.4 262h0M563.6 177.7h0M499 302.1h0M558.4 224.7h0M525.6 253.4h0M589 221.2h0M582.9 304h0M592.4 199.9h0M612.5 207.7h0M478.8 307.9h0M478.7 193.8h0M534.4 281.5h0M561.4 176.6h0" stroke="#9c9ad4" stroke-width="2.5" stroke-linecap="round" stroke-opacity="0.6"/><path d="M532.7 301.3h0M559.3 245.9h0M483.9 296.6h0M482.5 205.4h0M579.5 220.3h0M578.9 282.6h0M583.9 232.6h0M496.4 258.6h0M511.9 176.6h0M588.6 244.8h0M593.3 174.6h0M573.3 302.4h0M539.3 281.8h0M516.1 295.4h0M597.6 297.6h0M590.6 266.9h0M518.6 294.2h0M602.2 273.3h0M613.8 245.9h0M583.5 272.4h0M613.8 206.5h0M573.1 215.7h0M590.3 227.2h0M615.8 270h0M604.5 262.4h0M482.1 272.5h0M545.9 270.6h0M539.2 285.5h0M571.9 197.6h0M495.4 291.7h0M596 279.4h0M618.9 227.8h0M563.9 200.1h0M591.9 276.7h0M588.5 202.9h0M535.5 219.3h0M592.3 194.9h0M584.5 276.6h0M583.5 284.8h0M581.2 221.6h0M582.4 283.4h0M575.3 226.2h0M564.1 311.2h0M622.6 286.9h0M583.3 248.6h0M580.3 178.4h0M584.7 285.9h0M505.7 294.4h0M523.4 286h0M584 197.7h0M622.1 212.1h0M598.1 246.4h0M569.7 262.6h0M543.6 266.5h0M609.1 259h0M514.6 205.5h0M546.1 270.9h0M500.1 259.6h0M575 189.6h0M609 256.3h0M570.5 253.8h0M485.3 215.3h0M535.6 291.1h0M536.2 276.8h0M509.2 230.8h0M550.9 259.5h0M541.8 229.7h0M576.7 188.5h0M511.8 199.2h0M511.2 310.3h0M502.1 244.4h0M507.1 277.6h0M496.4 267.5h0M534 216.5h0M509 190.2h0M512 300.5h0M553.3 195.4h0M484.1 234.4h0M492.3 266.2h0M490.1 224.8h0M529.5 190.2h0M588 251.5h0M500.9 304.1h0M594.2 234.1h0M591.9 232.5h0M596.5 197.9h0M476.1 200.8h0M582.1 253.1h0M527.5 181.4h0M490.1 202.3h0M587.4 302.1h0M589.4 213h0M493 253.2h0M614.5 209h0M580.5 184.4h0M507.9 311h0M606 250.2h0M598.3 173.5h0M570.5 172.1h0M494.5 293.3h0M550.5 282.1h0M615.1 251.5h0M580 265.1h0M582.4 192.8h0M529.2 233.7h0M567.4 228.9h0M492.3 294h0M570.7 302.5h0M512.9 298.5h0M495.2 222.3h0M622.3 242.6h0M565.7 241.9h0M513.5 245.1h0M498.4 240.8h0M578.3 218.6h0M560.3 302.9h0M620.6 271.8h0M620.2 294.4h0M581.1 288h0M475.6 204h0M608.7 276.8h0M601.9 278.4h0M530.3 309h0M573.9 267.1h0M574.2 269h0M495.4 214.3h0M500.7 206.4h0M487.1 223h0M562.4 178.5h0M580 182.5h0M529.6 290h0M585.2 283.5h0M485.1 272.9h0M609 196.9h0M480.2 235.5h0M606.4 296.6h0M545.2 258.9h0M549 177.3h0M533.9 194.8h0M543.9 265.5h0M615.7 247h0M598.3 257.6h0M515.4 178.2h0M549.7 278.2h0M563.9 252.6h0M564.1 280.4h0M503 240h0M602.3 191.1h0M520 259h0M549.5 307.6h0M545.5 232.9h0M509.3 272h0M502.3 227.2h0M554.3 268.9h0M592.9 184h0M518.7 178.3h0M563.4 236.4h0M516.7 214.6h0M603.4 310.6h0M548.8 246.1h0M544.5 260.3h0M555.7 311.5h0M583.1 311.1h0M617.2 230.8h0M505.6 263h0M569.6 215.5h0M588.3 178h0M620.6 258.2h0M559.1 239.5h0M484.1 252.4h0M527.9 229.7h0M492.2 272.2h0M502.2 214.1h0M509.3 218.2h0M584.5 264.5h0M506.1 276.8h0M606.2 258.2h0M517.8 253.4h0M503.7 203.1h0M614.8 213.8h0M516.9 219.1h0M586.8 175.2h0M492.4 295.8h0M513.2 270h0M544 226h0M517 218.9h0M502.3 309.4h0M548.4 258.7h0M514.1 190.5h0M499.2 237.4h0M577.2 211h0M590.3 306.8h0M554.9 297.3h0M497.1 237.5h0M526.6 221.4h0M582.9 225.9h0M563.2 211.7h0M523.5 178.4h0M576.3 266.9h0M505.4 208.7h0M539.6 204.2h0M498.7 234.2h0M507.6 238.5h0M618.5 294.4h0M576.9 174.9h0M585 265.8h0M611.6 302.3h0M528 262.2h0M475.2 247.4h0M562.2 195.6h0M529.2 222.9h0M603.8 212.9h0M585.8 197.9h0M613.2 267.8h0M617 176h0M576.5 249.1h0M570.8 198h0M508.8 207.1h0M577.6 251.6h0M560.7 196h0M589.5 250.3h0M621.3 208.1h0M480.3 213.9h0M484.2 234.9h0M505.8 265.3h0M515.6 235h0M478.3 262.5h0M523.8 257.4h0M516.1 231.8h0M619.4 190.9h0M518.9 236.6h0M489.2 288.6h0M596.2 260.7h0M622.3 263.8h0M552.5 267.2h0M486.2 247.4h0M503.5 264.9h0M558.2 281.3h0M506.7 237.2h0M527.4 183.8h0M566 214h0M482.9 183.8h0M539 210.4h0M519.9 219.2h0M551 219.9h0M561.9 285.5h0M513.2 257.3h0M487.5 218.5h0M513.2 214.9h0M493.4 172.3h0M615 265.5h0M483.8 266.4h0M553 270.3h0M622.4 278.3h0M622.5 294.7h0M573.3 235.8h0M486 210.5h0M523.2 289.1h0M599.9 298.1h0M513.4 235.4h0M515.6 201.6h0M563.1 207.5h0M505.2 213h0M595.6 186.6h0M498.8 304.6h0M515.1 296.2h0M492.3 198.5h0M583.8 186.9h0M602.9 291.8h0M605.7 251h0M567.3 244.6h0M493.6 207.7h0M613.3 258.8h0M529.1 179.5h0M558.8 297.8h0M612.6 227.9h0M490.9 275h0M602 249.4h0M564.6 309.7h0M543.7 270.2h0M531.6 274.3h0M570.6 231.5h0M596.9 249.7h0M600.1 300.3h0M531.4 279.4h0M573.4 232.3h0M601.5 204.1h0M511.9 222h0M485.5 210.8h0M484.4 269.6h0M544.2 183.6h0M505.5 193h0M536.3 257.8h0M503.3 296.3h0M556.9 309.9h0M520.7 219.8h0M576.9 189.4h0" stroke="#9c9ad4" stroke-width="3.0" stroke-linecap="round" stroke-opacity="0.6"/><path d="M537.2 261.3h0M602.7 297.8h0M568.7 266.7h0M516.1 262.7h0M598.6 240.1h0M533.2 288.1h0M509 254.7h0M612.7 264.7h0M571.1 192.7h0M548.7 228.9h0M508.9 266h0M622.7 186.4h0M516.9 277.9h0M616.7 273.1h0M497.9 184.4h0M522.2 212.5h0M530.3 283.1h0M482.4 204.1h0M573.4 205h0M547.5 216.5h0M600.1 226.8h0M505 273.7h0M565.8 190.3h0M563.4 271h0M551.5 178.6h0M517.1 227h0M569.2 258.4h0M489.2 245.5h0M492.3 265.1h0M587.1 181.7h0M475.2 286.5h0M521.5 265.9h0M516.4 233.3h0M604 224.1h0M480 180h0M484.7 213.5h0M584.7 228.6h0M599.9 192h0M592.4 216.9h0M489.9 211.7h0M506 281.7h0M561.5 292.3h0M556.1 268.8h0M621.2 187.3h0M620.8 288.2h0M573.2 232.9h0M497.1 307.9h0M554.3 270.2h0M541.1 223.4h0M533.6 195.2h0M579.4 243.4h0M611.1 232.7h0M532.9 197.4h0M515.1 193h0M563.1 303.5h0M621.6 252.4h0M594 234.6h0M601.5 283.9h0M489.2 240.1h0M573.8 213.1h0M523.2 287.6h0M615.4 188.1h0M513.1 195.5h0M485.2 247.6h0M493.6 227.5h0M509.4 215.4h0M492.6 194.6h0M539.5 250h0M555.2 236.4h0M533.5 210.1h0M486.3 213.1h0M610.8 197.6h0M558.9 245.3h0M614.8 179.9h0M606.2 266.3h0M553.1 285.7h0M551.5 275.9h0M606.7 194.7h0M555 199.7h0M494.4 190h0M576 280.4h0M529.5 263.3h0M622.6 198.9h0M584.9 184.2h0M600.8 188.6h0M525.5 224.1h0M500.7 310.5h0M482.1 279.8h0M605.4 212.9h0M589.4 309.2h0M542.1 312h0M613.9 256.5h0M530.5 273.1h0M475.8 259h0M576.3 258.9h0M482.5 299h0M611.9 230.4h0M582.4 209.6h0M482.5 175.6h0M606.5 207.2h0M617.2 301.3h0M586.9 307.5h0M596.3 312.2h0M550.8 234.6h0M583 279.1h0M530.9 257.2h0M584 309.6h0M504 235.4h0M518.6 195.1h0M496.4 214.5h0M485.4 219.8h0M497.8 174.6h0M562.6 190.2h0M560.2 296.4h0M584.7 204.1h0M546.3 253.8h0M522.9 268.4h0M575.7 174.7h0M511.3 254.6h0M580.5 261.3h0M589 290.7h0M542.3 231.1h0M614.3 206.5h0M574.8 268.2h0M486.7 185.6h0M483 201.1h0M607.8 256.3h0M477.5 261.3h0M598.1 301.8h0M527.7 275.9h0M564 223.4h0M592.3 234.2h0M558.6 198.6h0M545.6 220.3h0M494.5 183.9h0M477 228.8h0M533 297.4h0M518.8 238.2h0M614.9 228.5h0M562 273h0M550.8 183.6h0M553.1 294h0M569.7 213.7h0M487 188.2h0M514.2 243.6h0M596.4 245.7h0M519.2 230.5h0M492.3 229.3h0M484.1 180.9h0M532.8 260.5h0M563.3 284.6h0M528.3 233.4h0M558.8 228.7h0M537.5 184.1h0M486.5 234.8h0M550.5 312.2h0M561.6 215.9h0M617.4 195.1h0M617.2 188.7h0M601.3 241.5h0M528.7 210.9h0M591.3 300.9h0M485.3 204.1h0M584.8 214.2h0M603.4 295.1h0M514.3 177.6h0M607.9 182.5h0M535.4 303.8h0M506.5 273.9h0M501.9 250.1h0M488.8 244.6h0M510.9 212.7h0M570.5 200.8h0M502.4 225.2h0M570.8 202.9h0M537.6 230.5h0M560.3 302.5h0M492 287.4h0M621.9 295.9h0M537.3 279h0M584.2 196.5h0M580.2 218.7h0M499.7 236.8h0M572.4 307h0M543.9 289.2h0M605.4 245.7h0M589.3 267.3h0M480.3 293.5h0M514.2 193.3h0M582.5 276.6h0M549 279.5h0M564 232.2h0M614.1 280.4h0M558.1 180.8h0M605 310.1h0M489.4 302.3h0M490.4 208.2h0M561.8 286.4h0M600.2 265.3h0M620 252.9h0M480.6 310.8h0M619.1 250.2h0M571 210.9h0M578.7 216.1h0M536.8 192.7h0M556.3 310h0M501.6 310.6h0M475 196.5h0M550 237.9h0M503 202.8h0M562.5 215.5h0M533.2 211.7h0M565.9 214.7h0M615.1 277.4h0M559.6 191.8h0M578.7 215.4h0M510.8 201.7h0M604.8 254.7h0M527.1 267.1h0M484.2 257.4h0M621.3 270.5h0M492.8 231.2h0M600.6 210.6h0M562.9 176.5h0M540.6 204.7h0M595.9 261h0M608.9 222.8h0M616.1 264.6h0M507.2 267.1h0M525.4 285.8h0M545.8 281.4h0M588.1 236h0M526.3 217.6h0M586.5 176.3h0M537.1 296.5h0M619.7 262.5h0M540 232h0M575.4 215.8h0M490.1 305.2h0M561.5 285.3h0M586.1 309.7h0M500.5 199.5h0M621.4 239.6h0M609.4 190.4h0M558.6 287.1h0M497.7 205.4h0M512.8 256h0M522.6 180.3h0M589.6 215.6h0M480.7 238.3h0M492.1 184.4h0M491.2 225.7h0M495.8 307.1h0M563.2 308.5h0M621.8 295.4h0M604.7 179.8h0M491.5 303.5h0M561.6 194.4h0M565.5 280.6h0M610.6 182.5h0M503.6 290.8h0M584.8 185.8h0M613.8 196.8h0M556.1 179.3h0M506.3 220h0M605 198h0M563.6 231.2h0M505.2 230.3h0M589.8 211.2h0M539.2 265.3h0M494.8 265.9h0M546.9 308.8h0M606 181.3h0M487.9 211.9h0M521.8 196h0M597.3 277.9h0M605.7 251.9h0M605.4 207.6h0M503.2 205.5h0M555.5 234.6h0M548.8 237.3h0M539.1 297h0M482.3 262.4h0M496.3 255.4h0M611.1 189.3h0M479.5 302.2h0M530.8 275h0M622.1 187.7h0M517.6 222.1h0M619.9 282.5h0M503.5 285h0M508.2 173.5h0M480.4 285.8h0M521.6 243.6h0M580.2 218.5h0" stroke="#9c9ad4" stroke-width="3.5" stroke-linecap="round" stroke-opacity="0.6"/><path d="M576.2 276.5h0M551.9 305.2h0M602.2 174.7h0M589.5 243.6h0M562.6 186.7h0M585.1 206.9h0M557.4 298h0M548.7 234h0M510.5 214.9h0M521.4 236.3h0M495 194.4h0M524.7 224.1h0M481 274.7h0M487.7 304.6h0M585.9 299h0M620.5 248.3h0M602.5 279.1h0M554.7 252.1h0M486.7 260.1h0M513.9 191.2h0M540.2 243.1h0M584.5 263.6h0M594.4 217.1h0M476.4 294.3h0M497.2 188.7h0M526.7 256.4h0M489.6 248.7h0M602.9 303.2h0M480.8 224.3h0M572.2 180.6h0M551 242.8h0M477.3 199.1h0M580.3 290h0M576.1 192h0M568.2 214.1h0M565.5 235.4h0M548.8 287.9h0M563.5 277.5h0M538.2 273h0M559.8 219.8h0M489.7 278.2h0M584.7 231.6h0M515.8 234.6h0M613.6 253.2h0M486.8 249.8h0M611.1 272.2h0M479.8 207.7h0M518.3 275.2h0M579.7 172.9h0M539.4 275.5h0M576.8 274.2h0M581.2 230.6h0M576.4 308.1h0M605.9 184.4h0M574 274.1h0M537.5 226.9h0M578.2 180.5h0M592.3 309.5h0M601 300.9h0M567.5 259.8h0M579.9 284.9h0M583.9 203.2h0M591.7 254.5h0M542.6 178.8h0M592.3 298.2h0M594 245.3h0M608.2 227.7h0M564.7 268.5h0M548.8 175.8h0M522.6 237.3h0M592.8 283.5h0M507.3 194.9h0M529.7 279.5h0M600.1 249.4h0M503.5 266.9h0M479.4 213.9h0M580.6 233.4h0M575.6 250.3h0M589.8 294.3h0M608.7 198.7h0M599.4 237.6h0M523.9 206.8h0M602.7 264.6h0M544.5 303.2h0M535.3 195.8h0M495.1 173.4h0M489.4 296.4h0M557.2 195.9h0M597 236.6h0M501.9 291.5h0M612.5 225.3h0M483.4 261.7h0M502.3 294.4h0M568.3 203.5h0M592.8 264.3h0M512.3 263.2h0M505 198.4h0M478.2 299.9h0M588.8 294.1h0M560.1 206.2h0M598.4 191.9h0M523.4 239.4h0M538.4 210.4h0M553.6 184.1h0M495.6 259.2h0M598.5 258.3h0M503 200.6h0M575.2 241.2h0M584.3 309.8h0M580.6 218h0M591.8 280.8h0M520 185.7h0M548.4 181.3h0M513.1 237.8h0M584.5 248.3h0M570.3 303.8h0M558.2 195h0M501.8 197.2h0M556.4 202.3h0M525.2 289.7h0M515.9 260.4h0M598.9 180.8h0M593.4 295.7h0M525.4 204.5h0M601.1 240.4h0M525.4 266.6h0M499.6 274.4h0M619 240.1h0M572.7 221.9h0M617.4 182.8h0M544.2 267.1h0M553.6 210.9h0M532.7 208h0M545.6 230.4h0M537.7 216h0M611.2 275.3h0M532 281.5h0M557.5 180.7h0M565.3 244.6h0M573.2 177.4h0M594.8 241h0M524.4 283.4h0M504.8 219.9h0M611.3 172.7h0M531.6 185.1h0M610.7 173.6h0M479.9 236.3h0M575.4 257.9h0M594.2 201h0M506.5 304.8h0" stroke="#9c9ad4" stroke-width="4.0" stroke-linecap="round" stroke-opacity="0.6"/>
<path d="M497.9 288.8h0M559.1 235.4h0M476 221.9h0M584.8 190.5h0M609 256.2h0M538.5 224h0M518.1 191.6h0M485.6 311.3h0M477.2 217.4h0M484.1 186.4h0M507.2 277.4h0M555.6 217.7h0M544.7 183.6h0M495 288.6h0M559.3 181.7h0M583.8 296.3h0M541.8 176.2h0M556.8 304.4h0M589.2 244.7h0M593 280.3h0M563.5 261h0M550 250.8h0M595 269.5h0M504.3 284.5h0M492.5 242.9h0M532.4 256.6h0M482 303.6h0M582.3 308.9h0M603.8 280.4h0M590.5 252h0M580.4 269.5h0M583.3 233.1h0M602.8 271.7h0M605.1 240.5h0M557.9 203.5h0M610.9 302.4h0M534.7 226.3h0M578.9 302.5h0M511.4 297.7h0M561.8 224.2h0M538.4 188.4h0" stroke="#262a98" stroke-width="1.0" stroke-linecap="round" stroke-opacity="0.8"/><path d="M554.9 279.3h0M547.3 216.4h0M488.4 254.1h0M619.6 288.3h0M581.2 312.1h0M590.6 272.1h0M540.7 307.3h0M508 175.5h0M506.5 254.1h0M493.6 246.8h0M518.5 218.6h0M603.9 182.2h0M507.7 190.7h0M562.5 231.9h0M543.1 267.9h0M612.3 210.5h0M558.6 204.6h0M600.8 251h0M564.3 299.3h0M577.5 298.3h0M603.5 223.6h0M540.6 304.1h0M590.3 201.8h0M484.1 288.9h0M600.8 202.2h0M558.2 308.9h0M500.1 180.1h0M545.5 263.8h0M501 280.9h0M616.2 248.9h0M536.8 275.4h0M622.2 266.3h0M604.3 197.6h0M593.9 285.1h0M492.7 236.1h0M519.1 307.6h0M541.9 183.6h0M553.3 234h0M576.9 195.5h0M506.1 210.6h0M498 277.8h0M612.6 289.1h0M493.8 277.3h0M544 186.9h0M521.6 173.7h0M545.2 245.7h0M506.2 226.9h0M490.4 277.9h0M607.2 246.1h0M540.2 291.3h0M590 303.3h0M501.8 214.2h0M591.3 282.3h0M512.3 276.4h0M530 297.2h0M546.7 205.9h0M500.4 267.2h0M621.4 241.2h0M501.8 294.3h0M516.8 190.2h0M554.3 298.1h0M517.8 268h0M558.8 215.2h0M546.9 309.2h0M620.9 203.2h0M616.5 297.1h0M611.8 232h0M520.8 266.7h0M497.9 304.3h0M534.6 185.1h0M504.9 203.6h0M561.6 281.9h0M587.5 237h0M619.4 298.3h0M521.6 211.9h0M512.4 298.8h0M565.3 305.8h0M498.5 208.4h0M599.2 247.7h0M530.5 199.1h0M539.7 264.8h0M507.5 182.8h0M491.5 184.8h0M505.6 264.6h0M620.1 291h0M494.2 243h0M535.5 177.4h0M497 291.6h0M544.5 302.5h0M557.2 311.6h0M575.3 192.7h0M478.2 275h0M490.8 194.7h0M544.6 253.6h0M609.3 215h0M546.2 196.4h0M488 265.9h0M546.7 194.7h0M575.1 306.8h0M488.4 236.2h0M484.7 230.4h0M558.4 272.3h0M499.8 288.9h0M484.5 310.4h0M521.3 276.8h0M478.9 274.1h0M582.8 227.8h0M580.8 176.6h0M605.5 198.5h0M502.9 245.8h0M579.9 221.3h0M496.7 307.6h0M586.6 222.5h0M596.8 212.7h0M552.9 183.5h0M553.9 270.5h0M475.5 225.8h0M499.7 181.2h0M507.5 173.1h0M608.8 251.2h0M613.3 246.8h0M478.2 218.4h0M566.6 222.3h0M559.2 250.1h0M565.5 175.3h0M611.8 303.7h0M577.5 268.4h0M571.5 218.2h0M498.3 274.3h0M505.2 257.8h0M587.6 280.3h0M614.9 201.3h0M538.1 309.8h0M500.9 200.1h0M605 174h0M496 250.7h0M606.8 199.7h0M514.2 241.3h0M539.5 275.9h0M560 223.3h0M583.1 211.2h0M480.1 262.6h0M533.3 254.3h0M475.6 173.7h0M554.7 220.9h0M514.7 256.8h0M536.3 216.7h0M587.7 267.5h0M577.9 217.1h0M490.2 212h0M596.4 305.4h0M605.9 285.8h0M513.1 229.1h0M497.2 210.9h0M557.7 189.5h0M506.8 246.9h0M603.3 267.4h0M614 190.7h0M503.6 208.9h0M556.8 286.1h0M545 268.5h0M562.5 268.4h0M537.5 262.5h0M550.5 290.5h0M595.3 262.7h0M479.3 226.2h0M609.3 190.9h0M601.3 305.1h0M476.7 305.2h0M516 198h0M601 291.3h0M547.3 224h0M497.6 194.8h0M484.5 285.7h0M482.9 176.9h0M483.5 181.4h0M487.7 278.7h0M555.6 260.5h0M615.6 266.6h0M570.3 307.4h0M480.6 220.6h0M545.1 184.3h0M527.1 246.2h0M590.4 303.4h0M603.5 187.8h0M557.9 223h0M616.5 211.1h0M486.4 214.6h0M617.3 231.1h0M542.5 309.4h0M503.9 293h0M594.4 216.2h0M493.5 243h0M493.1 190.9h0M584.3 181.3h0M605 309.7h0M576.5 196.5h0M584.6 186.1h0M496.4 272.8h0M551.2 263h0M526.7 198.9h0M592.5 231.7h0M585.8 185.9h0M532 218.5h0M556.8 308.3h0M554.7 282.7h0M545.7 228.1h0M518.5 273.5h0M501 211.6h0M593.1 268.2h0M525.8 254h0M578.9 181.6h0M517.8 260.7h0M567.4 229.5h0M586.9 246.3h0M484.6 266.6h0M548.6 245.7h0M600 237.2h0M522.7 241.4h0M559.1 249.1h0M488.9 282.2h0M606.2 235.5h0M593.5 288.7h0M591.8 198.7h0M608.7 295.1h0M494.4 287.4h0M480.5 202h0M574.2 182.5h0M496.4 303.9h0M618.4 185.3h0M511.5 240.7h0M490 281.8h0M598.2 207.1h0M507.2 241.7h0M535.2 204.2h0M510.3 279.7h0M571.6 304.9h0M608.7 267.3h0M490.1 268h0M491.7 218.9h0M608.9 194.1h0M559.9 214.7h0M618.5 249.2h0M504.9 311.8h0M597 225h0M554 215.5h0M588.7 172.4h0M516.6 302.4h0M475.9 233.4h0M494.8 224.8h0M523.8 223.9h0M535.2 186.5h0M524.5 189.5h0M588.9 232.3h0M598.2 304h0M574.3 306.7h0M605 303.9h0M505.3 220.8h0M550.4 194.7h0M562.9 173.8h0M550.6 260.2h0M555.9 266.3h0M610.5 202.1h0M544.3 190.3h0M484.5 220.3h0M529 187.3h0M583.1 195.4h0M589 193.9h0M590.1 242.5h0M525.9 199.6h0M616.7 230.4h0M509.9 281.1h0M590.5 277.6h0M494.3 233.8h0M543.1 242.4h0M567.5 293.9h0M491.1 281.7h0M605.8 207.3h0M538.4 217.4h0M490.9 175h0M564.7 286.1h0M560 303.3h0M553.9 229.2h0M575.7 254h0M591.1 267.3h0M605.1 212.2h0M571.9 199.7h0M509.1 196.4h0M510.6 285.9h0M585.9 178.1h0M545.3 276.5h0M561 174.9h0M546.8 285.9h0M481.5 234.3h0M552.8 218h0M614.6 186.2h0M522.9 180.5h0M560.7 273.5h0M535.7 239.8h0M504.9 197h0M555.5 312.1h0M603.4 291.6h0M482.4 213.3h0M614.1 190.6h0M499.1 175.8h0M513.9 268.7h0M622.5 276.6h0M570.8 181.8h0M533.5 306.1h0M535.8 173.7h0M593.5 294.6h0M590.4 224.9h0M527.1 245.2h0M572.2 269.8h0M505 229.3h0M546.3 284.1h0M541.1 238.1h0M539.9 224.2h0M551.8 306.8h0M508.6 199.9h0M475.8 278.6h0M614.7 311.1h0M483.4 200.3h0M494.9 222.3h0M607 219.7h0M601 286.2h0M566 222.2h0M477.1 224.6h0M617 242.2h0M616.1 261.2h0M557.7 299.3h0M502 309.4h0M553.2 192.4h0M525 187.9h0M589.1 286.3h0M552 253h0M586.6 282h0M568.4 227.2h0M477.8 189.9h0M601.5 210.6h0M593.3 267.3h0M599 232.1h0M559.2 200.8h0M552 266h0M513.1 254.4h0M559.9 235.3h0M569.1 305.5h0M543.8 197.6h0M533.9 297.2h0M505.9 241.5h0M560.1 274.8h0M577.1 235.5h0M570.4 277.5h0M588.4 214.2h0M592.2 272.8h0M558.6 203.7h0M515.6 222.4h0M538.9 252.9h0M570.9 185.6h0M478 289.9h0M557.4 259.8h0M496.3 307.3h0M539.1 212h0M582.4 181.2h0M589.4 288.8h0" stroke="#262a98" stroke-width="1.5" stroke-linecap="round" stroke-opacity="0.8"/><path d="M514 239.6h0M531.6 203.3h0M595.9 237.9h0M575.1 274.6h0M502 205.6h0M535.1 244.5h0M511.7 190.2h0M567.1 299.9h0M478.8 249h0M554.2 199.8h0M501.7 177.2h0M610.3 181.9h0M587.3 267.6h0M613.2 301.1h0M588.6 283.8h0M540.9 224.9h0M616.7 174.2h0M506.2 298.3h0M588.2 282.5h0M535.4 196.7h0M491.1 219.8h0M564.5 195.5h0M591.5 290.7h0M588.4 267.7h0M479.1 207.6h0M596.2 243.9h0M538.2 198.8h0M518.1 226.7h0M591.6 291.3h0M486.3 210h0M615.4 237h0M586.5 281.5h0M564.6 220.1h0M611.6 176.9h0M521.4 238.4h0M612.6 214.7h0M567.6 202.2h0M615.9 201.7h0M490.5 235.3h0M593.4 279.5h0M552 206.6h0M559.6 250.9h0M607.6 189.9h0M548.4 291.7h0M615.8 205h0M496.6 276.5h0M501.5 265.8h0M562.3 247.8h0M537.5 236h0M564.7 262.8h0M480.4 205.4h0M505.1 256.2h0M586.2 267.7h0M585.6 204.7h0M493.7 267.5h0M543.8 214.2h0M577.7 191.8h0M520.5 285.7h0M536.2 226.6h0M484.5 291.5h0M547.1 295.9h0M579.9 177.9h0M497.4 181.2h0M536.5 197h0M571.8 194.1h0M592.5 280.8h0M569.4 298.3h0M604.8 199.5h0M498.8 254.7h0M478.9 240.8h0M506.1 236.9h0M550.7 184.9h0M487.5 257.3h0M489.6 231.9h0M578.2 302.8h0M577.8 272.3h0M558.3 258.8h0M495 178.8h0M605.6 221.3h0M528.7 194.2h0M494.9 238.8h0M616.1 306.2h0M575 218h0M548.5 237.3h0M578.7 260.7h0M545.8 212.3h0M593.9 241.8h0M489.7 310.4h0M546 293.6h0M518.7 282.1h0M614.6 176.1h0M532.7 272.4h0M563.6 227h0M617.7 228.6h0M585.3 270h0M507.6 297h0M501.2 272.5h0M486.6 236.5h0M483.6 304.1h0M513.2 308.1h0M547.1 304.3h0M480.8 205.3h0M546.1 256.1h0M605.5 218.3h0M568.7 277.9h0M592.4 179.5h0M555.8 181.2h0M543 206h0M593 291h0M561.7 296.6h0M529.4 242.7h0M502.2 233.7h0M574.3 298.3h0M601.3 304.4h0M587.2 207.6h0M487.2 200.2h0M510.3 188.9h0M616.5 259.2h0M498.6 286h0M478.5 198.9h0M550 254.4h0M477.9 272.5h0M535.5 261.3h0M475.9 213.6h0M482.9 297.7h0M543.4 220.8h0M605.2 176h0M563.6 233.2h0M578.9 232.4h0M512.9 205.1h0M541.6 256.5h0M570.7 176.6h0M609.7 300.2h0M529.4 204.8h0M526.1 224.1h0M492.3 288.4h0M476 211.9h0M519.3 217.7h0M542 288.8h0M490.4 179.3h0M577.8 310.4h0M512.7 262h0M592 182.7h0M616.7 225.8h0M596.7 194.2h0M617.4 292.2h0M477.8 251.9h0M604.6 270.2h0M511.5 223h0M477.8 305.2h0M601.6 218.6h0M600.5 286.6h0M588.2 193.4h0M614.8 289h0M588.9 233.6h0M553.1 290.3h0M590.5 229.6h0M578.6 190.6h0M536.2 272.1h0M486.9 264.4h0M585 255.3h0M610.9 252.2h0M573.4 305.6h0M577.1 225.7h0M576.4 268.5h0M483.2 236.3h0M511.4 215.6h0M540.9 274.8h0M597.3 287.4h0M563.9 295h0M552.6 201.7h0M608.2 294.6h0M594 294h0M552.6 224.7h0M492.5 198.7h0M523 242.8h0M552.9 301.9h0M575.2 307.2h0M515 246.6h0M608.5 234.5h0M611 283.1h0M479.5 210.5h0M490.3 223.4h0M566.6 308.9h0M514.4 259.1h0M607.1 251.1h0M575.4 290.2h0M566 197h0M505.7 239h0M589.6 191.3h0M516 199.7h0M499.2 287.2h0M481.4 306.6h0M513.2 307.9h0M566 242.3h0M604.3 290.2h0M576.4 184.8h0M484.6 205.3h0M561.1 272.8h0M578.7 286.1h0M549 172.9h0M592.3 210.4h0M532 267.5h0M476.6 236.9h0M605.6 189.8h0M545.3 230.1h0M553.5 267.3h0M499.5 300.2h0M541.2 276.6h0M482.2 300.2h0M475.9 191.3h0M621 247.9h0M564.5 254.7h0M607.3 196.9h0M570.7 250.5h0M486.7 284.7h0M507 203.6h0M558.5 281.6h0M547.8 274.6h0M554.8 189.8h0M580.5 301h0M602.7 240.8h0M515.6 182.8h0M619.5 229h0M562.8 217.3h0M554.8 187.9h0M555.3 267.8h0M596.2 208.1h0M490.7 272.7h0M561.5 182.2h0M617.1 304.5h0M598.4 248.3h0M540.4 281.2h0M562 180.5h0M539.1 211.1h0M594.7 235.6h0M511 176.3h0M488.6 182.3h0M590 308.1h0M556.5 299.5h0M481.3 210.3h0M604.8 182.8h0M549.2 271.3h0M514.5 310.4h0M591.5 241.2h0M509.3 197.2h0M599.7 172.4h0M479.7 269h0M521 240.9h0M497.3 258.8h0M491.1 184.2h0M547.3 311.7h0M512.6 303.2h0M615.8 203h0M516.8 194.8h0M556.6 180h0M521.4 227.5h0M571.4 254.5h0M522.8 268.7h0M546.4 289.3h0M615.4 298.9h0M543.9 191.3h0M598.3 251.3h0M558.7 187.1h0M518.2 259.9h0M492.4 190.3h0M581.4 237.6h0M546.4 233.2h0M584 216.6h0M523.7 269.8h0M493.2 200.3h0M571 200.8h0M608.1 177.5h0M607.6 182.5h0M600.1 200.5h0M592.1 252.5h0M476.6 239.2h0M519.3 276.1h0M605.5 301.5h0M516.5 205.2h0M505.2 299.5h0M611.1 255.7h0M540.8 303.2h0M520 282h0M570.4 248.5h0M607 246.8h0M559.9 218.4h0M505.1 284.1h0M576.4 286.7h0M562.1 208.4h0M545.5 219.7h0M514.5 221.8h0M522.6 306.3h0M478.2 254.7h0M499.9 210.4h0M558.7 233.3h0M484.5 204.4h0M487.3 226.9h0M604 254.3h0M613.6 180.1h0M620.3 207.1h0M578.6 178h0M494.7 256.3h0M563.5 173h0M487.5 269.3h0M502.9 293.9h0M557.7 176.4h0M607.5 302.5h0M567.3 242.8h0M601.8 247.3h0M501.3 304.4h0M598.6 278.5h0M513.8 195h0M519 269.6h0M490.7 236h0M551.1 275.9h0M548.3 277.3h0M543.9 240.1h0M552.4 186.1h0M559.3 226.6h0M557.9 286.8h0M533.4 228.8h0M527.9 239.9h0M617 292.2h0M500.8 215.9h0M557.9 180.4h0M514.7 269.1h0M544.4 279.4h0M491 255.5h0M574.7 311.4h0M560.8 235.2h0M537.5 220.8h0M537.3 252.4h0M584.3 185.2h0M542.2 308.9h0M517.3 292.5h0M544.1 303h0M478.1 238.4h0M517.6 195.4h0M610.7 286h0M547.2 248.2h0M479.3 256.6h0M599.6 195.2h0M606.4 228.1h0M501.2 292.3h0M477 232.8h0M594.9 226.8h0M541 207.8h0M604.9 241.5h0M563.7 303.5h0M567.3 311.2h0M591.4 292.3h0M524.4 288.9h0M493.1 254.1h0M606.4 293.7h0M542.4 311.1h0M611.2 225.7h0M538.2 258.6h0M611.2 203.5h0M603.1 249.9h0M601 293.6h0M617.4 191.2h0M622.5 240.7h0M583.3 234.9h0M587.5 304.2h0M484.4 201.7h0M532.2 174.8h0M542.3 300.7h0M516.5 225.6h0M532.3 286.9h0M518.6 255.3h0M531.1 207.5h0M502.2 287.2h0M519.3 207h0M604 296.9h0M517.4 229.3h0M562.9 267h0M479.5 203.2h0M493.6 267.4h0M512.4 182h0M568.2 286.3h0M500.2 209.1h0M613.1 300.2h0M557 246.9h0M577.2 179.8h0" stroke="#262a98" stroke-width="2.0" stroke-linecap="round" stroke-opacity="0.8"/><path d="M482.1 215.5h0M541.6 275.2h0M579.1 231.9h0M495.8 182.9h0M569.1 284.5h0M600.7 265.3h0M506.9 230.2h0M603.5 291h0M534.6 201.7h0M492.5 220.4h0M521.2 286.9h0M546 257.9h0M508.3 274.1h0M530.6 299.2h0M571.4 188.2h0M592.2 308.2h0M618.3 230.6h0M482.7 307.6h0M622.6 308.3h0M613.8 213.8h0M525.9 206.1h0M506.6 212.4h0M525.3 186.1h0M553.4 278.5h0M549.4 299.1h0M575.5 298.8h0M617.2 292.7h0M602.7 182.9h0M486.2 266.9h0M602.8 231h0M522.2 275.1h0M622.5 217.3h0M525.1 235.9h0M522.1 275.3h0M529.5 239.1h0M480.7 233.8h0M505.1 252.6h0M576.9 185.2h0M616.6 256h0M509.8 286h0M558.3 266.5h0M572.4 208.6h0M544.1 208h0M544.7 174.9h0M498.2 207.3h0M568 273.8h0M544.6 272.1h0M551.5 259.3h0M479.9 301.7h0M576.1 297.5h0M516.6 247.1h0M577.8 286.3h0M492.5 237.1h0M544 193.7h0M530.7 293.9h0M482.6 180.1h0M566.4 273.8h0M539.4 310.8h0M562.3 214.1h0M521.3 277.8h0M512.5 284.3h0M590.7 239.9h0M518.3 271.2h0M559.3 198.1h0M596.3 182.4h0M524.8 236.5h0M525.2 246.6h0M511.4 268.6h0M541.5 217.3h0M619.2 178.2h0M555.2 259.1h0M555.8 295.6h0M515.6 257.4h0M587.9 197.4h0M510 181h0M618.6 233.9h0M513 178.9h0M483.1 276.3h0M614.4 299.2h0M538.3 173.2h0M517.6 192.9h0M567.2 179.5h0M552.1 297.2h0M490.9 275.1h0M511.4 199.6h0M487.7 292.3h0M513.2 198.4h0M561.1 271.7h0M525.9 275.9h0M569.9 197.5h0M607.2 187.3h0M575.5 273.8h0M503.1 266.5h0M620.7 254.3h0M564.7 292.5h0M619 231.8h0M597.6 196.3h0M487.2 196.5h0M602.9 248.3h0M603.1 299.9h0M594.4 207.8h0M496 232h0M575.6 273.2h0M531.5 242.8h0M485.8 209.8h0M546.1 227.3h0M486.6 268.4h0M615.8 178.7h0M586.9 177h0M544 285.8h0M568.7 286.6h0M568.1 283.6h0M595.8 287.8h0M592.6 255.4h0M618 183.6h0M594.3 283.1h0M543.1 225h0M483.4 232.4h0M533.4 233.6h0M611.2 255.6h0M610.2 308.4h0M525.6 249h0M523.4 232.2h0M498 266.8h0M515.1 244.5h0M584.2 231.8h0M518.6 239.8h0M505.1 188h0M609.4 179.7h0M582.1 255.9h0M569.6 236.7h0M542.3 244.3h0M617.7 221.2h0M610.5 248.2h0M599 237.5h0M483.9 216.4h0M574.7 216.8h0M493 226.4h0M498.7 228.8h0M563.7 206.7h0M548.4 277.2h0M591.7 191.5h0M486.4 181.6h0M588.8 177.5h0M581.1 180.6h0M599.3 180.3h0M571.4 172.7h0M579.2 274.7h0M553.4 188.4h0M520.4 267.7h0M545.1 207.2h0M618.5 206.1h0M488.4 246.9h0M505 226.4h0M477.4 247.9h0M509.9 306.2h0M497.2 186.6h0M482.6 177.1h0M521.6 209.8h0M615.5 281.4h0M557.5 259.1h0M586.6 256.8h0M493.9 251.9h0M527.1 244.1h0M500.2 271.4h0M506.2 231.7h0M571.6 212.2h0M475.8 192h0M532 288.9h0M550.5 265.1h0M522.1 188h0M615.2 253.7h0M494.2 282.2h0M615.4 294.3h0M555.5 176.9h0M570.7 232.1h0M554.9 302.3h0M479.4 194.7h0M580.3 240.3h0M487.1 275.3h0M619.2 240.1h0M488.8 177.9h0M560.7 285.1h0M487.7 223.9h0M570.8 238.2h0M621.8 293.7h0M545.1 261.4h0M518.6 205.6h0M493.4 227.8h0M614.9 215.3h0M532.1 250.5h0M491 266.3h0M601.9 230.9h0M489.8 294h0M487 304.8h0M573.9 179.3h0M484.4 221.7h0M575.1 248h0M509.2 204.6h0M599.7 261h0M478.3 305.7h0M535.2 189.2h0M484.2 180.8h0M586.1 229.8h0M613.8 179.9h0M570.9 210.8h0M521 254.6h0M554.3 227.3h0M559.2 280.7h0M619.4 275.4h0M590.5 213h0M482.3 233.5h0M600.9 232.4h0M488.4 238.8h0M619.1 279.3h0M588.2 183.9h0M520.4 198.2h0M525.1 283.8h0M545.6 306.1h0M588.4 223.5h0M598.2 177.8h0M572.2 217.1h0M566.6 211.3h0M488.2 240.8h0M484.5 281h0M620.9 224.4h0M601 253.1h0M535 257.5h0M591.2 277.5h0M600.4 188h0M538.2 286.7h0M617.9 301.9h0M580.1 248.1h0M511.5 273.8h0M494.2 305.7h0M604.7 266.4h0M516.7 208h0M556.7 300h0M522.4 301.2h0M522.1 210h0M513 248h0M532 232.2h0M492.3 220.4h0M608.2 218.8h0M552.8 301h0M585 289.7h0M616 276.6h0M569.1 289h0M477.3 260h0M542.1 234.6h0M496.9 301.2h0M575.9 291.1h0M482.9 203.7h0M482.5 183.7h0M538 229.7h0M526.7 188.1h0M563 212.8h0M579.9 249.1h0M498.2 270.7h0M602.6 222.1h0M599.9 285.1h0M614.2 312.3h0M618.2 292.7h0M603.2 239.5h0M616.5 223.4h0M540.5 184.6h0M510.8 223h0M592.5 231.5h0M558.3 203.8h0M483.9 244.1h0M478.6 235.9h0M481.5 297.7h0M535.3 244.1h0M543.4 201.4h0M510.2 196.8h0M539.7 197.4h0M582.2 197.5h0M481.2 244.4h0M540.8 239.2h0M573.5 234.4h0M529.1 219.7h0M501.3 174.3h0M614 229.8h0M563.1 311h0M571.6 187.7h0M528.7 201.6h0M589.6 286.8h0M492.7 182.1h0M592.8 234.7h0M597.3 250.4h0M521.2 187.5h0M483.5 206h0M593.8 242h0M503.7 259.8h0M591.5 259.5h0M521 209.2h0M593.4 225h0M477.6 188.2h0M604.4 308.1h0M618.3 196.5h0M597.4 302.4h0M481.4 292.8h0M506.2 247.3h0M531.3 258.6h0M577.9 232.6h0M557.1 292.1h0M587.9 223.5h0M589.2 253.9h0M494.6 257.3h0M537 286.9h0M492 265.4h0M505.4 265.4h0M556.6 243.2h0M606.2 243.6h0M536.3 272h0M593.3 278.4h0M578.4 227h0M493.3 217.2h0M480 181.3h0M559.5 235.4h0M555.7 194.1h0M511.2 282.5h0M482.7 283.7h0M620.9 224.9h0M615.6 284.7h0M544 292.5h0M562.2 290.7h0M562.6 178.8h0M595.9 192.3h0M526.2 183.8h0M598.7 186.8h0M477.2 227.2h0M618.6 250.2h0M620.1 177.1h0M609.8 236.8h0M549.4 216.5h0M525 210.4h0M605.7 180.2h0M512.8 274.4h0M540.3 245.8h0M611.7 294.5h0M547.8 308.3h0M535.4 211.4h0M564.7 202.6h0M585.9 200.8h0M505.3 269.5h0M493.5 308.9h0M545.4 207.9h0M563.9 229.9h0M526.9 204.1h0M559.3 189.2h0M478.8 215.8h0M568.5 228.3h0M519.4 289.5h0M529.5 275.6h0M546.5 230.7h0M479.2 307.3h0M541.6 176h0M519.3 240.9h0M563.7 181.6h0M564.5 250.1h0M610.9 297.2h0M601.1 309.5h0M517.7 252.2h0M580.8 180.4h0M516.4 257.8h0M583.9 292h0M510.4 275.8h0M507.8 291.6h0M621.4 269h0M519.7 290.3h0M520.3 215.6h0M479.5 304.6h0M497.4 226.9h0M565 308.1h0M551.7 299.3h0M591.1 302.9h0M596.5 278h0M614.8 172.4h0M500.3 271h0M613.7 258.1h0M526.1 235.1h0M483 249.1h0M506.4 294.6h0M579.8 259.2h0M555.3 257.5h0M537 283.4h0M487.9 296.4h0M611.3 238.3h0M557.2 223.8h0M568.8 262.2h0M621.4 193.4h0M552.7 231.1h0M554.6 215.3h0M483.3 227.3h0M538.2 311.3h0M589.4 196.2h0M603.8 278h0M580.1 290.9h0M605.8 272h0M533.3 229h0M536.5 249.7h0M620.1 280.6h0M616.3 175.1h0" stroke="#262a98" stroke-width="2.5" stroke-linecap="round" stroke-opacity="0.8"/><path d="M564.3 293h0M494.1 210.8h0M522.5 292.7h0M500.7 215.6h0M561.6 216.2h0M612.8 197.4h0M574.8 260.5h0M597.1 203.5h0M591.4 199.5h0M521.5 181.9h0M612.4 252.2h0M618.6 269.8h0M621.5 302.1h0M604.4 271.1h0M527.3 237.4h0M591 306.7h0M525.6 263.7h0M591.4 296.7h0M490.7 195.6h0M543.7 173.1h0M509.7 226.8h0M578 250.5h0M493.9 307.2h0M557.4 292.7h0M619.8 290.5h0M621 185h0M518.3 265.6h0M546.1 279.5h0M610.1 310.9h0M581.5 203.4h0M577.4 202.7h0M488.2 222.9h0M497.6 263.1h0M587.7 252.5h0M479.6 253.7h0M491 235.6h0M601 223.3h0M508.9 203.8h0M532.2 304h0M554.7 301.3h0M541.7 242.1h0M612.1 303.5h0M602.2 259.5h0M604.5 247.3h0M522.9 192.4h0M483.3 269.4h0M570.8 230.8h0M553.2 231.1h0M506.2 276.6h0M569.5 284.2h0M588.7 245.1h0M545.8 285.1h0M567.6 180.9h0M505.4 257.2h0M486.1 184.8h0M502.5 229.4h0M553.3 265.9h0M510.1 278.8h0M480.4 245.2h0M622.3 239.8h0M530.3 207.5h0M515.5 230.3h0M548 191.6h0M536.8 268.9h0M481.4 296.5h0M488.1 303.4h0M527.1 257.3h0M488.8 192.4h0M550.2 288.2h0M475.8 215.4h0M607.9 304.5h0M482.1 220.6h0M594.5 176.8h0M512.3 182.6h0M557.9 194.9h0M503.8 225.8h0M549.8 196.3h0M548.5 232.9h0M604.6 249.2h0M615.7 205.1h0M596.1 255.2h0M540.5 184.1h0M619.7 262h0M544 306.7h0M549.2 268.2h0M527.6 230.9h0M573.5 224.2h0M490.6 233.4h0M586.2 197.7h0M521.2 266.3h0M548 266h0M507 216h0M552.7 302.2h0M485.9 200.3h0M571.3 261h0M497.4 184.8h0M501.8 174h0M545.2 310.1h0M485.6 201.5h0M617.7 240.3h0M590.2 283.5h0M519.3 244.5h0M575.7 254.3h0M530.5 188.7h0M613.2 280.9h0M610.8 277.6h0M500.1 248.4h0M560.7 245.4h0M569.2 288.6h0M487.4 220.7h0M554 226.9h0M589.9 298.5h0M535.1 214.6h0M585.3 233.6h0M611.7 188.5h0M606.6 234.4h0M578.1 173.8h0M594.9 191h0M571 282.3h0M617 240h0M476.7 282.7h0M603.6 246.3h0M512.6 307h0M476 221.3h0M601.2 244.3h0M519.2 226.8h0M570.9 203.3h0M486.8 233.1h0M475.9 224.6h0M576.3 298.8h0M599.4 233.8h0M511.7 287.9h0M605.7 183.9h0M612.2 236.2h0M567.5 202.6h0M492.7 303.4h0M564.1 251.5h0M518.6 222.7h0M517.6 235.2h0M488.5 185.4h0M620.6 296.6h0M514.4 281.3h0M519.1 277.4h0M546.5 307.7h0M498.5 247h0M505.4 310.7h0M540.1 234.1h0M496.3 244.1h0M571.3 275.9h0M512.9 270.7h0M577.9 214.4h0M617.3 250.1h0M578.5 309.6h0M515.1 309.1h0M508.6 243.7h0M499.3 243h0M569.9 302.8h0M592.9 249.2h0M521.7 200.3h0M614.1 271.5h0M531.4 296h0M570.6 239.1h0M581.3 227.4h0M587.9 281.2h0M586 226.3h0M476.3 292h0M542.6 274.9h0M562.5 202.5h0M560.5 272.3h0M565 266.8h0M562.8 239.3h0M534.2 253.2h0M571.6 250.5h0M596.4 242.7h0M610.8 217.2h0M540.5 245.9h0M582.7 237.7h0M484.7 173.3h0M522.6 214.6h0M478.5 305.3h0M524.8 302.6h0M545 174.3h0M506.2 297.9h0M563.3 293.7h0M598.7 259.8h0M476.7 271.3h0M613.4 196h0M479.2 214.5h0M527 242.3h0M604.4 198.1h0M522.9 300.5h0M550.4 278.3h0M526.2 248.9h0M584.4 260.2h0M476 292.5h0M577.8 245.5h0M574 187.5h0M586.4 274.8h0M611.9 204.3h0M604.2 262.3h0M487.6 209.8h0M552 248.1h0M483.8 270.6h0M592.8 239.1h0M540 210.2h0" stroke="#262a98" stroke-width="3.0" stroke-linecap="round" stroke-opacity="0.8"/>
<path d="M532.5 173.6h0M520.8 309.4h0M533.2 244.9h0M522.1 304h0M580.3 260.9h0M593.8 241.5h0M496 286.7h0M603.2 213.1h0M491.4 224.9h0M554 286.6h0M552.5 241.7h0M486.5 288.9h0M589.5 286.5h0M623.2 261.4h0M480.1 275.3h0M484.7 173.1h0M519.5 242.4h0M581.3 291.2h0" stroke="#e4473f" stroke-width="2.0" stroke-linecap="round" stroke-opacity="0.95"/><path d="M549.8 206.2h0M592 184.6h0M531.8 198.2h0M480.5 183.8h0M573.8 290.6h0M482.1 239.2h0M507.8 207.8h0M597.2 221.5h0M542.3 202.5h0M559 180.8h0M541.5 247.1h0M541.6 277.9h0M500 224.6h0M518.7 287.7h0M493 212.2h0M540.9 231h0M584.2 292.4h0M588.6 302.8h0M532.1 308h0M602.4 219.2h0M573.1 181.8h0M567.4 269.5h0M522.3 213.2h0M540 253.8h0M616 307.9h0M534.3 250.2h0M478.7 200.4h0M528.7 248.8h0M561.5 260.6h0M526.2 303.6h0M500.5 239.2h0M584.2 173.7h0M575.3 293.8h0M507.9 304.9h0M538.7 174.4h0M525 280.2h0M581.4 264.9h0M487.5 285.1h0M593.4 303.8h0M597.8 312.7h0M563.4 307.7h0M518.6 188.3h0M480.3 188h0M582 198.4h0M558.9 172.1h0" stroke="#e4473f" stroke-width="2.5" stroke-linecap="round" stroke-opacity="0.95"/><path d="M539.7 308.5h0M531.8 172.9h0M532.7 245.6h0M579.7 260.1h0M542.2 247.7h0M618.5 255h0M511.7 238.4h0M475.9 236.7h0M496.6 287.4h0M504.6 176.1h0M621.7 183.8h0M574.3 246.6h0M492.1 224.3h0M552.5 242.6h0M561.6 261.5h0M548.5 236.7h0M588.7 286.2h0M479.9 274.4h0M607.5 311.1h0M518.7 242.9h0M596.1 191h0M580.4 291.3h0M559.7 172.5h0M524.8 172.5h0M520.1 196.5h0M597.6 305.6h0M557.2 292.1h0M580.7 213.4h0M514.3 244.8h0M548.3 174.5h0M500.5 180h0M608.7 188.4h0M537.7 298.4h0M562.9 216.1h0M506 220.9h0M557.7 256.3h0M600.9 183h0M530 283.5h0M499.6 252.9h0M584 306.6h0M615.6 299.1h0M493.8 269.8h0M607.9 180.4h0M491.6 217.9h0M533.6 278.2h0M573.7 262.5h0M542.5 311.1h0M543.9 283.3h0M603.4 173.5h0M589.9 252h0M596.7 260h0M579.1 226.1h0M560.6 230.3h0M527.6 197.5h0M521.6 257.4h0M508.3 213.6h0M535.7 225.8h0M488.7 197.4h0M571.4 243.4h0M579.8 217.9h0M542.4 303.8h0M579.2 297.1h0M516.2 281.4h0M474.4 227.3h0M614 219.3h0M597.4 212h0M534.3 188h0M515.9 293.4h0" stroke="#e4473f" stroke-width="3.0" stroke-linecap="round" stroke-opacity="0.95"/><path d="M619.9 240.6h0M502.8 272.3h0M500 262.5h0M549.3 205.4h0M591.6 185.6h0M532.4 197.5h0M481.3 184.4h0M525.2 261.4h0M586.6 244.6h0M573 290.1h0M519.9 309.2h0M506.4 253.1h0M521.4 303.3h0M543.6 261.8h0M559.1 179.7h0M535.6 200.5h0M540.6 278.2h0M499.1 224.2h0M518.6 286.6h0M523 186.7h0M619 191.3h0M540.5 230.1h0M548.1 289.5h0M538.5 243.8h0M587.9 301.9h0M491.9 218.9h0M531.5 307.3h0M615.1 259h0M567 270.5h0M523.3 213h0M603.1 276.4h0M597 259h0M527.7 265.8h0M541 253.2h0M615.8 308.9h0M603.2 214.1h0M511.1 191h0M554.1 287.6h0M593.9 253.8h0M616.3 176.7h0M491.3 306.7h0M485.7 289.6h0M499.1 216.6h0M551.6 295.6h0M499.8 238.6h0M551.7 218.3h0M575.1 294.8h0M516.9 312.2h0M622.3 261.8h0M508.3 303.9h0M562.1 192.4h0M485.2 213.6h0M593.8 302.9h0M598.7 312.1h0M588.9 195.5h0M556.8 283.4h0M534.6 189.1h0M611.5 246.4h0M545.6 198.2h0M480.7 189.1h0M529.7 259.3h0M555.9 172.9h0M513.8 265.7h0M612.8 231.8h0M608.7 252h0M615.7 242.9h0M606 232.1h0M486.8 246.6h0M573.6 303.2h0M545.5 218.1h0M562.5 240.4h0M510.4 199.4h0M542.6 293.7h0M485.3 225.9h0M477 174.1h0M558.5 265.7h0M526.8 299.4h0M621.4 279.2h0M586.1 181.1h0M517.3 208.9h0M527.1 288.7h0M568.3 287h0M536.9 213.2h0M621.3 249.9h0M488 231.9h0M530.3 221h0M566.2 247.1h0M619.1 215.4h0M553.5 180.2h0M558.8 286.5h0M482.5 233.3h0M525.1 239h0" stroke="#e4473f" stroke-width="3.5" stroke-linecap="round" stroke-opacity="0.95"/><path d="M597.3 306.8h0M557.2 293.4h0M481.3 291.1h0M497.9 306.4h0M581.9 213.8h0M536.3 182h0M499.7 203.2h0M547.3 173.9h0M503.5 304.6h0M536.5 298.5h0M519.8 205.5h0M475.6 256.1h0M541.6 234.3h0M478.6 219.1h0M596.3 220.7h0M541.1 202h0M507.2 221.2h0M491.6 200h0M568.5 207.4h0M582.3 230.2h0M570.8 252.5h0M585.3 306.6h0M584.8 291.4h0M594.3 242.6h0M493 269h0M608.5 181.3h0M542 312.2h0M601.3 218.9h0M573.8 182.7h0M542.8 284h0M602.9 172.4h0M588.8 252.3h0M534.6 251.4h0M530 190.6h0M477.5 200.8h0M527.7 198.7h0M527.9 249.5h0M488 196.3h0M547.5 189.2h0M507.3 236.5h0M571.1 242.2h0M591.4 264.9h0M517.3 280.8h0M524.1 279.4h0M488.6 285.5h0M476.9 264.5h0M613.2 220.2h0M484 172.2h0M562.5 306.9h0M523.9 246.1h0M589.5 309.5h0M475.2 185h0M502.3 311h0M512.5 204.9h0M582.7 197.4h0M524.5 228.6h0M537.1 265.2h0M567.4 295h0M611.6 215.4h0M552.4 276.9h0M496.9 233.8h0M490.6 175h0M588.7 190.5h0M557.3 311.9h0M490.8 207.3h0M610.4 206h0M523.5 271h0M547.2 242.7h0M529.8 208.1h0M569.8 264.6h0M530.2 185.7h0M605 223.3h0M572.7 277.8h0M497.6 171.5h0M562.8 298.8h0M541.4 194.6h0M578.5 271.4h0M568.2 223.6h0M503.8 265h0M533.6 257.7h0M508.8 308.8h0M543.2 212.3h0M537.4 286.4h0M479.7 309.1h0M604.1 240.1h0M532.5 294.4h0M521.9 176.7h0M614 183.8h0M523.6 191.2h0" stroke="#e4473f" stroke-width="4.0" stroke-linecap="round" stroke-opacity="0.95"/><path d="M519.3 197.5h0M557.7 208.5h0M546.5 229.7h0M513.9 243.6h0M499.9 181.1h0M607.3 232.3h0M616.1 226.2h0M481.8 240.6h0M508.8 208.6h0M554.8 272.2h0M488.9 294.9h0M567.7 307.3h0M516.2 253.6h0M556.6 257.1h0M599.6 183.4h0M529 282.6h0M500.9 253.4h0M532.9 237.6h0M494.2 212.9h0M516.5 210h0M565.5 254h0M526.9 290h0M483.9 303.3h0M567 287.5h0M535 278.4h0M575 262.2h0M622 251.1h0M589.4 215.7h0M530.7 222.4h0M607.3 283h0M580.2 185.2h0M522 256.1h0M536.5 224.7h0M526.9 304.8h0M583.2 173h0M614.1 303.9h0M580.2 297.9h0M538.1 173.2h0M582.6 264.5h0M560.1 287.1h0M481.1 233.8h0M508.5 243.4h0M596 212.2h0M523.7 239.4h0M574.5 200.3h0M497.5 312.3h0M516.9 292.4h0M518.1 189.4h0M510.6 286.8h0M595.8 289h0M487.5 309.8h0M619.1 207.7h0M605.2 200.8h0M547 302.9h0M553.9 248.9h0M599.7 232.2h0M506.9 294.9h0M590.3 224.1h0M512.7 214.8h0M511.9 176.6h0M604.2 251h0M563.3 178.1h0M491.5 258.2h0M515.6 299h0M596 177.3h0M475.8 207.8h0M478 281.3h0M622.3 295.4h0M580.4 204.5h0M492.8 283.4h0" stroke="#e4473f" stroke-width="4.5" stroke-linecap="round" stroke-opacity="0.95"/><path d="M588.4 259.9h0M499.3 189.2h0M568.6 295.9h0M554.5 173.6h0M559.1 219h0M610.6 214.2h0M555.4 227.2h0M491.9 175.9h0M609.2 187h0M614.4 242.1h0M489.4 207.9h0M510.2 197.9h0M622.4 196.7h0M504.9 231.1h0M485.7 227.3h0M564.2 215.3h0M559.4 266.8h0M544.6 179.9h0M606.5 223.4h0M517.9 173.6h0M614.3 298.2h0M620.2 301.3h0M517.7 274.7h0M489.5 231.8h0M566.6 245.7h0M479.5 179.4h0M621.3 307.8h0M536.5 287.5h0M478.2 309.5h0M541.4 267.2h0M579.6 219.3h0M541 303.5h0M617.8 216.1h0M553.8 237.5h0M475 226h0M577.1 279.5h0M606.6 303.2h0M588.7 205.3h0M484.3 265.5h0M503.2 246.3h0M567.9 195.7h0M590.1 233.3h0M596.1 195.8h0M551.4 310.3h0M620.5 173.8h0" stroke="#e4473f" stroke-width="5.0" stroke-linecap="round" stroke-opacity="0.95"/><path d="M524.1 230.2h0M615.9 250.2h0M514.9 267h0M619.4 206.1h0M609.7 253.4h0M605.6 199.3h0M483.4 200.8h0M495.5 232.9h0M548.5 258h0M558.9 311.6h0M544.2 293.5h0M475.4 174.7h0M622.7 280.1h0M571.2 278h0M499 172.5h0M577.1 270.4h0M568.8 222.1h0M601.1 189.8h0M516.9 300h0M577.5 226.3h0M535.2 257.6h0M622.6 229.6h0M618.1 287.1h0M561.6 231.6h0M506.7 214.1h0M551.8 180.3h0M515 306h0M533.1 292.8h0M591.3 295.8h0M615.5 184.4h0M497.6 276h0M513.4 224.7h0M477.9 301.1h0" stroke="#e4473f" stroke-width="5.5" stroke-linecap="round" stroke-opacity="0.95"/><path d="M535.6 264.2h0M608.1 289.7h0M614.5 231.9h0M504 279.2h0M511 274.7h0M486.6 311.4h0M586.9 190.1h0M486.5 275.4h0M548.7 303.7h0M478 249.7h0M486.4 244.9h0M575.2 302.3h0M524.9 272.1h0M545.1 219.9h0M547 244.4h0M517 237.1h0M570.3 187.4h0M487 184.1h0M510.5 177.6h0M602.6 250.2h0M622.2 222.7h0M581.3 284.8h0M618.5 265.7h0M504.5 266.7h0M493.1 259.2h0M476.9 280h0M575.5 214.6h0M508.4 310.5h0M551.1 196.2h0M493.4 281.6h0M546.8 270.8h0" stroke="#e4473f" stroke-width="6.0" stroke-linecap="round" stroke-opacity="0.95"/><path d="M479.8 195.1h0M512.5 286h0M557.3 199.6h0M597.6 289.8h0M521.9 219.5h0M555.6 248.2h0M612 204.9h0M564 239.2h0M568.7 263h0M512.3 185.3h0M605.3 304.6h0M505.7 293.4h0M476.8 299.5h0M482.4 284.5h0M585.3 277h0M587.4 206.8h0M482.8 266.7h0M501.9 245.1h0M527.1 297.5h0M577.8 193h0M584.8 179.7h0M540.6 192.8h0M565 178.8h0M590 235.2h0M556.8 187.7h0M500.1 299h0M535.6 214.6h0M594.1 176.8h0M494.6 252.1h0M493.8 239.7h0M476.9 209.4h0M545 211.7h0M621.1 294h0M579.1 206h0M511.1 259.2h0M522.4 178.5h0M551.2 312.3h0M523.9 193.2h0M622.1 172.8h0" stroke="#e4473f" stroke-width="6.5" stroke-linecap="round" stroke-opacity="0.95"/><path d="M577.4 240.8h0M515.4 224.7h0M563.1 278.2h0M550.5 278h0M614.4 197.2h0M599.5 234.3h0M528 207.2h0M528.7 184.2h0M591 226.1h0M513.7 216.6h0M600.2 298.5h0M615.6 273.6h0M561.2 300.2h0M568.2 197.8h0M591.9 272.1h0M574.1 172.3h0M596.7 197.8h0M484.2 256.7h0M575.1 310.3h0M604.7 242.1h0M595.6 281.5h0M600.8 207.3h0" stroke="#e4473f" stroke-width="7.0" stroke-linecap="round" stroke-opacity="0.95"/>
<path d="M520.6 296.6h0M583.2 235.9h0M500.6 233.4h0M550.6 212.8h0M589.3 290.1h0M597.9 263.2h0M602.5 228h0M562.9 201.2h0M475.2 191.4h0M487.3 237h0M511.5 250.4h0M531.9 312.3h0M598.7 224.4h0M585.7 271h0M582.3 311.9h0M542.2 175.3h0M614.7 291.1h0M515.4 230.8h0M482.7 223.2h0M541.8 225.2h0M489.3 263.7h0M529 233.4h0M521.7 201.6h0M611 225.3h0M611.5 309.9h0M511.6 172.2h0" stroke="#fdfbfc" stroke-width="4.0" stroke-linecap="round" stroke-opacity="0.95"/><path d="M537.9 273.7h0M538.8 187.3h0M612.5 174.2h0M493.2 181.7h0M556.6 304.1h0M611.7 278.3h0M476.5 288.3h0M511.5 298.4h0M482.1 206.1h0M579.9 275.1h0M498.5 228.3h0M554.5 265.3h0M599.1 244.6h0M606.1 194.1h0M539 292.3h0M586.8 220.3h0M527 311.8h0M509.5 226.5h0M544.5 185.5h0M517.9 258.6h0M529.8 242.4h0M572 267.8h0M557.4 242.5h0M560 253.5h0M610.6 236.9h0M484 297.4h0M529.2 177.3h0M522.9 265.5h0M622.5 179.4h0M494.5 246.2h0M603.5 256.6h0M594.4 311.5h0M568.2 301.7h0M589.5 173.2h0M621.4 212h0M597.7 269h0M607.3 274.4h0M573.6 178.1h0M500.1 293.4h0M537.2 247.7h0M613 191.1h0M562.8 249.5h0M529.4 213.7h0M507.8 202.3h0M619.2 244.9h0" stroke="#fdfbfc" stroke-width="4.5" stroke-linecap="round" stroke-opacity="0.95"/><path d="M544.4 239.4h0M605.8 177h0M594.9 248.4h0M477.6 243.4h0M487.4 219.4h0M563.6 209.2h0M523.9 285.3h0M541 207.2h0M572.7 285.1h0M602.7 285.4h0M532.1 227.1h0M532.3 270.4h0M563.5 293.9h0M607.5 295.9h0M620 235h0M575.5 256.3h0M590 247.4h0" stroke="#fdfbfc" stroke-width="5.0" stroke-linecap="round" stroke-opacity="0.95"/><path d="M535.7 232.9h0M579.2 176.7h0M534.1 303.4h0M505.5 188h0M549.3 264h0M491.2 299.9h0M494.6 292.1h0M548.3 284.8h0M500.7 284.4h0M517.6 247.3h0M549.1 252.1h0M562.1 225.5h0M538.7 238.9h0" stroke="#fdfbfc" stroke-width="5.5" stroke-linecap="round" stroke-opacity="0.95"/><path d="M501.2 197.8h0M500.1 209.6h0M504.6 258.8h0M562.6 184.9h0M475.1 270.3h0" stroke="#fdfbfc" stroke-width="6.0" stroke-linecap="round" stroke-opacity="0.95"/><path d="M492.2 190.7h0" stroke="#fdfbfc" stroke-width="8.5" stroke-linecap="round" stroke-opacity="0.95"/>
<circle cx="570.8" cy="232.8" r="4.6" fill="#e32a22"/><circle cx="580.8" cy="251.2" r="3.6" fill="#e5352c"/><ellipse cx="606.7" cy="265.3" rx="6" ry="4.5" fill="#fefefe"/><path d="M601,262 C604,257 611,257 613,261Z" fill="#e5352c"/>
</g></g>
<g clip-path="url(#cP5)">
<g filter="url(#soft)">
<rect x="321.5" y="312.7" width="151.3" height="140.8" fill="#d0289a"/>
<path d="M365.4 371.6h0M323.8 439.8h0M432.6 389.5h0M422.2 408.3h0M374.9 393.2h0M446.6 406.5h0M356.5 333.4h0M343.1 398h0M345.7 444.5h0M436 355.9h0M358.1 447.4h0M405.9 364.1h0M447.7 351.7h0M392.3 442.9h0M334.7 384.4h0M335.5 450.2h0M356.5 334.9h0M331.3 366h0M410.8 374.6h0M381.3 386.5h0M384.8 358.5h0M431.2 360.2h0M337.4 323.7h0M397.2 314.7h0M408.8 381h0M359.1 427.8h0M328.4 332.3h0M462 402.7h0M405.8 369.1h0M357.3 362.7h0M384.5 361.1h0M340.2 364.5h0M330.8 376.5h0M378.1 388h0M382.5 352.6h0M432.5 318.6h0M371.5 444.7h0M349.6 357.8h0M448.6 335.9h0" stroke="#e050b0" stroke-width="2.5" stroke-linecap="round" stroke-opacity="0.55"/><path d="M353.2 363.4h0M470.2 423.6h0M416 325.2h0M453.4 334.4h0M354.1 385.4h0M413.2 420.9h0M465.7 328.4h0M361.9 405.5h0M386.4 362h0M459.2 407.7h0M327.2 406.7h0M354.3 377.6h0M362.2 386h0M369.1 341.5h0M434.4 329.1h0M350.1 357.9h0M364.2 341h0M378.2 413.2h0M343.5 422.6h0M469 403.9h0M330.7 322.5h0M429.9 393.2h0M459.8 339.4h0M364.7 448.7h0M418.3 432.2h0M325.8 421.1h0M381.7 330.5h0M459.2 384.7h0M364.1 451.9h0M470.2 347.7h0M356.8 398.4h0M461.6 416h0M369.8 440.3h0M333.9 451.9h0M394.7 329.8h0M382.7 366.8h0M341.1 429h0M368.1 330.3h0M421.1 434.3h0M408.2 417.3h0M453.5 316.7h0M376.7 367.7h0M421.1 421.3h0M351.3 445.1h0M395.6 422.1h0M454.9 391.7h0M342.3 422.9h0M326.1 395.6h0M326.8 378.5h0M325 430.5h0M415.1 319.9h0M383 342h0M353.3 428.7h0M392.6 425h0M322.8 374.3h0M405.2 361.7h0M373.5 352.2h0M440.3 429.6h0M363 408.4h0M365.7 321.5h0M367.4 439.6h0M344.7 414.2h0M458.6 357.1h0M412.6 389.6h0M358.1 378h0" stroke="#e050b0" stroke-width="3.0" stroke-linecap="round" stroke-opacity="0.55"/><path d="M432.2 398.3h0M402.6 360.5h0M378.6 452h0M389.5 331.5h0M470.3 338.5h0M404 436.9h0M336.7 423.6h0M348.2 366.1h0M356.7 327.8h0M469.4 330.3h0M428.9 447.9h0M334.5 336.7h0M363.4 417.1h0M380.1 342.9h0M417.7 346.9h0M364 334.2h0M404.5 421.6h0M460.7 372.1h0M466 382.7h0M415.6 402.7h0M450 330.1h0M436.7 423.1h0M439.3 407.4h0M370.5 407.3h0M432.2 384.3h0M379.5 354.4h0M327.2 443.2h0M471.4 386.1h0M448 423.9h0M338.9 341.7h0M451.6 368.2h0M347.5 336.7h0M465.1 402.9h0M413.6 441.7h0M422.6 357.3h0M347.1 430.1h0M425.9 382.8h0M465.5 375.5h0M409 402h0M374 426.7h0M332.9 339.9h0M341.5 375.8h0M332.8 432.1h0M377.3 426.1h0M416 325.4h0M469.8 361.1h0M356.6 339.3h0M358.3 415.9h0M346.3 419.9h0M414 340.4h0M371.7 408.9h0M428.1 397.2h0M379.2 414.6h0M447.6 326.1h0M355.3 387h0M424.1 319.1h0M395.6 443.1h0M430.7 319.4h0M328.2 388.1h0M368.6 357.3h0M469 336.7h0M405.3 341h0M416.6 441.4h0M468.7 345.6h0" stroke="#e050b0" stroke-width="3.5" stroke-linecap="round" stroke-opacity="0.55"/><path d="M349.2 329h0M403.4 314h0M455.7 409.7h0M412 341.6h0M356.4 416h0M472 429.1h0M325.9 442.7h0M457.8 442.7h0M469 357.6h0M406.9 396.1h0M406.7 335.3h0M379.3 340.6h0M401.2 348.3h0M397.2 393.4h0M332.6 372.7h0M368.3 432.6h0M442.4 433.9h0M417.1 386.9h0M327.3 447.6h0M408.5 424.8h0M324.1 347.9h0M381.3 404.6h0M321.7 446.8h0M443.1 346.7h0M465.2 406.9h0M371.5 314.4h0M404.1 423.1h0M357.6 337.2h0M455.7 369.6h0M345.5 345.2h0M416 347.7h0M349.4 370.7h0M368.7 451.2h0M339 419.2h0M387.6 433.8h0M338.7 402.9h0M344.1 362.2h0M388.3 335.2h0M356.6 394.2h0M445.6 399.4h0M381.6 421.8h0M381 380h0M384.9 420.3h0M401.5 357.7h0M382.1 334.9h0M454.2 400.1h0M401.5 397.2h0M454.3 407.2h0M424.1 435.1h0M324.7 392.1h0M456.4 374.9h0M435.5 384.6h0M370.1 361.9h0M381 376.9h0M442.7 353.2h0M330.4 403.9h0M365.7 443.4h0M392.6 376.1h0" stroke="#e050b0" stroke-width="4.0" stroke-linecap="round" stroke-opacity="0.55"/><path d="M466.3 439h0M400.9 400.7h0M413.2 324.2h0M327.6 320.7h0M404.5 337.1h0M436.4 380.3h0M358.5 324.7h0M361 430.3h0M464.3 414.7h0M424.1 341.1h0M420.6 435.6h0M377.1 377h0M329.3 444.7h0M358.3 427.5h0M413 324.3h0M408.6 429.9h0M442.5 348.1h0M382.4 370.9h0M383.8 418.2h0M322.3 389.5h0M366.2 323h0M442.8 448.3h0M389.9 389.4h0M323.7 396.5h0M435.9 350.9h0M377 399.8h0M395.2 396.8h0M372.6 443.3h0M449 441.7h0M405.1 353h0M363.4 373.3h0M393.6 347.6h0M399.3 313.7h0M334 425.2h0M407.2 385.2h0M465.9 431h0M467.7 364.7h0M328.5 321h0M409.2 348.2h0M422.7 317.1h0M460.3 328.1h0M422.4 394.6h0M348.8 331.7h0M362.2 422.3h0M435.5 434.6h0M457.2 335.2h0M425.5 419.4h0M377.7 423.1h0M401.3 421.7h0M451 447.7h0M443.1 413.5h0M439.1 353.6h0M356.5 442.9h0M459.3 321.5h0M408 348.4h0M444.7 439.8h0M460.1 370.6h0M462 429.1h0M356.9 433.8h0M414.9 413.3h0M379.8 352.8h0M426.3 328.3h0M417 426.9h0M402.9 437.8h0M464.3 369.7h0M446.1 365.7h0M357.6 445h0M407.5 450.4h0M430.7 355.7h0M398.2 390h0M456.8 340.5h0" stroke="#e050b0" stroke-width="4.5" stroke-linecap="round" stroke-opacity="0.55"/><path d="M352.5 396h0M333.2 367.6h0M374.3 357h0M365.8 355h0M361.4 360.9h0M366.9 382.1h0M329.7 406.1h0M406.3 339.3h0M458.2 370.1h0M397.2 422.9h0M386.3 450.5h0M426.6 359.6h0M337.2 439.6h0M436.2 402.4h0M455.5 391.2h0M364.5 338.1h0M333.4 317.3h0M444.4 370.8h0M350.5 451.6h0M426.6 401.5h0M351.6 329.9h0M384.6 351.9h0M420.3 376.4h0M370.4 348.6h0M441.8 450.6h0M442.2 342.2h0M420.4 316.1h0M385.9 351.7h0M345.5 435h0M441.7 366h0M361.6 357.6h0M437.9 385.5h0M435.8 368.3h0M408.1 357.6h0M384.5 373.7h0M323.7 429.2h0M446.5 402.8h0M357.3 414.6h0M462.7 414.9h0M429.4 377.1h0M407.5 335.2h0M322.3 345.8h0M422 360.9h0M344.1 401h0M430.2 400.4h0M407.3 317h0M324.3 314.1h0M457.7 400.9h0M422.4 417.4h0M407.6 445.4h0M332.9 392h0M376.2 418.3h0M331.3 373.5h0" stroke="#e050b0" stroke-width="5.0" stroke-linecap="round" stroke-opacity="0.55"/>
<path d="M330.3 326.9h0M355.7 330.5h0M468.7 366h0M355.7 340.8h0M470 410h0M372.5 315.2h0M421.9 328.1h0M431.4 380.9h0M466.8 394.7h0M365.6 447.7h0M376 365.9h0M344.4 415.4h0M403 313.8h0M364.9 438.7h0M362.4 346.8h0M405.3 379.7h0M376.6 378.5h0M457.8 383.6h0M433.5 339.9h0M338.6 390.2h0M418.1 356.6h0M331.4 401.5h0M336 438.8h0M367.1 360.5h0M414.7 418h0M452.3 390.8h0M463 324.2h0M379.5 422.9h0M358.8 400.1h0M407.2 424.7h0M339.2 444.5h0M340.1 409.5h0M462.8 440.3h0M331.4 332.5h0M446.8 325.5h0M347.8 325.3h0M418.6 367.3h0M425 359h0M334.4 351.3h0M379 316.2h0M349.6 438.9h0M471.2 437.3h0M362.8 396h0M464.9 351.9h0M390.4 399.3h0M438.2 321.6h0M328.2 408h0M355.2 334.6h0M357.6 393.4h0M363.4 387.8h0M395.8 428.1h0M382 317.9h0M446 375.8h0M389.6 406.6h0M432.6 324.4h0M322.6 360.1h0M325.4 415.2h0M439.9 419.3h0M462.3 363.6h0M400.4 440.6h0M419.3 413.9h0M449.5 423.1h0M371.7 402.3h0M352.8 369.4h0M383.5 407.8h0M352.4 329.3h0M411.5 384.2h0M390.5 313h0M325.1 423.5h0M470.5 422.2h0M382.5 397.5h0M410.6 339.4h0M402.5 367h0M395 441.1h0M433 363h0M429 337.4h0M324.5 444.3h0M422.5 331.6h0M416.4 410.4h0M438.6 363.8h0M324.1 418.2h0M404.7 320.5h0M438.1 427.1h0M405.1 407.7h0M426 367h0M344.8 317.8h0M342.1 374.3h0M438.1 430.8h0M433.5 426.2h0M350.3 342.8h0M392 396.4h0M365.1 343.4h0M367 433.2h0M349.3 393.6h0M358.1 352.4h0M429.4 421.9h0M424.5 436.4h0M455.7 362.9h0M464 411.8h0M452.4 343.9h0M398.4 315.1h0M434.4 358.1h0M401.5 451.9h0M417.6 362.7h0M355.1 401.5h0M424.8 354.9h0M329.2 379.5h0M393.2 448.2h0M340.5 380.8h0M413.9 318h0M395.1 326.9h0M397.3 413.6h0M382.1 321.2h0M376.1 430h0M429.4 371.4h0M425.4 341.1h0M357.1 410.7h0M332.7 413.1h0M423.3 337.4h0M336.9 376.7h0M335.7 381.1h0M364.2 390.7h0M414.2 363.1h0M361.2 437.4h0M460.6 389.2h0M361.8 352h0M400.3 406.3h0M456 393.4h0M412.2 442.1h0M380.3 416.6h0M387.8 349h0M467.6 355.7h0M462 429.5h0M379.4 442.4h0M322.3 405.8h0M399.4 387.1h0M334.4 365h0M410.1 416.1h0M339.4 440.6h0M417.8 326.4h0M387.7 368.7h0M342 377.7h0M353.1 409.9h0M382 393h0M441.8 367.8h0M406.8 373.1h0M352.8 435.7h0M439.9 409.2h0M400.3 364h0M345.4 330.2h0M460.5 338.2h0M422.1 434.4h0M362.5 403.6h0M458.1 446h0M464.8 337.1h0M450.2 430.3h0M364.9 339.4h0M340 412.9h0M389.6 426.8h0M455.1 357.6h0M336.1 334.2h0M380.4 361.4h0M380.3 341.4h0M386 436.3h0M430.4 440.2h0M398.5 370h0M435.5 435.2h0M421.7 363.4h0M363.2 432.2h0M415.4 336.1h0M354.8 353.8h0M468.7 346.7h0M322.4 343.6h0M413.7 314.5h0M434.1 372.9h0M375 342h0M437.6 326h0M375.9 354.1h0M429.6 398.7h0M444.7 408.2h0M398.5 438.2h0M336.2 445h0M421.2 347.3h0M358.1 415.2h0M386.5 362.7h0M376.1 426.3h0M442.7 353.2h0M375.3 406.1h0M470.1 416.4h0M454.6 447.2h0M446.7 440.3h0M463.2 374.7h0M401.3 381.3h0M466.5 413.5h0M471 331.6h0M450.5 346.9h0M427.9 436.7h0M419.7 397.1h0M335.4 369.9h0M368.3 344.5h0M444.5 330.3h0M324.6 387.3h0M393.1 414.4h0M344.8 323.7h0M452.1 337.3h0M360.1 337.4h0M402.9 370.9h0M340.3 418.1h0M404.3 443.1h0M335.7 420.2h0M428.7 374.9h0M417.4 376.2h0M402.1 347.8h0M344.4 362h0M370.1 408.6h0M401.4 409.6h0M408.9 394.1h0M387.7 324.5h0M360 366.3h0M382 378.1h0M407.8 326h0M447.2 388.4h0M439.7 449.2h0M429.4 325.6h0M388.5 396.9h0M414.1 424.8h0M337.3 367.3h0M403.6 421.5h0M433.9 351.2h0M365 420.8h0M427.5 379.7h0M456.1 317h0M374.4 327.3h0M437.5 444.6h0M447.4 331.8h0M449.9 433.5h0M408.8 401.1h0M358.9 346.3h0M397 319.9h0M467.2 371h0M464.7 405h0M345.6 389.1h0M383.3 386.1h0M350.6 326.5h0M323.7 326h0M441.5 373.6h0M356.7 396.6h0M379.4 374h0M472.2 392.7h0M428.2 404.4h0M407.6 390.9h0M356.5 337.5h0M448.7 403.6h0M405.7 337.1h0M439.7 393.4h0M357.2 357.2h0M358.6 328.1h0M427.2 319.8h0M424.7 449.7h0M389.1 364.5h0M446.5 450.8h0M335.7 423.6h0M416.2 373h0M387.4 449.6h0M390.9 411.9h0M420.4 319.7h0M450.9 331.2h0M465.7 321.8h0M362.3 376h0M323.8 428.5h0M323.1 432.2h0M335.5 328.7h0M389.8 434.5h0M386.3 378.1h0M458.4 379.4h0M448.2 411.6h0M404.3 388.3h0M355.5 408.2h0M381.9 356.5h0M442.5 362.1h0M440.6 442.9h0M332 385h0M438.7 368.6h0M450.1 362.8h0M458.1 376.3h0M390.6 379.3h0M423 439.6h0M372.5 356.4h0M374.1 441.3h0M330.7 425.1h0M344 383.9h0M467 452.3h0M414.4 353.9h0M462.9 328.1h0M381.7 327.9h0M451.7 357.9h0M429 352.5h0M408.2 313.5h0M396.2 330.7h0M354 358h0M432.7 429.9h0M408.2 409.3h0M435.5 313.8h0M377.1 346.6h0M334.3 356.6h0M359.9 406.6h0M343.3 387.1h0M323 370.4h0M453.7 354.4h0M444.6 356.8h0M413.5 342.7h0M339.6 334.6h0M452.7 380.8h0M366.6 450.9h0M447.5 350.2h0M337.5 321.4h0M334.2 319h0M453.3 367.3h0M424.5 398.8h0M400.1 318.4h0M418.1 425h0M460.7 436.2h0M373.7 349.2h0M413.6 323.3h0M359.1 321.3h0M405.1 316.7h0M393 348.6h0M362.6 409.5h0M370.2 436.5h0M404.7 361.7h0M436.8 407.6h0M332.7 348h0M343 320.5h0M382.4 441.6h0M382.4 313.9h0M323 312.9h0M440.9 377.4h0M359.6 383.6h0M446.4 313h0M370.9 331.2h0M408.7 421.9h0M464.9 401.8h0M439.9 389.6h0M360.4 426.7h0M374.5 434.3h0M401.8 341.5h0M472.8 382.8h0M465.5 346h0M381.1 437.2h0M412 329.3h0M360.2 429.8h0M365.2 416.9h0M453.2 434h0M418 406.9h0M324.8 407.8h0M324.5 402.4h0M340.5 346.2h0M429.7 345.8h0M366.8 406.4h0M323.9 377.2h0M367.7 326.8h0M385 367.5h0M348.1 409.5h0M419 381.2h0M409.8 350.5h0M416.8 315.7h0M371.7 325.2h0M449.8 453.1h0M427.3 418.8h0M338.5 357.1h0M460.4 423.6h0M378.8 391.7h0M394.5 371.7h0M425.3 362.8h0M444.3 394.8h0M341.7 366h0M322 435.6h0M322.1 355.5h0M407.1 413.5h0M347.3 381.4h0M468.3 447.8h0M421.7 404.5h0M359.8 343.3h0M383 381.4h0M326.7 330.9h0M385.4 416.9h0M409.5 360h0M376.5 319.9h0M378.3 405.4h0M380.1 364.5h0M327.4 352h0M399 360.9h0M328 411.3h0M434.8 368.7h0M418.9 393.2h0M441.5 321.8h0M377.8 410.4h0M385.8 359.1h0M374.1 398.3h0M453.9 348.5h0M389.6 328.1h0M347 400.7h0M424.9 323.4h0M471.2 401.4h0M463.5 424h0M368.6 380.5h0M332.1 436.1h0M463.4 340.9h0M434.5 432.2h0M404.4 324.1h0M339.3 383.7h0M342.1 313.6h0M456.6 399.1h0M436.8 355h0M449.8 335.3h0M343 358.6h0M352.9 337.8h0M364.3 315.3h0M352.5 384.7h0M339 361.2h0M421.6 344.2h0M384.3 401.5h0M393.1 430.1h0M366.3 396.9h0M337.6 427.7h0M444.2 316.9h0M348.2 320.3h0M422.3 452.6h0M454.4 453.3h0M423 417.8h0M348.6 338.5h0M418.2 433.5h0M372.4 405.2h0M415.1 330.5h0M364.5 371.9h0M405.8 397.3h0M322.5 440.9h0M432.7 399.9h0M398.7 349.8h0" stroke="#940a68" stroke-width="2.0" stroke-linecap="round" stroke-opacity="0.8"/><path d="M349.3 353.8h0M407.2 345.8h0M387.8 442.9h0M462.5 358.3h0M392 324.4h0M335.1 388.6h0M408.2 381.9h0M405 448.1h0M396.7 453.4h0M424.9 421.7h0M372.5 367.3h0M363.9 443.1h0M340.7 425.6h0M426.2 328.9h0M376 446.5h0M341 342.1h0M457.7 368.9h0M444.8 400.2h0M345.6 404.4h0M341.3 430.2h0M331.8 360h0M353.5 449.3h0M354.8 405.1h0M458 350.8h0M329.7 421.1h0M415.6 421.7h0M355.9 379.7h0M375.9 387.7h0M471.9 449.1h0M349.8 359.2h0M338.2 396.3h0M356.4 318.6h0M322.4 317.3h0M457.5 416.8h0M388.9 315.8h0M398.3 444h0M331.6 450.6h0M398.4 397.9h0M359.8 333.3h0M345.8 351.3h0M424 394.2h0M394 378.4h0M408 433.6h0M436.1 441.3h0M337.2 325.4h0M448.4 366h0M463.6 434.3h0M447.8 394.1h0M343.3 395.2h0M387.5 335.7h0M416.3 430.1h0M426.8 350h0M332.5 409.3h0M351.8 364.5h0M346.8 376.9h0M389.6 356.9h0M417.6 402.8h0M469.9 318.1h0M386.3 373.9h0M358.7 360.2h0M471.6 343.5h0M351.4 402.2h0M439 359.5h0M418.5 442.8h0M329.5 318.7h0M448.9 328.1h0M443.5 444.9h0M470.9 370.2h0M336.9 316.4h0M387.3 343.1h0M450.7 323h0M350.5 317.6h0M377.6 327.8h0M454.3 423.4h0M387.4 330.6h0M460.1 321.6h0M454.1 403.7h0M325.8 393.6h0M435.6 403h0M368.9 387.5h0M394 424h0M416.1 438.9h0M430.2 427.6h0M339.2 404.5h0M432.1 453.4h0M330.6 392h0M432.7 445.9h0M395.4 312.7h0M354.9 349.3h0M421.6 383.2h0M468.3 391.3h0M407.6 329.6h0M382.5 324.5h0M348.7 373.3h0M414.2 435.5h0M444.5 390.7h0M335.3 392.8h0M374.7 410.1h0M357.6 376.4h0M363.4 325.6h0M357.2 424.5h0M409.4 365.4h0M460.9 410.4h0M426.9 445.5h0M436.1 318.8h0M393.1 338.6h0M356.6 450.8h0M446 424.5h0M421.4 446.5h0M323.9 333h0M325.4 348.2h0M467.6 359.8h0M403.4 400.7h0M369.7 377.1h0M453.6 415.9h0M386.3 321.2h0M326.3 434.2h0M347.2 432.4h0M349.2 421.3h0M445.6 320.8h0M456.3 344.5h0M425.3 375.7h0M452.1 410.8h0M367.9 422.3h0M322.9 396h0M460.4 393.8h0M417.7 322.1h0M332.2 416.7h0M366.8 392.9h0M465.8 386.5h0M439.3 385.1h0M379.1 385.5h0M364.7 364.3h0M325.8 380.8h0M424.4 316h0M463.5 443.7h0M365.8 320.6h0M465.5 364.7h0M438.1 374.7h0M412.8 428.5h0M434.8 381.9h0M457.5 433.6h0M382.4 349.3h0M450.4 446h0M421.1 371.2h0M446.1 418.2h0M471.1 336.2h0M387.2 387.5h0M461.9 420.1h0M456.2 321h0M364.6 354.6h0M429.6 386.8h0M471.1 388.1h0M407.5 341.3h0M344.2 334.1h0M351.3 432.4h0M419 419.9h0M412.1 335.3h0M398.5 341.4h0M418.2 449.8h0M438.6 351.7h0M467.1 425h0M370.9 336.4h0M397.8 402.5h0M389.5 420.8h0M378.4 402.1h0M345 419.1h0M394.3 388.8h0M337.1 399.6h0M325.6 336.9h0M445.5 372.1h0M376.2 419.8h0M329.6 430.5h0M368.5 369.9h0M369.4 354.2h0M435.9 423.8h0M470 375.1h0M411.2 391.2h0M442.9 452.8h0M451 371.5h0M434.6 414h0M424.6 411.7h0M344.4 425.2h0M408.5 451.8h0M411.8 380.1h0M358.6 446.1h0M460.9 385.4h0M344.6 346.5h0M400 322h0M429.1 363.5h0M471.2 433.9h0M361.2 450.5h0M377.2 437h0M447.1 437h0M348.8 348.8h0M457 426.3h0M413.7 396.7h0M377.2 323.6h0M444 343.7h0M369.6 442.8h0M459.8 400.3h0M427.3 395.7h0M424 387.8h0M446.8 345.9h0M369.9 450h0M324.9 321.1h0M357.8 371.5h0M459 439.6h0M373.3 393.3h0M328.7 366.6h0M393.3 435.1h0M375.4 416.5h0M470.6 444.7h0M380.6 429.5h0M335.6 431.1h0M459.5 406.2h0M344 408.1h0M413.3 349.5h0M371.7 340.3h0M385.3 432.4h0M427.9 314.9h0M331.1 374.4h0M378.1 398.4h0M336.2 341.7h0M327.2 448.8h0M431 342.1h0M427.3 441.9h0M428.3 357.6h0M397.5 432h0M433.6 347.2h0M411.2 374h0M422.9 350.2h0M432.2 435.8h0M451.5 419.2h0M376.2 359.6h0M433.1 408.6h0M460.9 333.7h0M344.9 355.1h0M365.1 334.7h0M385.4 425.5h0M399.9 333.6h0M418.4 385.1h0M411 368.8h0M466.3 380h0M444.6 383.2h0M355.3 439.4h0M345.3 448.3h0M468.1 436.8h0M338.9 453.3h0M467.1 314.7h0M342 326h0M406.1 352.7h0M343.3 438.7h0M351.8 396.6h0M331.6 445.9h0M384.7 390.3h0M344.3 370h0M379 332.2h0M446.9 428.6h0M351.9 418.1h0M411.3 325.6h0M338 434.1h0M417.7 333.6h0M350.1 313.7h0M322.4 373.9h0M332.6 397.4h0M460.8 316h0M451.6 376.4h0M408.3 445.5h0M448.6 380.1h0M366.2 375.5h0M428.8 413.3h0M393.7 344.2h0M401.7 432.3h0M444.3 336.1h0M439 434.9h0M365.5 426.3h0M386.9 413.1h0M434 378.2h0M349.8 453.4h0M360.8 318.4h0M440.9 398h0M347.3 384.7h0M394.6 364.4h0M371.4 360.4h0M384.2 353.6h0M392.9 407.3h0M412.2 447.3h0M323.6 329.4h0M353.3 426.5h0M375.6 370.9h0M397.6 381.6h0M402.1 374.8h0M360.8 417.6h0M435 389.1h0M437 338.2h0M374.3 423.7h0M437.8 396.2h0M391.3 374.3h0M438.5 347.3h0M326.6 426.7h0M426.5 344.3h0M449.9 399.3h0M322.6 390.2h0M363.9 412.4h0M413.7 388.3h0M380.7 433.8h0M325.8 356.2h0M390.6 392.6h0M354.8 314.3h0M419.5 313.1h0M421.6 429.9h0M359 421.2h0M430.7 331h0M348.6 417h0M322 338.8h0M416.7 446.3h0M409.2 317.1h0M429.5 390.7h0M453.7 428.1h0M388.4 453.5h0M413.8 357.6h0M449.2 415.1h0M345.8 340.6h0M342.6 400.4h0M453.3 385.9h0M423.6 424.9h0M407.3 386.7h0M401.4 357.1h0M375.2 338h0M397 391.4h0M347.6 366.3h0M333.4 404.5h0M351 333.1h0M365 350.4h0M363.9 381h0M406.2 357h0M399.5 328.4h0M467.8 350.3h0M468.5 431.3h0M371.2 373.2h0M341.2 354.5h0M346.5 315h0M387.9 353h0M444.1 349.6h0M398.3 346h0M472.2 327.9h0M464.5 391.5h0M327.2 361.9h0M393 451.7h0M362.9 360.6h0M366.9 366.9h0M328 443.5h0M355.3 324.5h0M425.4 383.9h0M330.3 387.8h0M457.6 324.3h0M370.4 398.8h0M441.6 416.3h0M458.1 372.4h0M428.2 408.9h0M327.9 403.1h0M330.2 314h0M448 358.4h0M411.1 406.4h0M340.5 350.8h0M440.4 334.9h0M435.3 331.7h0M367.7 429.3h0M435.3 393.1h0M374.3 375.2h0M444.6 404.3h0M370 412h0M445 368.5h0M371.9 428.8h0M329.7 440.3h0M330.6 350.7h0M327.8 370.3h0M462.4 370.9h0M365.8 346.8h0M447.6 317.8h0M337.4 415.5h0M337.3 449.1h0M356.9 363.8h0M457.7 328.3h0M358.7 388.7h0M350 449.5h0M436.3 448.6h0M467.6 406.4h0M404.4 383.5h0M438.1 453.1h0M461.6 351.4h0M464.9 333h0M392.6 360.6h0M347.6 436h0M333 378.7h0M440.8 329.3h0M369.7 363.6h0M370.7 383.6h0M403.6 436.9h0M379.1 354.6h0M394.2 403.7h0M406 417h0M411.7 432.6h0M388.4 339.6h0M466 325.4h0M391.2 319h0M430.4 321.6h0M440.8 342.2h0M461.6 344.8h0" stroke="#940a68" stroke-width="2.5" stroke-linecap="round" stroke-opacity="0.8"/><path d="M399.3 377.1h0M384 345.3h0M357.1 432.1h0M455.7 339h0M450.8 352.2h0M352.4 389.7h0M386.3 404.8h0M468.1 398.7h0M368.4 317.1h0M459.9 450.4h0M449.8 441.7h0M453.8 442.1h0M384.1 453.1h0M398.6 353.4h0M436.1 417.7h0M329.1 335.5h0M415.3 346.4h0M392.4 384h0M426.2 430.4h0M442.9 440h0M419.7 389h0M352.2 445.7h0M402.5 427h0M392.8 354.2h0M431.4 417.9h0M379.7 448.4h0M399.3 419.9h0M350.8 380.7h0M456 332.5h0M369.2 415.8h0M381.2 369h0M327.4 376.2h0M337 346.2h0M353 321.5h0M401.8 393.6h0M471.5 357.3h0M461 381.5h0M375.4 333.9h0M328.6 384.2h0" stroke="#940a68" stroke-width="3.0" stroke-linecap="round" stroke-opacity="0.8"/>
<path d="M383.6 313.1h0M331.9 409.8h0M447.6 337.7h0M419.4 363h0M397.4 333h0M418 358h0M444.9 396.4h0M410.2 318.4h0M334.7 383.9h0M391.8 412.2h0M330.3 313.5h0" stroke="#f28ccc" stroke-width="1.0" stroke-linecap="round" stroke-opacity="0.85"/><path d="M358.7 433.5h0M331.3 417.2h0M426.9 357.5h0M402.5 383.9h0M433.6 439.9h0M451 339.6h0M398.9 410.7h0M467.5 442.7h0M352 364.6h0M351.9 417.5h0M456.6 433.3h0M421.1 388.9h0M349.1 446.1h0M331.9 385.8h0M340.5 362h0M342.4 345.8h0M414.9 370.5h0M398.4 367.6h0M392.6 426.1h0M354.1 402.7h0M418.3 446.9h0M427 371.2h0M423.2 414.7h0M342.3 382.8h0M350.5 367.7h0M424.4 413h0M432.1 420.6h0M413.9 425.5h0M417.6 431.2h0M327.6 399.3h0M466.5 383.4h0M395.9 326.1h0M470.4 336.3h0M394.3 314.9h0M440.5 446.5h0M410.7 403.7h0M361.5 403.8h0M389 421.6h0M429.6 407.5h0M324.4 333.3h0M426.4 396.2h0M443.5 389.1h0M457.1 375.3h0M469.5 361.8h0M361.3 382.6h0M371.1 400.8h0M470.2 388.2h0M422.5 336.9h0M373.7 364.1h0M464 317.9h0M451.2 341.6h0M340.4 332.3h0M441.5 334h0M347 363.7h0M405.2 387.1h0M416.6 320.8h0M434.7 402.6h0M395.3 357.3h0M395.2 321.2h0M321.8 401.8h0M396.3 415.8h0M340.6 414.6h0M457.9 419h0M416 397.3h0M409.7 316.1h0M436.9 315.9h0M457.4 342.3h0M367.4 365h0M410.4 437.4h0M452.8 411.2h0M461 340.3h0M329.8 329.1h0M407.3 356.7h0M365.3 340.1h0M337 420.4h0M465.4 437.1h0M388.3 317.7h0M324 329.5h0M349.2 352h0M327.1 354h0M331.1 453.2h0M433.8 400.7h0M390.9 361.2h0M364 417.7h0M358.7 346.5h0M358.6 443.9h0M449.6 390h0M338.7 356.2h0M369.6 412.7h0M334.6 423.4h0M406.4 342.5h0M415.5 429.7h0M384.8 423.1h0M429.1 323.5h0M431.6 390.9h0M399.2 394.6h0M466.5 389.3h0M359.7 340.4h0M404.3 432.8h0M364 365.3h0M345.8 425.9h0M341.8 327h0M354.1 381.7h0M422.7 416.7h0M435.1 373.9h0M431.7 390.2h0M396.8 389.7h0M416.1 396.2h0M394.1 376.9h0M342.9 364.6h0M352.2 377.8h0M360.7 413.7h0M420.3 397.7h0M355.3 354.6h0M342.1 427.2h0" stroke="#f28ccc" stroke-width="1.5" stroke-linecap="round" stroke-opacity="0.85"/><path d="M396.4 321.3h0M438.9 439.8h0M386.1 412.9h0M381.2 373.2h0M464.4 406.7h0M465 315.9h0M422.6 452.6h0M335.5 401.5h0M437.6 425.8h0M453.8 391.9h0M459 343.8h0M327.4 347h0M436.8 399.8h0M412.1 354.9h0M435.7 437.1h0M442 422.7h0M444.4 450.5h0M402 378.8h0M440.4 343.5h0M443.6 440h0M340 452.4h0M463.3 433.4h0M385.2 449.8h0M391 356.4h0M457.4 365.8h0M455.4 350.6h0M412.1 366.4h0M323.1 371h0M409.8 351.9h0M405.8 432.3h0M435.8 359.1h0M450.7 324.1h0M387.9 397h0M361 363.5h0M359.6 428.8h0M394.3 381.1h0M437.2 364.8h0M388.4 441.2h0M357.5 366.3h0M404.8 449.2h0M376.6 443.6h0M331.7 451.8h0M334.2 380.5h0M404.8 443.6h0M335.7 374.2h0M413.5 405.2h0M405.5 339.8h0M447.6 433.9h0M419.6 337h0M364.7 324.8h0M419.4 355.3h0M450.8 431h0M326.4 330.1h0M352.8 370.8h0M398.6 414.4h0M374.1 413.5h0M468.4 419.5h0M468.7 412.2h0M446.1 431.8h0M345.5 359.8h0M355.8 374.9h0M404.2 366.7h0M456.7 371.6h0M370.8 338.2h0M418 355.4h0M453.8 417.5h0M418.7 369.5h0M431.7 349.2h0M415.2 321.7h0M331.1 369.4h0M357.2 382h0M462 374.5h0M358.8 357.2h0M391 374h0M374.9 421.7h0M414.9 432.9h0M441.1 441.2h0M362.7 338.5h0M381.3 450.8h0M432.1 413.9h0M467.4 392.6h0M417.1 424.7h0M436.1 413.9h0M390.4 443.4h0M338.5 368.3h0M337.7 323.9h0M451.1 361h0M357.7 438.4h0M383 395.2h0M463.3 402.2h0M334.8 330.4h0M419.1 351.2h0M382.5 434.2h0M383 399.5h0M378.2 449.4h0M456.9 449.4h0M391.6 329h0M361.9 328.6h0M471.6 378.7h0M347.7 421.8h0M324.7 355h0M471.7 365.6h0M381.7 334.6h0M412.5 338.7h0M368.5 377.1h0" stroke="#f28ccc" stroke-width="2.0" stroke-linecap="round" stroke-opacity="0.85"/><path d="M381.4 345.5h0M334.4 337.8h0M446.1 389.2h0M416.2 426.2h0M337.4 424.6h0M403.7 437.4h0M471.9 360.2h0M393.8 443.8h0M382.3 371.3h0M428.3 353.8h0M404.4 433.3h0M466.2 394.2h0M343.2 427.7h0M464.1 367.8h0M322.7 424.7h0M333.7 331h0M351.1 345.1h0M390.7 345.1h0M443.1 346.3h0M447.3 350.9h0M411.8 384.9h0M416.8 413.2h0M367.2 432.6h0M385.5 360h0M367.5 427.3h0M444.7 367.4h0M403.3 416.2h0M323.5 380.6h0M332.1 346.3h0" stroke="#f28ccc" stroke-width="2.5" stroke-linecap="round" stroke-opacity="0.85"/>
<ellipse cx="441" cy="324" rx="5" ry="3" fill="#f5c8e6"/><path d="M325,346 L333,349 L338,357 L330,355 L325,352Z" fill="#f0b0d8"/>
</g></g>
<g clip-path="url(#cP6)">
<g filter="url(#soft)">
<rect x="474.6" y="314.6" width="148.2" height="138.9" fill="#ebe8f3"/>
<path d="M596 406.3h0M555 435.8h0M486.6 436.3h0M576.6 442.3h0M617.8 345.3h0M557.7 357.1h0M544.9 343.4h0M516.2 336.2h0M549.6 325.6h0M484.8 367.7h0M478.1 358.6h0M554.7 324.5h0M475.5 349.9h0M509.5 448.9h0M532.5 425.7h0M513.4 424.6h0M474.8 333.5h0M530.8 419.1h0M503.7 393.7h0M479 410.4h0M555.1 336.1h0M546.7 398.3h0M524.9 358h0M507.1 324h0M514.7 390.1h0M537.7 391.8h0M556.8 445.4h0M519.8 453.4h0M567.8 402.8h0M498.5 391.1h0M564 427.5h0M573.9 351.4h0M549.5 407h0M608.6 443.2h0M495.5 434.7h0M610.8 354.4h0M606.8 341.7h0M589.1 387.1h0M512.5 428.3h0M589.5 432.9h0M498.7 450.8h0M477.4 324.7h0M513.8 366.8h0M543.7 362.8h0M574.3 344h0M567.9 389.9h0M475.2 445.5h0M475.2 373.4h0M538.1 340.5h0M522.9 406.4h0M572.5 373.8h0M481.3 431.3h0M597.8 383.3h0M536.6 332.1h0M487.3 418.2h0M490.1 411.5h0M482.2 345.8h0M566.5 351.9h0M503.7 335.5h0M514.4 399.3h0M616.4 386.2h0M607.1 399.1h0M478.2 344.1h0M505.8 365.6h0M523.3 433h0M573.2 429.7h0M520.7 354.2h0M608.6 368.7h0M575.6 377.9h0M582.4 317.1h0M586.3 334.2h0" stroke="#a8a4da" stroke-width="2.0" stroke-linecap="round" stroke-opacity="0.6"/><path d="M599.4 344.6h0M614.3 432.8h0M536.2 407.8h0M596.1 409.9h0M569.1 369.5h0M552.4 355.6h0M568.4 445.3h0M607.1 444.2h0M596.9 395.6h0M584.7 314.7h0M476.2 442.9h0M522.3 392.8h0M597.5 337.7h0M563.2 423.3h0M514.1 375.4h0M599.8 418.7h0M545.5 376.6h0M602.9 340.3h0M608.3 373.6h0M575.5 450.6h0M475.3 443.6h0M522.2 324.7h0M546.8 319h0M555.8 356.7h0M532.3 322.9h0M584.3 452.4h0M492.2 418h0M555.3 400h0M577.2 439.5h0M587 378.4h0M604.3 418.5h0M544.7 387.3h0M619.7 333.1h0M569.8 395.2h0M535.1 416.3h0M598 451.4h0M480.9 416.4h0M511.2 349.3h0M601.2 397.1h0M578.8 423.2h0M557.2 393.1h0M514.8 325.5h0M609.7 445.8h0M614.7 370.5h0M595.8 333.9h0M615.6 404.7h0M489.6 384.9h0M525 423.8h0M475.7 365.1h0M501.3 334h0M571.6 414.9h0M475.8 379.1h0M619.5 418.4h0M512 372.4h0M527.9 445.1h0M582.6 440.2h0M496.7 365.4h0M534.9 350.2h0M526.2 443.2h0M597.4 444.5h0M583.4 451.1h0M605.4 343.5h0M617.9 356.6h0M541.3 327.2h0M588 318.8h0M586 367h0M606.4 452.9h0M475.3 358.8h0M618.2 323.2h0M534.3 354.8h0M548.7 367.3h0M490.3 433.6h0M567.3 389.2h0M602.4 419.7h0M607.8 347.4h0M484.6 397.4h0M613 325.1h0M607.3 451.3h0M542.7 348.7h0M497.8 407.9h0M609.9 374.9h0M614.8 372h0M578 451.7h0M477.4 355.9h0M545 359.3h0M526.9 437.8h0M499.6 348.5h0M517.8 365.7h0M558.4 345.1h0M504.7 367.6h0M566 442.9h0M495.2 394.7h0M477.7 449.9h0M552.8 395.6h0M555.4 318.7h0M530.2 336.7h0M605.9 314.7h0M534.6 421.4h0M548.9 445.6h0M547.4 330.9h0M541.3 394.8h0M486.9 432.4h0M579.2 376.8h0M509.2 355.7h0M515.5 391.5h0M581.5 438.3h0M539.2 446.6h0M605.7 414h0M528.5 339h0M580 365.3h0M491.9 323.6h0M564.3 426.5h0M532 364.3h0M606.9 349.1h0M575.3 363.3h0M557.7 358.2h0M530 418.2h0M579.9 451.8h0M524.7 384.5h0M478.9 377.1h0M496.3 368.4h0M532 374.2h0M611.1 425.8h0M574 446h0M523.7 318.6h0M500.6 430h0M482.3 346.5h0M596.4 420.3h0M607.5 434.7h0M570.1 430.1h0M557.9 402.1h0M514.6 346.7h0M498.4 406h0M617 410.8h0M497.6 350h0M476.1 387h0M604.6 410.4h0M543.3 387h0M591.1 348h0M586.7 426.9h0M503.3 386.1h0M532.1 358.3h0M585.9 434.1h0M614.3 450h0M610.9 378.7h0" stroke="#a8a4da" stroke-width="2.5" stroke-linecap="round" stroke-opacity="0.6"/><path d="M511.8 358.3h0M537.6 407.9h0M510.2 389.7h0M557.2 355h0M485.9 338.1h0M569.9 380.5h0M585.2 370.5h0M588.4 326.3h0M597 384.4h0M565.8 327.2h0M506.8 330.8h0M560.1 336.5h0M598 452.6h0M504.7 335.1h0M527.4 338.8h0M538 364.5h0M476.1 337.9h0M583.5 422.3h0M510.7 351.8h0M574 453h0M590.7 368.7h0M579.1 363.1h0M530 427.6h0M577.2 442.5h0M603.5 421h0M545.9 339.5h0M520.7 397.9h0M475.1 335.1h0M513 412.9h0M535.7 424.3h0M496.5 350.2h0M614.6 420.6h0M495.2 423.6h0M556.2 420.1h0M532.9 331.6h0M525.7 337.1h0M527.9 429.7h0M518.9 364.3h0M532.7 354.6h0M563.5 381.7h0M537.2 357.8h0M603.1 328h0M480.2 338.1h0M526.2 414.7h0M553 329h0M615.1 375.1h0M581.4 397.2h0M607.4 369.8h0M494.8 358.2h0M618.9 335.9h0M506.9 406.3h0M521.8 420.2h0M589 340.9h0M573.1 344.4h0M475.1 381.6h0M482.4 361.3h0M611.2 326.7h0M614.7 352.7h0M509.4 430.6h0M583 397.1h0M614.7 360.7h0M531 364.3h0M595.5 360.5h0M579.2 444.4h0M558 378.4h0M499.3 319.4h0M550.8 434.4h0M522.4 339.4h0M568 408.9h0M586.4 350.2h0M507.3 394.3h0M615.1 410.5h0M524.2 420.6h0M551.5 446.2h0M620.6 398.9h0M591.6 354h0M581.4 416.8h0M498.5 444.1h0M569.2 422.3h0M530.4 405.3h0M622.3 405.4h0M535.7 432.2h0M519.7 372.1h0M509.8 359.7h0M615.3 401.5h0M553.7 414.1h0M482 367.4h0M502.9 391.7h0M488.1 328.8h0M474.8 366h0M579.9 364.9h0M599.2 384.6h0M516.1 401.1h0M598.9 368.2h0M525.4 356.4h0M479 423.1h0M622.5 434h0M603.7 376.7h0M608.8 346.2h0M596 445.3h0M615.7 358.9h0M522.1 339.2h0M532.3 387.1h0M477 425.5h0M588.6 363.6h0M520.1 351.2h0M509.7 339.7h0M571 318.3h0M507.5 406h0M570.4 387.6h0M581.4 403h0M619.1 437h0M577.3 395.2h0M488.8 428.5h0M554.8 411.4h0M564.1 368h0M559.6 440.8h0M536.4 324.7h0M477 376.3h0M517.1 348.1h0M603.2 367.2h0M555.6 450.7h0M571.7 326.2h0M534.4 411.5h0M579.5 426.7h0M487.2 368.2h0M503.8 320.1h0M573.1 445.8h0M600.8 396.7h0M548.3 344h0M555.2 420.6h0M536.7 399.7h0M580.7 425.2h0M513.1 425.3h0M497.2 388.7h0M523.8 328.6h0M499.2 398.8h0M603.3 334.6h0M567.6 396.1h0M567.6 450.8h0M509.6 430.3h0M490.2 388.1h0M520.1 428.6h0M593.8 429h0M518.3 387.9h0M534.7 400.5h0M538.6 403.4h0" stroke="#a8a4da" stroke-width="3.0" stroke-linecap="round" stroke-opacity="0.6"/><path d="M610.9 348.8h0M494.1 408.4h0M592.7 362h0M609 441.1h0M587.4 368.3h0M587.4 445.9h0M482.6 332.6h0M485.2 365.8h0M544.6 387.6h0M537.8 417.3h0M579 339.2h0M527.3 338.1h0M490.9 427.9h0M612 333.3h0M544.7 378.2h0M531.8 390.8h0M542 364.7h0M553.2 358.5h0M541.7 329.5h0M533.4 326.3h0M522.3 383.2h0M604.5 391.5h0M554.8 369.4h0M607 391.8h0M621.9 341.2h0M538.9 357.6h0M603.8 449.5h0M522.9 434.7h0M547.8 366.2h0M593.6 345.4h0M532.3 371.9h0M580.1 425.9h0M597.6 346.2h0M579.9 317.3h0M588.5 412.5h0M516 393.8h0M546.4 377.9h0M615.9 344.5h0M556.8 413.9h0M615.6 335h0M582.3 344.7h0M608.2 331.2h0M480.9 343.5h0M530.6 354.8h0M614.7 344.3h0M563.4 363.5h0M609.2 425.7h0M479.5 427.4h0M509.7 334.7h0M585.9 329.2h0M484.7 426.6h0M547.8 324.3h0M485 429.3h0M505.3 348.9h0M595 402.4h0M501.9 334.1h0M601.8 335.7h0M500.1 348.9h0M569.5 371.4h0M619.4 450.5h0M577.7 350.1h0M550 384.1h0M576.6 338.4h0M612.1 410.1h0M545.9 442h0M489.6 376.4h0M489.1 415.8h0M612.5 381.2h0M557 405.7h0M507 422.7h0M618 418.3h0M550.3 411.3h0M585.5 332.6h0M550 352.3h0M482.6 444h0M564.5 361.1h0M602.7 316.8h0M487.4 390.3h0M543.2 361.3h0M607.6 403.2h0M534.9 388.2h0M506.7 343.6h0M507.4 361.2h0M479.4 413.1h0M558.3 451.1h0M595.2 430.5h0M497.8 385.3h0M506 336.4h0M499.7 386.5h0M620.9 365.5h0M618.6 427.1h0M608.5 347h0M562.5 404h0M501.4 381.5h0M596.2 438.8h0M477.7 365h0M566.6 352.5h0M576.1 335.6h0M528.9 316.2h0M531.1 428h0M493.9 378.6h0M532.8 406.2h0M604.4 320.7h0M479.9 439h0M584.9 316.4h0M579.7 411.6h0M558.3 401.7h0M561.5 351.2h0M609.9 390.8h0M535.3 410.8h0M550.8 441.4h0M494.2 379.8h0M523 359h0M514.7 400.4h0M533.2 417.9h0M603.8 330.8h0M593.3 440.8h0M587.3 432.3h0M565.6 374.3h0M602.9 370h0M562.6 347.9h0M617.2 419.9h0M581.7 452.1h0M476.1 434h0M594.3 366.6h0M564.8 372.1h0M557.9 318.2h0M570.7 422.2h0M541 394.6h0M506.4 360.4h0M543 391.9h0M528.4 335.6h0M583.3 376.5h0M599.8 443.8h0M584.4 318.8h0M605.7 337.9h0M559.7 410.7h0M493.3 384.1h0M554.2 413.2h0M474.9 354h0M495.7 377.1h0M605.4 432.5h0M599.5 329.3h0M495.9 443.9h0M591.8 315h0" stroke="#a8a4da" stroke-width="3.5" stroke-linecap="round" stroke-opacity="0.6"/><path d="M510.9 322.3h0M585.9 446.8h0M589.1 399.1h0M491 435.1h0M533.3 334.2h0M530.4 402.4h0M509.2 346.9h0M568.6 337.1h0M608.5 345.5h0M532.9 325.4h0M585.1 382.3h0M506.4 442.1h0M508.6 431.4h0M568.5 375.1h0M572.9 432.9h0M476.3 354.3h0M534.1 387.2h0M486.4 318.9h0M587.3 354.8h0M527.1 427.9h0M566.3 392.6h0M532.8 390.2h0M611.8 342.3h0M484.4 355.4h0M596.1 407h0M480.9 346.9h0M620.2 427.4h0M544.7 445.2h0M487.5 362h0M616.2 390.6h0M595.8 334h0M567.3 348.7h0M500.7 408.5h0M515.2 453.2h0M605.9 418.7h0M620.5 384.5h0M482.5 406h0M572.9 324.5h0M479.9 395.1h0M510.7 416.6h0M517.1 383.3h0M542.6 335.2h0M616.2 409.4h0M514.2 441.4h0M586.3 420.6h0M540.4 344.2h0M551.3 400.7h0M486.9 340.6h0M507.4 326.3h0M505.3 406h0M524.9 416.4h0M589.4 342.1h0M493.1 436.2h0M516.6 419.8h0M580.8 420.2h0M494.7 405.9h0M573.8 417.4h0M585.4 344h0M486 392h0M610.8 351.6h0M536.2 321.3h0M492.8 325.8h0M594.1 323.6h0M498.4 335.9h0M569.3 373h0M533.9 417.2h0M576.5 361.8h0M548.2 434.9h0M494.2 416.9h0M559.7 416.8h0M533.7 413.7h0M497.6 348.2h0M493.3 418.2h0M571 344.4h0M606.1 342.8h0M591 350.2h0M572.1 440.9h0M563.2 446.4h0M557.7 379.6h0M535.1 443.9h0M611.1 389.7h0M610.4 349.9h0M477 340.9h0M538.9 358.6h0M523.2 349.1h0M523.8 387.6h0M559.2 360.1h0M518.4 422.2h0M527.5 347.6h0M499.8 378.1h0M618.7 335.7h0M593.1 316.1h0M593.3 363.1h0M543.1 364.6h0M618.7 436h0M579.3 321.1h0M523.9 411.3h0M476.7 358.7h0M591 359.8h0M605.6 448.6h0M510.1 447.9h0M495.1 422.7h0M615.1 322.1h0M613.7 444h0M617.6 410.6h0M604.9 453.5h0M567.6 336.8h0M585.9 440.8h0M560.2 399.2h0M585.1 424.9h0M540.6 405h0M610.6 430.7h0M476.1 448.4h0M494.5 414.4h0M532.6 322.1h0M564.9 333.5h0M507.9 438.5h0M531.6 375.6h0M588.5 380.6h0M612 337.6h0M496.4 445.4h0M543.2 447.8h0M613.1 427.3h0M476 414.3h0M526.5 431.6h0M563.5 441.5h0M519.5 412h0M574.9 425.9h0M501.6 427.6h0M481.4 371.1h0M602.7 383.4h0M514 319.6h0M518.6 343h0M574.9 394.7h0M510.5 359.6h0M588 337.5h0M499.7 414.3h0M536.2 436.1h0M551.5 412.1h0" stroke="#a8a4da" stroke-width="4.0" stroke-linecap="round" stroke-opacity="0.6"/><path d="M496.9 315h0M524.3 387.1h0M616.1 342.2h0M526.2 327.3h0M506.9 438.2h0M602.2 398.9h0M575.8 391.4h0M603.2 391h0M616.8 442.6h0M534.1 427.6h0M608.1 392.5h0M525.1 425.1h0M534.6 362.5h0M571.6 339.1h0M559.1 356.5h0M489.6 348.8h0M614.8 402h0M603.4 363.3h0M544.3 404.1h0M592.2 429.1h0M545.4 372.2h0M527.8 344.3h0M593.9 395.1h0M495.6 391.1h0M494 377h0M507.5 381.8h0M498.3 424.4h0M599.4 430.9h0M550.8 450.1h0M475.7 427.7h0M476.7 374.9h0M556.9 433.5h0M569.4 426.1h0M592.3 401.7h0M508 328.6h0M561.6 403.1h0M583.3 402.8h0M558 375.4h0M586.9 434.5h0M524.4 329.3h0M570.3 366.6h0M482.2 350.1h0M622.3 361.6h0M564.7 445.8h0M510.1 420.2h0M550.8 425.4h0M622.4 436.2h0M571.6 320.6h0M563.8 380.7h0M566.1 395.9h0M514.2 392.6h0M588.1 365.2h0M566.9 394.5h0M490.1 376.1h0M494.1 405.3h0M549 402h0M621.4 353.9h0M607.3 398.9h0M535 316.5h0M538.3 354.9h0M497.9 371.8h0M546.6 444h0M581.3 392.8h0M510.8 389.6h0M533.2 393.8h0M560.3 451.1h0M597.5 374h0M492.5 369h0M562.3 410.3h0M558.5 399h0M584.8 413.2h0M544.7 328.6h0M487.1 404.8h0M536.2 346.1h0M563.7 394.6h0M595.2 349.1h0M584.3 329h0M479.2 365.2h0M565.9 419.8h0M595.9 358.1h0M546 437.5h0M491.6 429.5h0M565.8 350.8h0M609.5 348.9h0M478.6 333.1h0M616.5 327.8h0M573.4 363.3h0M590.2 355h0M560.9 451.4h0M538.7 409.8h0M494.9 383.8h0M616.9 436.8h0M480.5 352.3h0M537.8 438.3h0M576.3 388.4h0M612.1 383.6h0M612.1 447.4h0M483.5 440h0M560.6 406.1h0M606.8 385.3h0M537.4 413.2h0M615 353.9h0M579.8 426.1h0M509.8 333.3h0M479.8 400.4h0M506.4 317.3h0M474.9 414.2h0M592.6 444h0M605 332.3h0M591 414.6h0M493.9 340.9h0M567.7 323.5h0M604.3 403.8h0M547.4 426.7h0M517.7 435.1h0M522.1 321.2h0M561.3 371.4h0M516.8 347.6h0M554.6 395.1h0M533.3 407.9h0M571.1 377.2h0M544.4 399.8h0M542.2 317.7h0M615.4 448h0M599.7 376.7h0M531.7 366.3h0M520.1 343h0M491 453.1h0M535 315.8h0M479.3 447.4h0M501.6 340.1h0M618.5 333.9h0M491.4 371.3h0M531.7 434.6h0M553.1 445.1h0M524.2 383.1h0M489.3 448h0M537.6 443h0M612.7 342.7h0M513.1 373.8h0M615.4 345.2h0M545.5 337.3h0M506 407.3h0M485.3 417.2h0M505.5 407.9h0M514.6 437.9h0M606.3 442.8h0M571.1 405h0M529.3 352.8h0M534.6 319.7h0M536.3 379h0M534.6 326.1h0" stroke="#a8a4da" stroke-width="4.5" stroke-linecap="round" stroke-opacity="0.6"/><path d="M572.8 446.2h0M498 357h0M555.6 384.8h0M558.6 329.9h0M549.4 340h0M562.2 388.2h0M492 418.2h0M565.2 380.6h0M482 442.1h0M601.1 448.2h0M584.9 370.6h0M528.4 410.9h0M618.9 365.6h0M542 392.5h0M543 343.3h0M516 356.9h0M569.9 326.6h0M552.1 431.7h0M497.4 357h0M482.9 410.5h0M587.2 367.1h0M572.1 431.3h0M549.3 349.6h0M599.9 363.3h0M587.9 416.9h0M556.9 391.6h0M521.2 451h0M596.1 340.9h0M578.5 324.6h0M567.4 366.8h0M583.5 362.5h0M593.3 383.9h0M575.9 329.7h0M571.7 392.8h0M505.6 409h0M589.8 327.2h0M549 326.1h0M558.1 352.5h0M607.8 393.1h0M577.3 328.5h0M509.1 335.4h0M512.3 346.1h0M507.5 419h0M575.3 398.7h0M594.9 365.7h0M619.7 425.9h0M494 356.1h0M560.4 422.4h0M552.6 422.5h0M556.8 411.9h0M545.9 317.5h0M561.5 452.3h0M567 371.4h0M590.7 387.2h0M612.9 373.5h0M541.4 325.5h0M516.5 405.3h0M529 369.1h0M593.4 410.7h0M570.4 442.9h0M563.9 404.4h0M614.5 436.4h0M482.9 362.4h0M604.2 400.7h0M510 336.1h0M528.2 452.4h0M490 402.6h0M544.6 369.2h0M619 445.5h0M491.8 334h0M493 314.8h0M529.2 350.5h0M581.8 421.4h0M600.1 374.8h0M555.6 399h0M488.2 372.1h0M593.3 429.9h0M523.1 340.3h0M550.1 436.5h0M550.5 400.7h0M577 348.1h0M564.4 346.1h0M538.3 348.7h0M584 396.6h0M524 432.3h0M480.4 448.3h0M594.4 444.6h0M515.6 392.2h0M528 443.1h0M515.4 393.7h0M524.7 417.2h0M521.8 401.7h0M610.1 406.9h0M477.5 381.5h0M580.3 351.5h0M553.9 453.3h0M597.5 411.7h0M507.6 330h0M601.3 339.4h0M601.4 325.9h0M510.3 407h0" stroke="#a8a4da" stroke-width="5.0" stroke-linecap="round" stroke-opacity="0.6"/>
<path d="M485.9 370.2h0M488 365h0M522.8 353.4h0M499.8 408.7h0M490.2 439.4h0M499.3 379.6h0M551 413.1h0M501 408h0M603.7 379.5h0M565.6 425.6h0M618.7 401.9h0M557.6 379.9h0M583.3 369.2h0M540.9 418.1h0M495.7 427.4h0M478.1 376.3h0M562.7 435.5h0M564.6 315.7h0M541.8 326.9h0M596.9 412h0M524.8 346h0M549.9 381.9h0M610.2 408.8h0M541.1 349.6h0M595 371.5h0M514.5 370.1h0M617.9 438.9h0M591.4 362.4h0M599.2 339.3h0M560.6 396.7h0M483.3 436.2h0M574 357.1h0M518.8 359h0M529.6 446.1h0M501.5 328.6h0M602.4 445.4h0M560.2 331.9h0M507.8 373.2h0M532.5 443.7h0M497 450.2h0M610.3 441.4h0M488.9 383.6h0M545.6 361.5h0M497 374.7h0M613.2 441h0M552.5 359.7h0M570.4 441.9h0M530.9 338.8h0M597.6 338.4h0M526.8 404.1h0M528.5 416h0M604.3 447h0M503.9 316.6h0M620.4 416.6h0M588.5 436.8h0M580.4 441.2h0M562.6 449.5h0M540 416.6h0M536.3 413.3h0M489 444.2h0M482.5 440.4h0M575.4 392.9h0M556.8 451h0M587.9 373h0M609.4 320.7h0M527.5 398.8h0M519.8 425.8h0M549.8 358.7h0M565.6 363.3h0M576.4 364h0M554.8 325.3h0M534.8 367.3h0M495.5 369.8h0M520.9 338.9h0M537 450h0M595.7 375.3h0M573.9 436.2h0M495.4 396.5h0M561.4 378.9h0M486.1 397.4h0M482.1 380.5h0M490.2 373.6h0M483.3 317.7h0M483.3 430.5h0M488.3 425.9h0M492.3 315.7h0M593.9 399.2h0M608.6 326.5h0M563.4 352.3h0M517.4 371h0M555 383.5h0M588.5 364.6h0M526.4 315.8h0M498.4 321h0M482.1 450.7h0M551.5 440.2h0M537.7 430.8h0M498 426.8h0M552.2 391.6h0M602 330.4h0M570.6 379.6h0M599.4 384.4h0M581 430h0M486.8 326h0M477.7 340.9h0M535.4 443.2h0M517 395h0M548.2 416.9h0M614.8 356.5h0M512.9 422.3h0M493.3 357.7h0M604 343.7h0M478.9 318.8h0M545.7 360.7h0M523.2 394.6h0M493.4 445h0M556.7 383.8h0M580.2 394.8h0M603.4 421.9h0M554.6 442.3h0M542.8 390.2h0M483.8 437.4h0M519.6 316.8h0M561.2 374.3h0M547 338.4h0M509.7 419.7h0M487 429.3h0M574.1 447.8h0M521 382.5h0M478.5 431.5h0M485.9 389.7h0M554.4 410.3h0M483.7 378.3h0M538 402.3h0M565.9 451.4h0M498.5 384.2h0M523.9 450.4h0M524.6 365.1h0M480.8 335.4h0M497.4 364.6h0M502.1 411.2h0M540.3 351.2h0M570.1 387.6h0M517 364.8h0M487.7 437.8h0M562.1 397.5h0M595.8 397.7h0M535.1 448.2h0M501 446.2h0M560.9 433.3h0M606.8 340.7h0M560.3 359.1h0M567.8 324h0M510.9 414h0M611.6 317.2h0M599.5 400.2h0M503.2 416h0M563.2 409.5h0M491.8 387.8h0M546 432.8h0M510.5 321.7h0M518.6 408.5h0M493.6 431.6h0M475.1 376.1h0M601.9 403.5h0M482.4 329.2h0M506.7 343.2h0M512.4 373.9h0M499.6 425.8h0M547.3 356.4h0M563.1 354.3h0M559.5 324h0M475.1 332.7h0M479 400.9h0M542.2 376.9h0M552.4 333.7h0M533.4 337h0M534.7 317h0M534.1 383.1h0M494.7 442.7h0M485.8 417.9h0M477.4 440.2h0M563.7 399.9h0M488.4 331.6h0M479.4 329.2h0M622.7 376.4h0M564.3 330.1h0M561.8 340.9h0M588.1 440.4h0M504.5 446.5h0M475.1 332.7h0M614 395.7h0M602.6 438.7h0M528.2 438.1h0M609.1 344.7h0M577.7 384.6h0M498 421.1h0M501.1 387.4h0M500.5 356.9h0M522.3 406.3h0M542 421.7h0M557.4 339h0M616.7 410.3h0M617.5 427.4h0M524.1 407.7h0M538.2 413.9h0M499.9 427.5h0M510.6 416.7h0M591.6 449.9h0M497.1 451.1h0M545.5 332.9h0M509.5 348.8h0M608 414.6h0M560.9 347.5h0M527.7 332.6h0M614.9 339.3h0M554 442.9h0M479.1 419.6h0M537.2 440.7h0M589.5 386h0M522.4 372.2h0M581.5 367.5h0M601.9 380.3h0M609.2 396.8h0M573.3 425.3h0M555.4 375.1h0M579.8 440.8h0M484.6 364.7h0M538.3 342.5h0M532.9 341.8h0M577.4 434.1h0M499.7 417.5h0M518.2 407.8h0M497.8 418h0M571.7 436.1h0M489.2 353.9h0M549.3 433.5h0M507.2 360.9h0M479.7 352.9h0M611.6 342.3h0M567.4 445.5h0M611.1 394.4h0M562.7 334.1h0M621.2 377.4h0M535.2 386.6h0M619.9 452.6h0M501.8 363.6h0M483.2 401.6h0M521.6 451.2h0M493.9 443.2h0M532.2 425.4h0M609.1 374.4h0M501.5 329.9h0M509.5 375.1h0M565 374.4h0M519 339h0M615.4 418.9h0M599.3 393.8h0M572.7 390.2h0M494.2 438.1h0M521.2 401.2h0M503 372.4h0M559 430.6h0M500.9 393.9h0M572.1 387.6h0M592.4 425.7h0M595.7 338.8h0M588 448h0M481.6 365.6h0M488.3 380.4h0M536.7 403.3h0M537 390.5h0M564.9 351.9h0M479.4 410.1h0M483.9 342.5h0M594.5 395.3h0M540.6 354.7h0M497.9 332.4h0M485.2 427.4h0M516 426.8h0M497.3 328.4h0M619.8 382.7h0M484.2 391.9h0M504.4 390.7h0M536.7 414.5h0M491 415.7h0M578.6 327.2h0M488.9 405.8h0" stroke="#4246b0" stroke-width="1.5" stroke-linecap="round" stroke-opacity="0.8"/><path d="M507.1 319.2h0M483.6 414.7h0M591.8 326.1h0M528.4 415h0M598.9 432h0M488.2 419.1h0M572.1 425.8h0M549.6 356.2h0M574.9 434.1h0M535.6 327.1h0M582.6 402.8h0M517.5 446.4h0M498.5 369.7h0M520 428.9h0M517.8 353.3h0M506.6 332.3h0M546.7 323.7h0M553.9 383.1h0M553.6 439.1h0M475.4 381.4h0M495.8 432.8h0M600.5 349.3h0M486.8 356.1h0M569.9 314.8h0M568.8 414.1h0M514 316.5h0M598.6 316.6h0M491.5 438.2h0M489.2 332.4h0M539.1 386.8h0M552.3 400h0M586.4 418.1h0M504.3 393.6h0M474.9 316.7h0M542.5 405h0M514.1 436.7h0M572.8 394.3h0M539.1 351h0M508.9 445.7h0M494.5 407.8h0M524.4 320.6h0M495.5 424.2h0M482.6 367.3h0M569 444h0M590.7 324.2h0M535.5 339.4h0M576.7 357h0M557.7 374.5h0M617.5 432.3h0M504.2 371.9h0M476.7 370.9h0M510.6 387.8h0M514.9 451.4h0M613.9 361.1h0M566.7 377.1h0M528.7 402.3h0M551 321.6h0M576.2 367.1h0M608.7 323.3h0M600.9 337h0M560.3 411h0M498.9 384.8h0M486.2 336.6h0M535.3 394.5h0M481.1 359.4h0M506.6 341.3h0M492 326.6h0M532.8 361h0M526.1 321.2h0M500.3 451.7h0M524.1 382.5h0M500.6 440.6h0M596.7 408.1h0M612.8 365h0M541.9 447.6h0M507.4 344.7h0M585.7 320.9h0M530.5 436.2h0M552.2 350.1h0M604.5 418.7h0M516.2 356h0M608.7 368.6h0M492.1 321.5h0M534.5 431.4h0M593.9 403h0M508.3 407.9h0M527.6 387.1h0M565.1 451h0M571 436.6h0M567.2 328.4h0M568.1 390.9h0M488.5 323.8h0M505.6 375.4h0M497.8 436.1h0M595.2 448h0M528.8 346.6h0M558.2 430.4h0M505.7 373.8h0M515.4 378h0M491.7 341.1h0M582.6 337.3h0M582.5 363.9h0M508.8 410.6h0M612.3 395.6h0M530.6 328.6h0M526.8 399.1h0M587.2 342.4h0M541.2 422.4h0M555.7 321.8h0M540.1 347.7h0M573.8 370.3h0M564.4 453.4h0M608 431.4h0M512.3 357.9h0M617.8 437.3h0M577 379.3h0M484.5 321.4h0M493.7 350.7h0M569.9 322.7h0M476.8 415.6h0M566 441.7h0M553.9 413.2h0M493.5 425.1h0M486.6 324.8h0M501.6 317.6h0M583.2 394h0M494.5 323.1h0M538.3 336.7h0M516.1 406.2h0M558.9 405.4h0M497.9 443.6h0M583.9 366.6h0M525.3 416.9h0M514.8 342.5h0M505.5 442.8h0M483.4 433.1h0M613.7 319.2h0M497.6 445.2h0M524.7 430.4h0M550.4 367.3h0M495.9 355.7h0M515.9 361.1h0M572.5 316.2h0M549.8 433.6h0M538.6 404.3h0M512.9 373.2h0M575.8 343.8h0M564.1 366.3h0M612.6 387.8h0M477.9 334.9h0M519.7 389.6h0M542.6 349.4h0M543.6 382.4h0M509.2 368.5h0M522.8 318.3h0M572.2 346.8h0M605.5 436h0M498.8 438.4h0M486.8 369h0M507.7 384h0M514.5 328h0M482.8 351.8h0M529.2 345.7h0M522 341.9h0M510.5 345.7h0M579.8 450.8h0M488.6 392.1h0M530.3 368.9h0M489.9 326.4h0M496.1 352.4h0M522.8 379.2h0M591.9 324.6h0M507.7 438.3h0M594.5 433.2h0M503 434.9h0M621.8 333.5h0M517.3 347.6h0M501.3 446.4h0M530.1 440.6h0M487.1 439.6h0M520.2 365.9h0M481.1 334.2h0M499.9 394.4h0M504.7 417.4h0M592.2 429.1h0M600.9 339.6h0M530 328.9h0M512.1 442.5h0M566.5 420.2h0M548.9 401.3h0M490.5 432.7h0M546.5 370.6h0M569.3 330h0M558.8 423.8h0M552.5 390.8h0M557 387.7h0M566.8 429.2h0M482.1 371h0M500.2 369.2h0M592.7 386.2h0M496.7 359.5h0M483.8 419h0M549.1 442.6h0M588.9 370.5h0M476.2 318.3h0M552.2 416.2h0M522.9 452.8h0M537.7 414.1h0M539 357.3h0M585.2 353.4h0M502.6 345h0M544.4 404.4h0M478.5 342.8h0M594 318.6h0M540.2 443.4h0M570.2 357.1h0M524.8 372.3h0M594.5 329.4h0M487.6 419h0M538.3 433.5h0M486.4 348.2h0M611.4 431.3h0M503.2 388.7h0M482.7 362.3h0M554 333.8h0M615.2 319.7h0M483.5 385.2h0M556.6 376.5h0M557.8 422.1h0M491.2 390h0M491.6 401.2h0M502.9 441.7h0M498.4 360.7h0M566 339.4h0M520 417.9h0M487 362h0M558.6 407.1h0M558 356h0M586.9 387.9h0M535.6 406.2h0M526.7 361.5h0M483.9 418h0M539.7 445.8h0M502.5 424.1h0M528.4 381.9h0M583.3 410.1h0M552.2 382.6h0M479.8 439.3h0M495.3 336.9h0M529.7 337.4h0M486.7 416.1h0M544.6 448.2h0M485.3 405.5h0M594.3 338.9h0M613.3 325.3h0M568.2 433.5h0M561.8 451.9h0M568.3 438.6h0M592.3 347.1h0M492.7 371.3h0M581.4 417.5h0M571.7 345h0M513.3 327.6h0M505.9 332.2h0M598.9 437.3h0M480.3 400.3h0M492 315h0M597.6 447.8h0M550.6 367.7h0M547.7 329.9h0M537.8 418.3h0M555 317.7h0M527.2 382.2h0M496.5 408.4h0M527.6 350.6h0M585.1 401.3h0M615.4 343.8h0M573.4 361.6h0M512.1 356h0M516.5 329.3h0M521.3 375.3h0M571.5 348.6h0M528.5 402.6h0M514.2 341h0M597.2 353.6h0M593 400.9h0M558 371.2h0M493.7 358.4h0M585.8 320.6h0M588.1 354.4h0M497.2 426.9h0M496.3 324.9h0M578.4 384.8h0M608.2 432.4h0M551.6 379.3h0M535.3 401.5h0M477.5 337h0M556 361.5h0M536.9 397h0M511.4 336h0M621.6 360.1h0M536.3 413.4h0M553.5 344.6h0M556.4 395.6h0M526.3 452.4h0M547 409.6h0M493 446.5h0M561.7 339.8h0M614 336.9h0M550 425.5h0M588.3 360.2h0M521.3 350.6h0M601.3 444.7h0M475.6 353.5h0M541.5 443.8h0M500.1 401.3h0M568.9 328.5h0M619.5 379.5h0M607.7 362.1h0M496.7 427.7h0M477.5 337.2h0M500.6 416.2h0M507.6 412.7h0M577 430.1h0M527.6 409.1h0M506 368.6h0M580.7 323.1h0M477.4 363.9h0M502.5 350.1h0M507.2 383.7h0M536.5 366h0M556.7 430.5h0M620.2 425h0M585.4 444.1h0M605.3 411.9h0M546.6 336.9h0M502.6 411.2h0M522.7 443.6h0M569.5 371.3h0M488.4 399.3h0M547.1 406.9h0M507.2 376.5h0M592 446.5h0M576.2 370.8h0M511.3 323.6h0M494.4 341.8h0M615.9 430.6h0M499.2 400.3h0M522.1 433.4h0M610.4 325.3h0M496.5 331.4h0M537.8 335h0M479.9 328.2h0M479.6 447.6h0M566.9 373.1h0M556.1 400h0M610.6 341.7h0M610.5 342.9h0M581.1 398.2h0M519.1 442.7h0M533.9 338.2h0M532.9 352.3h0M527.7 416.6h0M580.4 375h0M585.8 418.5h0M529.8 368.8h0M521.8 429.9h0M486.9 396.4h0M544.3 347.2h0M518.9 341.2h0M591.6 397.3h0M604.9 416h0M611.2 322.2h0M537.4 429.1h0M493.8 331.8h0M510.2 410.4h0M525.7 384.2h0M503.2 421.6h0M552.4 434.4h0M503.4 406.7h0M562.2 451.9h0M618 373h0M555 333.8h0M496.1 415.3h0M572.7 378.2h0M559.4 426.1h0M608.7 408.5h0M576.6 367.8h0M579.4 379.2h0M513.5 371h0M615.2 373.8h0M526.4 421.5h0M486.5 421.1h0M494.7 415.8h0M601.3 386.1h0M574.8 366.8h0M522.1 374.2h0M492.8 417.2h0M500 442.5h0M484.2 416.8h0M587.3 406.9h0M519 358.1h0M524.4 338.5h0M581.2 440.7h0M510.3 381.3h0M485.8 365.5h0M589.6 371.4h0M576.3 441.1h0M482 345.2h0M523.2 443.7h0M490.7 314.7h0M524.3 432.5h0M507.9 335.4h0M514.9 387.2h0M493.9 330.4h0M574.7 344.5h0M547.9 365h0M584.2 386.6h0M594.7 439.4h0M483.9 363.8h0M489.1 435.5h0M586.7 439.4h0M490.6 422h0M555.2 447.5h0M488.9 373.9h0M478.4 315.8h0M509.3 424.5h0M574 408.8h0M622.6 316.6h0M621.6 321.5h0M522.1 356.6h0" stroke="#4246b0" stroke-width="2.0" stroke-linecap="round" stroke-opacity="0.8"/><path d="M566.2 351.1h0M521.1 410.8h0M508.5 377.5h0M505 414h0M542.4 369.8h0M548.7 349.6h0M588.9 322.5h0M531.4 320.1h0M587.2 394.5h0M500.3 437.4h0M490.6 386.8h0M586.2 378.9h0M484.2 443.1h0M618.5 449.1h0M614 399.4h0M590.4 398.7h0M481.8 386.3h0M500.9 335.6h0M580.1 398.2h0M602.1 317.8h0M607.6 404.4h0M515.6 379.1h0M574 379.3h0M545.5 411.1h0M558.6 322.5h0M530.4 403.9h0M599.5 394.8h0M520.7 446.6h0M610.9 387.4h0M490.1 431.5h0M508.8 360.6h0M588.3 354.2h0M528.8 419h0M539.3 380.9h0M523.8 323.3h0M618.2 415.8h0M573.5 327.8h0M487.2 411.8h0M488.8 343.4h0M481 412.2h0M594.1 344.6h0M553.1 331h0M516.6 432.4h0M576.2 452.7h0M511.2 397.3h0M591.2 423.5h0M512.8 398.2h0M496 447.8h0M553.3 431.7h0M595.4 362.4h0M587.9 388.7h0M559.2 358.4h0M571.4 409h0M567.5 431.3h0M595.1 423.9h0M522.2 322.4h0M545.8 391.7h0M519.8 363.1h0M593.4 389.3h0M561.1 370.2h0M540.6 335.1h0M475.1 334.6h0M600.5 393.1h0M491.6 434.6h0M566.4 328.1h0M508.5 409h0M613.5 416.5h0M484 377.8h0M576 369.6h0M522 404.7h0M481.5 324.2h0M485.7 379.1h0M600 377.2h0M481.3 393.4h0M613 421.8h0M600.7 402.1h0M497.2 346.9h0M485.8 436.4h0M499.8 407.2h0M562.3 413h0M477.2 438.7h0M486 428.6h0M583.4 408.9h0M549.8 451.4h0M547.8 443.9h0M593.5 427.4h0M518.8 337h0M612.1 422.6h0M609 319.8h0M535.6 359.4h0M489.1 397.1h0M479.6 377.6h0M618.3 362.4h0M559.6 324.8h0M600.3 340.9h0M487.8 358.4h0M560.7 327.7h0M490.2 411.9h0M492.7 403.9h0M495.3 410.5h0M582.4 409.7h0M588.5 362.5h0M491.8 323.8h0M611.9 405.1h0M576.3 419.2h0M575.9 345.8h0M533.4 435.3h0M525.5 421.6h0M500.6 438.2h0M532.7 330.1h0M544.2 370.2h0M563.8 421h0M558.4 352.4h0M579.1 332.8h0M513.9 348.3h0M510.5 371.6h0M487.1 384.4h0M477.2 386.2h0M506.5 343h0M500.3 356.6h0M494.9 391.8h0M516.3 343.4h0M592.8 438.5h0M499.1 410.4h0M476.8 428.6h0M487.7 388.6h0M525.2 415.7h0M584 322.3h0M496.6 338.1h0M482.4 338.4h0M476.5 441.3h0M555.2 420.1h0M516.9 446.6h0M536.5 323.7h0M544.6 383.4h0M476.1 417.6h0M598.5 345.9h0M565.2 382.3h0M501.4 391.9h0M526.3 358.2h0M618.8 330.3h0M521.9 445.3h0M505.6 417h0M546.5 372h0M511.6 362.9h0M529.8 356.8h0M498.6 427.9h0M537.2 340.8h0M508 382.2h0M612 336.3h0M531.1 323.4h0M547.7 449.2h0M518.5 360h0M497.8 385.1h0M560.1 432.9h0M494.4 351.6h0M495.1 411h0M476 406.4h0M577.3 440.3h0M482.3 434h0M505.1 441.7h0M602.7 340.3h0M542.2 340.4h0M550.5 404.6h0M516.5 342.5h0M484.6 408.9h0M525.4 364.6h0M572.7 346.9h0M606.3 339.4h0M545 315.2h0M519.5 318.7h0M511.3 350.5h0M518.8 344h0M518.7 337h0M616.8 417.6h0M535.8 353h0M547.1 339.4h0M540.1 422.4h0M498.7 382.6h0M586.2 407h0M496.8 343.3h0M554.1 364.2h0M591.5 380.4h0M488.7 401.2h0M542.5 378.9h0M586 325.7h0M595 373.4h0M584.9 440.4h0M566.4 407.6h0M489.1 363.1h0M578.6 446.7h0M503.6 426h0M486.6 324.3h0M553.8 422.5h0M544 371.5h0M525.7 378.5h0M493 394.7h0M560.6 402.4h0M577.6 349.4h0M521.3 390h0M491.6 438.7h0M537.4 342.8h0M523.9 369.8h0M511.2 364h0M583.8 356.4h0M586.8 355.1h0M516.4 427.9h0M496.9 418.3h0M533 420.4h0M520.5 322.2h0M534.3 389.8h0M602.7 315h0M540.2 330.1h0M521.7 417.3h0M574 436.3h0M498.5 318.8h0M564.3 451.8h0M549 412.5h0M539.4 412.4h0M506.9 400.1h0M566.9 442.2h0M512.3 356.5h0M474.6 364.2h0M484.2 444.4h0M582.8 403.9h0M484.4 337.6h0M525.4 385.6h0M569.1 355.6h0M532.2 431.2h0M537.4 322.8h0M530.3 375.8h0M622.2 425.7h0M487.5 444h0M524.7 381.2h0M577.8 374.2h0M606.6 348.2h0M503.4 388.6h0M475.5 369h0M610.9 395.4h0M520.8 420.2h0M565.8 430.3h0M517.4 416.8h0M534.1 331.1h0M551.3 403.4h0M486.9 324.9h0M492.5 430.9h0M594.8 401.6h0M558.6 352.5h0M478.5 392.1h0M552.2 388.3h0M528.1 401.2h0M498.2 432.8h0M577.1 337.8h0M585.7 330.1h0M586.2 416.6h0M515.9 352.3h0M477.3 364.8h0M572.3 372.7h0M553.7 423.4h0M495.7 433.7h0M503.9 415.5h0M533 343.2h0M603 372.4h0M593.4 375.2h0M617.5 325.3h0M483 367.1h0M524 443.3h0M606 331.1h0M517.6 402.1h0M538.3 378.7h0M499.6 452.8h0M544.7 377.3h0M476.3 343.5h0M508.8 409.2h0M546.3 381.2h0M570.2 360.1h0M528.8 334.3h0M493.1 344h0M573.4 327.2h0M490.8 404.8h0M525.7 315.2h0M486.3 323.1h0M604.4 329.7h0M524.7 407.5h0M537.4 349.7h0M558.6 452.2h0M556 375.5h0M603 404.1h0M558.5 425.8h0M587.2 442.2h0M525.2 381.1h0M617.2 419.5h0M512.2 404.5h0M531.8 326.9h0M597.9 353h0M529.9 403h0M536 361.6h0M604.8 328.9h0M516.7 320.8h0M501.9 327.9h0M571.5 327.2h0M506.1 402.5h0M578.8 364.3h0M495.6 434.8h0M508.1 344.4h0M592.6 390.2h0M543.4 335.3h0M479.4 397.8h0M562.7 351.5h0M522.5 330.8h0M487.9 414.5h0M515.4 367.7h0M569.1 333.4h0M497.7 410.8h0M504.7 416h0M603.4 415.9h0M512.4 416.5h0M615.6 367.1h0M528.6 437.4h0M512.9 348.8h0M607.1 445.1h0M510.9 437.9h0M496.9 347.8h0M513.6 390.8h0M479.4 389.6h0M502.5 389.8h0M484.6 329.4h0M478 349h0M509.7 410.4h0M492.1 360.1h0M480.9 450.3h0M558.6 386.7h0M536.9 374.1h0M504.4 384.2h0M567 438.7h0M503.6 342.6h0M593.9 451.2h0M495.7 399.6h0M598.6 344.3h0M535.4 402.8h0M570 422.5h0M581.2 377.4h0M587.3 327.3h0M545.4 432.8h0M610.5 338.9h0M539.1 429.5h0M607.6 360.5h0M546.9 360.3h0M566.9 325h0M487.4 428.4h0M496.3 359h0M558.7 326.8h0M548.1 390.1h0M517.2 379.3h0M492.6 386.7h0M501.2 420h0M489 343.3h0M575.9 423.8h0M523.7 363.1h0M600.5 359.1h0M496.2 351.4h0M537.2 339.5h0M507.1 388.8h0M525.8 340.2h0M594.7 385.5h0M515.1 346.4h0M597.7 314.9h0M502.7 373.5h0M552.7 357.8h0M488.6 400.9h0M513.6 413.4h0M597.5 404.1h0M598 341.1h0M543.5 398.2h0M550.1 415.3h0M475.7 348.7h0M477.7 419.2h0M525.1 319.4h0M484.5 419.9h0M514.4 427.1h0M501.9 410.2h0M528.5 388.2h0M554.6 435.5h0M573.4 317.9h0M524.5 376.5h0M554.7 332.7h0M543.1 343.2h0M598.2 418.1h0M493.4 330.6h0M598.1 429.3h0M567.2 389.6h0M518.3 369.2h0M476.1 409.3h0M589.4 385.8h0M558.3 352.4h0M562 385.2h0M529.3 404.9h0M480 336.6h0M548.9 409.1h0M565.5 319.7h0M475.2 424.3h0M498.8 351.9h0M508.6 372.5h0M480.2 315.2h0M503.7 372h0M551.2 411.6h0M503.4 380.9h0M544.9 359.5h0M605.6 404h0M480.7 405.9h0M521.8 333.8h0M480.5 342h0M563 318.7h0M496.6 418.4h0M548.3 424.2h0M569.5 330.4h0M529.1 373.4h0M481.6 397.8h0M502.6 315.7h0M616.7 405.7h0M491.9 442.6h0M486.7 449.5h0M589.9 332h0M482 318.3h0M606 356.5h0M490.1 449.4h0M590.4 351.1h0M476.1 372.2h0M545.5 380.5h0M604.8 341.2h0M578.4 326h0M489.4 360.9h0M535.1 445.7h0M491.1 335.3h0M507.9 346.9h0M489 388.1h0M562.3 391.5h0M580.1 393.8h0M478.9 393.5h0M512.8 415.8h0M518.5 373.1h0M612.2 318h0M532.7 357.4h0M503.6 441.2h0M523.6 366h0M580.9 397.4h0M517.9 317.2h0M574.2 384.3h0M540.1 404.1h0M537.9 418.8h0M533.7 425.9h0M551.6 320.1h0M485.2 339.5h0M582.6 438.5h0M580.6 352.1h0M516.9 440h0M545.7 414.4h0M524.8 321h0M507.2 428.7h0M545.6 391.4h0" stroke="#4246b0" stroke-width="2.5" stroke-linecap="round" stroke-opacity="0.8"/><path d="M524.2 431.5h0M530.5 416.9h0M548.8 318.3h0M621.4 373.8h0M493.4 399.7h0M501 436.6h0M558.9 319.4h0M502.9 402.3h0M475 398.2h0M501.4 347.9h0M476.3 451.1h0M612.5 445.7h0M555 449.3h0M564.3 330.1h0M484.2 451h0M489.7 346.6h0M497.6 434.5h0M521.2 379.3h0M559.5 397.5h0M608.8 413.9h0M532.7 398.8h0M570 326.6h0M503.9 337.8h0M504.9 328h0M613.6 366.9h0M489.1 326.6h0M598.7 321.7h0M507.5 335.7h0M578.9 452.4h0M540.2 393.3h0M509.4 327.3h0M504.6 384h0M606.4 316.3h0M571.2 396.5h0M563.1 397.6h0M476.7 322.1h0M608.3 378h0M552.7 321.2h0M595.5 422.7h0M475.3 344.3h0M538.8 336.7h0M475.4 352.4h0M491.1 348h0M524.9 335.9h0M496.1 352.2h0M558.9 340.1h0M524.4 360.1h0M603.4 352.6h0M490.9 345.7h0M574.9 365.4h0M598.1 363.1h0M545.3 315.6h0M497.9 396.4h0M613.4 357.7h0M597.9 368.5h0M477.1 343.9h0M559.7 392.6h0M603.8 416.3h0M480 366.5h0M517.9 384.6h0M498.9 438.1h0M569.2 388.1h0M535.2 440h0M551.7 347.6h0M574.8 359h0M527.2 379h0M503.6 359.1h0M513.5 404.4h0M575.1 359.5h0M528.1 378.6h0M536 343.4h0M572.3 370.8h0M522.1 380.2h0M502.1 374.2h0M486.9 378.8h0M568.9 447.3h0M588.9 322.4h0M534.2 321.8h0M506 400.3h0M581.4 451.1h0M537.2 447.1h0M491.9 399.6h0M500.6 446.9h0M520.1 362.7h0M509.2 450.8h0M512.6 342.1h0M502.4 410.5h0M512.4 332.4h0M522.2 423.1h0M603 383.6h0M482.6 423.9h0M495.1 439.9h0M539.1 407.5h0M583.8 317.9h0M486.9 347.9h0M494.8 320.6h0M503.2 339h0M614.7 423.3h0M506.2 450.7h0M541.7 358.7h0M478.7 400.9h0M552.2 314.8h0M487.3 353h0M545.1 378.3h0M497 430.4h0M611.3 417.4h0M521.9 381.7h0M525.3 359.4h0M575.2 332.9h0M579.4 410.3h0M505.8 413.1h0M547.6 445.6h0M587.3 354.7h0M576.2 427.4h0M571.2 427.6h0M575.9 436.4h0M536.3 322h0M496.9 370.9h0M483.4 315.3h0M509.6 366.6h0M537.1 436.2h0" stroke="#4246b0" stroke-width="3.0" stroke-linecap="round" stroke-opacity="0.8"/>
<path d="M589.2 322h0M606.7 348.3h0M580.4 416.4h0M541.5 427.8h0M580.5 449.9h0M527.7 398.4h0M560.8 415.2h0M571.2 314.9h0M588.9 396.5h0M488.9 412.4h0M550.9 365.4h0M531.9 348h0M562.1 401.2h0M547.1 314.8h0M566.8 408h0M548 400.9h0M546.3 393.6h0M569.7 399h0M533.5 338.7h0M583.3 390.9h0M539.3 425.5h0M609.1 363.1h0M597.7 439.5h0M489.3 414.7h0M571.3 350.4h0M504.1 381.6h0M574.8 335.4h0M597.3 354.5h0M599.1 339.8h0M608.9 373.1h0M605.5 318.3h0M608.2 399.4h0M621.8 432.7h0M533.6 354.2h0M566.4 338.1h0M488.8 336.6h0M479.8 413h0M562.4 379.5h0M597.9 431h0M480.2 436.7h0M562.9 421.3h0M621.2 352.3h0M486.5 408.1h0M543.6 434.8h0M538.2 377.2h0M492 376.7h0M558.5 448.7h0M596.1 379.1h0M510.8 441.5h0M511.6 436.4h0M562.3 430.8h0M504.4 363.7h0M555 417.2h0M581.1 316.4h0M538.3 390.1h0M552.4 366.8h0M549.1 404.8h0M477.6 435.4h0M565.4 384h0M538 406.6h0M612.7 322.1h0M604 385.7h0M554.9 443h0M568.4 436h0M489.6 376.5h0M498.6 347.5h0M621.4 319.6h0M610.3 401.1h0M558.3 368.2h0M617.4 444h0M516.9 451.8h0M557.5 412.8h0M536 391.3h0M604.6 322.3h0M529.7 323.2h0M475.1 384.6h0M517.8 332.3h0M599.3 344.6h0M578.7 403.3h0M578.5 362.5h0M486.3 430h0M546 423.9h0M523.1 362.7h0M525.6 406.2h0M541 350.1h0M515.3 319.5h0M591.7 385.5h0M534.3 353.4h0M610.8 366.8h0M577.9 407.8h0M607.6 394.3h0M534.9 333.3h0M495.3 344.5h0M589.9 410.2h0M536.9 394.6h0M549.9 321.4h0M582.4 420.5h0M531 445.4h0M597.8 346.2h0M511.8 363.6h0M563.5 443.3h0M479.9 326.1h0M586.5 427.8h0M611.4 328.4h0M532.3 379.3h0M618.9 383.4h0M525 432.8h0M617.2 330.2h0M591 396.3h0M620.3 366.7h0M517.7 429.4h0M575.1 406.7h0M540.9 364.9h0M475.7 391.1h0M614.6 328.8h0M549.9 359.4h0M579.3 366.6h0M573 385.4h0M619.6 349.5h0M566.1 414.5h0M481 395.9h0M576.8 437.1h0M582.9 435h0M514.6 452.4h0M546.4 379.9h0M558.3 343.6h0M525.1 346.1h0M617.3 452h0M517.7 445.4h0M577.2 350h0M552.4 327.3h0M497.8 421.5h0M588.7 422h0M608.4 442.6h0M501 421.9h0M575.2 430.5h0M499.9 354.9h0M534.3 432.2h0M569.8 429.9h0M537.2 318.5h0M529.7 413.4h0M597.4 347.1h0M606.1 419.7h0M567.6 352.4h0M594.6 332.9h0M523.7 374.4h0M504.7 419h0M551 450.8h0M535.4 393.3h0M603.9 375.7h0M526.2 369.2h0M598.2 427.6h0M479.1 342.8h0M594.5 315.4h0M542.7 318.3h0M556 376.6h0M542.2 359.7h0M618.8 422.8h0M562.9 427.8h0M570.6 362.3h0M598.3 441.7h0M607.8 419.2h0M595.4 392.3h0M539.3 432.9h0M512.5 447.6h0M600.8 387.9h0M589 326.8h0M616 338.8h0M571.7 353.7h0M608.2 445.4h0M514.2 326.5h0" stroke="#dc4a46" stroke-width="1.5" stroke-linecap="round" stroke-opacity="0.85"/><path d="M617.6 423.6h0M544.1 392.3h0M584.3 372.5h0M509.8 330.3h0M589.8 437h0M546.5 401.9h0M566.2 449.1h0M530.4 401.8h0M560.5 417.9h0M602.8 361h0M592 398h0M575.7 320.8h0M588.7 432.3h0M607.5 388h0M559.3 363.7h0M611.9 336.5h0M614.4 371.2h0M576.9 415h0M529 397.7h0M541.3 318h0M616.4 350h0M549 391.1h0M620.8 413.2h0M498.1 321.8h0M507.4 441.3h0M547.6 444.4h0M537.7 418.5h0M597.1 386.3h0M595.4 412.6h0M602.5 443.1h0M525.9 367h0M524.4 354h0M554.3 342.4h0M496.9 318.6h0M493.9 378.3h0M475.4 341.2h0M598.2 315.5h0M621.4 410.1h0M607.7 383h0M605.8 388.2h0M621.8 417.4h0M591.7 445.5h0M611.9 371.5h0M475.7 428.6h0M497.8 441.9h0M509.6 366h0M512.6 434.7h0M513.2 318.7h0M562.2 377.8h0M522.3 421.8h0M563 357.6h0M596 387.7h0M554 393.3h0M595 407.3h0M601.4 373.8h0M601.6 428.3h0M480.2 370.9h0M588.6 405.2h0M527.5 357.8h0M552.9 354.4h0M607.1 322.4h0M580.6 339.7h0M597.9 393.1h0M604.7 445.3h0M589.3 447.9h0M580.3 320.4h0M609.7 441.9h0M588.8 315.7h0M594.3 315.1h0M621.3 331.5h0M582.9 334.5h0M602.3 332.8h0M612.2 438.3h0M570.9 367.2h0M567.6 318.5h0M515.9 436.2h0M598.8 416.9h0M582.8 366.8h0M519.1 419.5h0M599.3 422.1h0M534.2 401.1h0M558.9 445.3h0M479.1 371.8h0M536.2 430.1h0M550.7 347.7h0M517.7 390h0M482.4 361.1h0M490.6 433.9h0M617.4 414.7h0M580.6 442.3h0M578.6 424.1h0M488.9 370h0M567.3 382.3h0M536.1 327.7h0M544.5 375.8h0M547.2 400.6h0M594.3 332.9h0M570.6 319.3h0M499 338.7h0M564 402.9h0M618.1 367.8h0M512.6 422.3h0M598.6 369.4h0M603 444h0M572.8 337.1h0M528.8 328.7h0M593 350.4h0M559 420.3h0M531.7 393.5h0M583.8 392.1h0M616.5 373.9h0M497.5 430.6h0M517.9 425h0M550.4 326.3h0M603.1 447.1h0M603.3 420.6h0M548.8 370.8h0M493.4 353.5h0M496.9 398.5h0M586 359.4h0M612.6 346.1h0M511.5 361.6h0M584.5 423.2h0M618.8 367.7h0M488.5 363.5h0M611.6 375.3h0M540 444.9h0M588.6 427.3h0M600.4 396.3h0M498.3 424.8h0M581.9 326.4h0M617.3 372.2h0M613.6 412.1h0M581.4 383.3h0M572.3 378.6h0M542 336.1h0M556.2 387.9h0M558 404.9h0M499.3 372h0M494.5 315.8h0M550.3 335.9h0M515.3 360.5h0M588.9 375.9h0M491.8 363.6h0M614.9 411.1h0M601 409.9h0M510.1 429.4h0M619.7 359h0M612.7 449.3h0M537.2 391.4h0M596.3 382.6h0M503.1 314.6h0M596.8 422.9h0M616.2 404.7h0M578.8 417.2h0M488.9 405.6h0M566.9 386.4h0M597.6 453.1h0M491.6 444h0M477.7 337.8h0M620.1 369.7h0M542.2 425.2h0M474.9 425.6h0M591.8 339.1h0M499.6 351.9h0M592.5 316.4h0M563.7 360.1h0M561.5 345.8h0M593.6 450.1h0M531.4 449.6h0M576.3 434h0M475.1 321.8h0M495 425.7h0M535 378.9h0M590.9 353.4h0M564.7 399h0M561.7 334h0M475 443.8h0M495.2 400.2h0M518.8 387.2h0M585.4 334.8h0M513.4 328.6h0M534.9 352.7h0M524.2 325.6h0M585.8 322.7h0M620.4 421h0M508.5 423.5h0M544.6 322.4h0M613.5 393.2h0M561.8 368.9h0M596.4 392.1h0M622.5 446.3h0M587 420.1h0M574.1 398h0M541.7 382.9h0M566.7 321.1h0M495.2 375.6h0M519.6 330.3h0M598.9 384.1h0M618.5 437.7h0M557.9 353.1h0M543.9 447.7h0M544.5 383.4h0M499.7 336.9h0M497 395.4h0M592 430.6h0M617.9 335.7h0M586.8 429.6h0M607.3 375.6h0M538.1 320.2h0M591.2 405.8h0M541.2 335.8h0M509.2 385.4h0M508.1 446.1h0M615.4 320.4h0M526.4 433.4h0M536.1 327.6h0M490.5 428.5h0M547.3 379.7h0M618.3 339.5h0M496.1 443.6h0M591.3 365.2h0M592.6 432.7h0M593.4 322.8h0M570.7 345.1h0M522.7 405.1h0M524.8 428.9h0M562.7 378.6h0M489.5 397h0M612.1 396.1h0M549.8 340.7h0M520.3 442.1h0M550.8 346.1h0M601.2 438.6h0M542.3 422.5h0M561.9 443.5h0M618.7 437.2h0M558.3 341.5h0M483.8 434.6h0M485.3 385.2h0M598.3 324.4h0M613.1 401h0M621.4 363.3h0M565.2 372.5h0M596.6 362.2h0M606.5 374.2h0M521.9 389.8h0" stroke="#dc4a46" stroke-width="2.0" stroke-linecap="round" stroke-opacity="0.85"/><path d="M559.1 449.8h0M601.5 431.8h0M539.2 333.9h0M575.4 413.6h0M590.9 418.6h0M577.8 364.3h0M556.5 407h0M557.4 426.5h0M552.9 443.4h0M589.1 451.8h0M604.1 325.3h0M615.4 425.5h0M528.9 386.2h0M508.7 440.6h0M617.6 358.3h0M488.1 327h0M490.5 426.2h0M589.7 443.4h0M507.6 413.2h0M522.4 415.2h0M519.5 379.8h0M488 410.2h0M610.4 394.1h0M575.7 409.8h0M587.7 447.5h0M590 410.7h0M616.1 339.7h0M543.8 324.9h0M602.5 333h0M531.3 443.6h0M520.9 351h0M552.7 419.6h0M621.5 372.5h0M614.2 353.7h0M567.4 342.6h0M610.8 326.2h0M578.5 318.4h0M483.8 431.7h0M546.8 369.1h0M524 343.6h0M614.5 334.6h0M602.6 440.4h0M516.2 375.7h0M496.4 325h0M608.1 433.7h0M608.1 412.5h0M493.8 414.4h0M479.7 335.2h0M554.6 428.6h0M519.8 406.3h0M525.2 436h0M495.7 442.4h0M513.7 367h0M619.8 334.5h0M515.3 406.7h0M520.6 364.2h0M506.8 445.2h0M553.2 361.6h0M500.1 372.8h0M567.3 442.5h0M538.5 450.9h0M552 408.4h0M602.2 355.2h0M497.3 438.4h0M567.2 391.2h0M574.3 404h0M526.3 386.2h0M605.5 447h0M614.7 343.5h0M601.1 391.3h0M487.9 369.1h0M582.8 377.3h0M611.9 396.5h0M591.9 431.3h0M531.4 320h0M603.4 372.9h0M486.2 423.9h0M582.3 431.8h0M573.7 322.5h0M511.1 395.2h0M606.9 393.3h0M581.2 363.6h0M555.4 397h0M546.3 428.8h0M602.2 322.1h0M500.8 365.9h0M565 415.3h0M589.6 417.8h0M542.6 423.3h0M567 450.9h0M553.9 367.1h0M524.4 439.5h0M508.2 376.6h0M508 428.2h0M618.9 421.6h0M611.4 349.9h0M617.3 400.9h0M538.5 383.8h0M580.6 379.4h0M586.8 451.9h0M495 367.7h0M549.1 321.6h0M548 403.6h0M539.3 443.5h0M576.8 319.4h0M558.2 423.8h0M533.8 359.4h0M548.4 417h0M602.8 420.3h0M616.2 448.1h0M591.2 408.3h0M595.8 343.1h0M478.2 380.8h0M552.7 370h0M548.6 339.8h0M520.2 435.8h0M569.2 375.3h0M619.1 450.8h0M571.7 329.1h0M602.2 320.4h0M488 330.4h0M569.3 390.9h0M587.8 334.7h0M526.1 345.1h0M607.3 328.4h0M601.3 371.5h0M494.1 378.9h0M513.9 434.2h0M608 393.3h0M513 399.4h0M505.5 341.1h0M566.1 338.1h0M503.5 430.6h0M507.3 418.9h0M603.1 401.9h0M494.5 345.8h0M576.7 360h0M580.3 401.9h0M592.7 377.9h0M606.1 319.4h0M488.9 374.7h0M575.5 403.6h0M487.3 337.8h0M520.7 400.9h0M619.6 403.5h0M493.1 361.5h0M595.9 318.9h0M594.1 388.1h0M533.8 316.2h0M521.1 444.2h0M551.8 406.4h0M579.3 416.8h0M595.4 380.3h0M522.4 444.9h0M585.3 346.8h0M585.2 448.3h0M619 394.2h0M614 406.5h0M568.6 320.5h0M622.1 347.8h0M533.2 390.1h0M606.1 316.9h0M564.6 415.4h0M616.4 362h0M585.6 326.1h0M489.4 434.3h0M592.3 397.3h0M523.6 426.5h0M536 414h0M552.7 329.1h0M508.3 376.4h0M532.2 339.3h0M535.5 361.6h0M503.2 346.8h0M572.3 334.1h0M579.6 367.6h0M579 329.6h0M552.2 338h0M580 398.9h0M604.1 324.5h0M573 433h0M598.7 396.8h0M598 375.5h0M617.4 383h0M584.6 364.6h0M612.8 433.9h0M487 419.6h0M528 382.7h0M479.4 448.6h0M619.3 424.2h0M597.7 435.6h0M511.1 415.7h0M611.5 379.7h0M510.6 323.1h0M544.8 380.3h0M580.5 379.9h0M514.2 316.2h0M533.9 436.3h0M593.3 371h0M508.8 346.3h0M591.5 377.8h0M593 423.6h0M567.4 431.8h0M553.1 403.7h0M604.3 448h0M559.3 335.9h0M592.7 376.6h0M520 371.3h0M614.2 375.2h0M500.8 350.7h0M516.9 386.7h0M612.4 316.8h0M595 403.1h0M525.9 331.7h0M619 415h0M566.7 375.8h0M570.8 425.6h0M559.8 349.5h0M576.3 329.1h0M614.9 407.3h0M552.2 350.6h0M539.3 410.2h0M552.9 395.2h0M527.8 374.7h0" stroke="#dc4a46" stroke-width="2.5" stroke-linecap="round" stroke-opacity="0.85"/><path d="M580.3 378.7h0M502.3 419.4h0M481.9 341.9h0M608 404.3h0M511.4 417.4h0M490 432.3h0M604.1 358h0M583.1 389.3h0M517.1 411h0M576 354.6h0M504.3 337.3h0M622.2 434.6h0M562.4 348.9h0M511 442.3h0M590.2 322.1h0M571 356.3h0M542.2 355.3h0M588.4 452.7h0M497.6 439.8h0M532.3 392.5h0M621.8 366.6h0M563.9 419.8h0M622.8 323.9h0M494.5 441h0M608.6 327.7h0M605.6 428.7h0M604.4 440.7h0M537.8 355.3h0M602.4 413.6h0M583.6 375.4h0M555.2 423h0M583.1 428.9h0M597 369.3h0M582.6 401h0M504.1 434.7h0M601.6 366.3h0M514.1 442.2h0M480.1 435.6h0M526.1 324.6h0M600.2 427.5h0M614.9 395.5h0M541.4 375.8h0M518.4 394h0M608.9 448.3h0M615.5 444.7h0M529.8 369.7h0M507.8 330.5h0M512.3 374.2h0M611.6 444.2h0M597.9 347.5h0M574.7 413.3h0M584 337.2h0M573.3 401.6h0M521.2 339.4h0M606.3 449.6h0M518.4 374.8h0M536.7 318.5h0M511.8 420.7h0M537 401.3h0M594.2 390.2h0M600 330h0M528.4 369.5h0M493.3 409.9h0M590.6 379.9h0M536.6 348.5h0M620 331.1h0M577.7 411.3h0M489.2 427.7h0M620.9 326h0M478.9 382.1h0M550.2 391.4h0M483.8 442.3h0M534.3 377.3h0M513.3 359.9h0M524 318.5h0M609.9 344h0M543.1 389.3h0M537.6 337.4h0M527.2 359.1h0M617.4 438.1h0M539.2 328.8h0M544.5 432.4h0M504.2 337.5h0M609.9 446.1h0M553.1 444.6h0M549.2 391.1h0M611.3 362h0M604.5 317.7h0M577 397.4h0M588.4 388.7h0M613 400.7h0M593.5 350.3h0M551.5 408h0M507.6 371.2h0M493.5 443.1h0M573.3 411h0M605.4 408.9h0M575.9 376.2h0M592.2 324.4h0M621.1 352h0M495.2 400.3h0M560.4 343.3h0M588 445.3h0M594 383.4h0M573.4 370.5h0M517.3 374.1h0M582.4 319.5h0M540.5 327.3h0M591.8 355.4h0M587 392.9h0M562.8 384.9h0M567.9 386.3h0M594.4 314.7h0M508.7 356.9h0M519.9 354.5h0M580.8 410.1h0M586.3 433.3h0M509.8 405.7h0M545.2 321.6h0M479.8 383.2h0M518 397.8h0M481.5 401.9h0M574.7 347.6h0M610.4 341.3h0M607.4 453h0M539.9 433.2h0M617.5 415.6h0M501.3 378.2h0M619.5 452.8h0M583 386.9h0M528.3 357.9h0M610.9 345.8h0M505.5 434.4h0M605.6 390h0M547.2 403.1h0M502.9 366.1h0M564.9 421h0M597.7 371.6h0M613.8 402.7h0M508.4 449h0M518.4 361.2h0M582.8 342.7h0M572.4 354.6h0M561.1 410.8h0M606.6 387.6h0M588.3 415.7h0M525.3 361.6h0M526.7 337.8h0M558.9 429.1h0M523.5 404.6h0M553 408.4h0M558.8 376.8h0M596.3 409.8h0M515.5 352.6h0M525.1 350.5h0M603.4 318.8h0M538.4 354.8h0M617 322.1h0M528.7 364.6h0M608.9 439.3h0M590.6 408.7h0M560.3 420.6h0M509 405.3h0M520.2 355.5h0M584.2 325.4h0M570.3 410.4h0M523.7 328.4h0M576.8 373.8h0M593.4 369h0M514.6 430.9h0M546 376.8h0M585.1 421.5h0M560.6 391.9h0M532.1 373.4h0M549.6 409.9h0M605.8 377.8h0M608.8 406.2h0M498.1 315.7h0M485.8 365.2h0M550.8 375.5h0M621 383.2h0M607 329.5h0M615 385.9h0M568.7 382.6h0M484.1 354.9h0M564.4 347.9h0M606.5 424.2h0M555.7 350.1h0M569.9 415.5h0M572.5 396.9h0M506.5 392h0M501.9 365.5h0M496.7 336.8h0M560.8 362h0M600.3 334h0M605.8 421.8h0M490.9 335.8h0M495.1 354.2h0M596.5 398.3h0M604.4 451.8h0M550.8 421.5h0M538.2 394.1h0M598.6 335.9h0M608.8 440.4h0M574.9 363.3h0M532.6 448.5h0M493.4 323.7h0M575.2 326.7h0M604 424.6h0M607.5 411.7h0M578.4 340.9h0M563.5 405.3h0M506.3 448h0M608.5 389.5h0M601.5 320.5h0M576 424.3h0M494.2 369.9h0M564.3 442.3h0M564.1 446h0M540.3 399.2h0M552.1 367.5h0M492.8 342.4h0M535.8 347.8h0M516.8 450.7h0M514.8 333.7h0M598.1 436.3h0M547.5 334.4h0M570.7 444.1h0M523.9 445.4h0M618.4 319.7h0M572.6 335.7h0M487.6 364.8h0M591.9 373.8h0M570.5 373.6h0M532.7 365.6h0M552.7 339.2h0M536 324.1h0M574.2 336.1h0M541.5 446.3h0M536.2 435.9h0M578.7 330.9h0M496.5 397.3h0M546.1 423.1h0M545 380.7h0M507.9 428.5h0M527.1 396.1h0M548 370.8h0M516.1 372.2h0M538.4 333.5h0M549.5 439.2h0M489 354.4h0M609.6 453.2h0M584.7 319.2h0M580.9 402.8h0M598.3 347.8h0M577.3 441.5h0M485.7 398.3h0M604.4 401.2h0" stroke="#dc4a46" stroke-width="3.0" stroke-linecap="round" stroke-opacity="0.85"/>
<path d="M614.9 324h0M548.9 407.3h0M480.8 406h0M613.7 402.9h0M536.3 406.5h0M579.2 319.7h0M494.3 436.9h0M598.9 363.9h0M595.7 372.9h0M615.6 338.4h0M505.8 423.2h0M619.9 431.1h0M599 411h0M592 327.4h0M594.6 323.1h0M601.2 390.3h0M620.6 378.7h0M617.8 391.9h0M518.5 355.2h0M531.8 319.7h0M578.2 373.1h0M527.1 421.8h0M608.4 320h0M503.3 355h0M553.5 451.5h0M581.6 417h0M558.8 402.8h0M542.4 379.5h0M533.2 425.2h0M585.5 334.6h0M523.1 441.8h0M555.9 452h0M525.3 380.7h0M577.1 448.3h0M575.2 321h0M513.8 431.3h0M568.6 357.4h0M495.9 429.3h0M551.6 358h0M617 433.9h0M544.6 365.5h0M575.6 405.5h0M498.8 327.3h0M591.5 372.2h0M530 340.1h0M598.4 352h0M559.6 367.9h0M533 342.2h0" stroke="#fcfbfd" stroke-width="2.5" stroke-linecap="round" stroke-opacity="0.8"/><path d="M550 348.8h0M525.7 418.7h0M617 345.9h0M594.9 400.3h0M505.8 431.6h0M559.8 418.1h0M481.2 341.2h0M577 339.4h0M615.4 389.7h0M480.2 445.6h0M484.7 333.8h0M585.6 434.6h0M600.2 328.4h0M511.5 327h0M615 378.7h0M478.5 369.3h0M616.1 410h0M560.8 439.1h0M555.1 364.7h0M562.1 354.5h0M604.4 421.5h0M578.7 332.5h0M546.1 346.5h0M490.4 374.2h0M611 375.5h0M491.4 427.3h0M566.4 385.9h0M577.9 447.9h0M513.3 364.8h0M524.1 385.8h0M508.5 421.1h0M520.2 352.3h0M501 352h0M559.5 391h0M563.9 346.9h0M492.6 320h0M524.4 432.9h0M525.8 425.4h0M496.6 393.1h0M592.6 374.1h0M497.3 391.5h0" stroke="#fcfbfd" stroke-width="3.0" stroke-linecap="round" stroke-opacity="0.8"/><path d="M547.9 445.9h0M496.5 332.3h0M616.9 365.8h0M612.2 341.2h0M541.8 394.7h0M543 422.6h0M546.4 396h0M476.4 430.3h0M525.3 385.9h0M495.9 334.1h0M618.5 368.1h0M545.7 419.7h0M501.7 389.2h0M577.9 319.5h0M477.2 366.4h0M536.8 430.4h0M486.8 353.5h0M507.8 327.6h0M585.9 343.9h0M559.3 388.8h0M490.4 452.4h0M549.6 329.5h0M590.6 409.1h0M569.5 337.2h0M481.5 335.4h0M550.5 405.8h0M507.1 449h0M600.2 325.8h0M584.5 362.9h0M571.7 396.4h0M507.1 329.9h0M496.8 403.6h0M487 375.8h0M604.8 332.5h0M518 356.7h0M555.9 399.5h0M602.4 372.4h0M619.5 446.6h0M609.3 325.3h0M615.9 372.7h0M568.8 401.9h0M503.4 381.1h0M569.5 349.4h0M523.1 372.7h0M482.5 386.6h0M518.5 338.6h0M603.2 374.6h0M495.7 335.5h0M581 377.1h0M530 324.5h0M583.8 389.1h0M527.6 401.6h0M614.4 389.4h0M487.3 373.9h0M476.5 433.4h0M621 387.6h0M559.4 316.9h0M621.2 413.2h0M484.5 349.8h0M529.2 449h0M554.8 412.5h0M515.5 376.9h0M590.7 402.6h0M619.9 359h0" stroke="#fcfbfd" stroke-width="3.5" stroke-linecap="round" stroke-opacity="0.8"/><path d="M511.6 373.8h0M620.2 438.5h0M599.4 344.8h0M530.2 329.1h0M510.4 328.1h0M558.9 440.4h0M564.5 364.9h0M622.1 433.8h0M495.1 389.2h0M556 322h0M542.3 398.9h0M516.6 431.2h0M549.2 347h0M579.6 435.6h0M521.4 440.8h0M491 368.5h0M603.1 325h0M525.3 357.1h0M582.3 383.3h0M493.7 361.3h0M498.2 403.8h0M554 409h0M527.8 326.4h0M490.4 424.2h0M594.3 377h0M476.5 366.9h0M581.5 405.8h0M516.6 328.7h0M497.5 325h0M501.8 403.9h0M547.3 451.9h0M553.1 366.2h0M537.1 370.6h0M562.6 357.6h0M617.1 405.6h0M482.7 379.4h0M551.7 380h0M477.5 365.1h0M513.2 414.5h0M524.9 358.3h0M558 369.4h0M612 396.5h0M558.5 334h0M611.1 367.8h0M560.1 364.1h0M545.9 378.1h0M603.7 383.3h0M609.8 447.2h0M517.6 414.7h0M533.8 429.1h0M516.1 442.3h0" stroke="#fcfbfd" stroke-width="4.0" stroke-linecap="round" stroke-opacity="0.8"/><path d="M513.5 357.5h0M479.6 364.8h0M595.4 319.1h0M484.7 423.8h0M530.9 394.7h0M519.7 352.8h0M502.8 448.6h0M550.1 343.1h0M530.8 318.1h0M505.1 359h0M530.3 393.8h0M594.8 437.3h0M606.2 397.2h0M597.1 324.3h0M555.7 413.4h0M564.9 420.8h0M593.2 318.2h0M536.9 359h0M606.3 358.3h0M546.2 380.5h0M514.2 415.5h0M609.9 325.5h0M562 378.3h0M531.6 389.2h0M496.6 430.4h0M599.6 358.6h0M511.6 371.7h0M605.6 365.7h0M530.6 341.2h0M527.8 327.3h0M567.9 374.3h0M610.9 395.4h0M616.3 444.2h0M482.5 395.4h0M622.4 353.4h0M617 375.9h0M514.1 360h0M510.8 334.5h0M513.4 355.7h0M538.7 336.9h0M566.3 347.8h0M573.7 447.2h0M597.8 362.3h0M562.4 393.1h0M550.1 384.4h0M528 418.9h0M605.2 389.2h0" stroke="#fcfbfd" stroke-width="4.5" stroke-linecap="round" stroke-opacity="0.8"/><path d="M561.5 342.8h0M490.6 378.7h0M602 336.4h0M476.5 333.8h0M484.2 314.7h0M580.5 332.1h0M588.2 343.1h0M492.4 426.7h0M622 346.3h0M589.9 361.2h0M514.3 417.9h0M508.7 348h0M489.5 335h0M510.7 393.9h0M607.1 413.1h0M509.3 343.5h0M529.8 315.3h0M599.9 389.8h0M617.4 360.9h0M605.1 392.1h0M501.3 366.6h0M501.5 428.5h0M501.1 376.3h0M521.9 414.9h0M607.7 345.2h0M530.9 337.8h0M548.5 429.5h0M576.8 401.2h0M592.7 345.9h0M528.4 435.9h0M504.4 435.4h0M560.8 387.8h0M587.5 355.8h0M541.9 337.4h0M483.8 342.5h0M500 326.7h0M481 370.8h0M491 373h0M506.6 388.7h0M568.3 342.2h0M538.5 411.4h0M609.4 317.6h0M523.1 317.4h0M504.2 422.5h0M599 369.8h0M567.1 368.6h0M562.2 361.1h0M488.5 405.4h0M567.4 347.6h0" stroke="#fcfbfd" stroke-width="5.0" stroke-linecap="round" stroke-opacity="0.8"/>
<path d="M517,414 L526,410 L530,424 L527,449 L519,449 Z" fill="#fbfafd"/>
</g></g>
<rect x="323.25" y="32.75" width="147.50" height="137.10" fill="none" stroke="#000" stroke-width="3.5"/>
<rect x="476.25" y="32.85" width="144.30" height="134.80" fill="none" stroke="#000" stroke-width="3.5"/>
<rect x="323.25" y="173.05" width="147.50" height="136.80" fill="none" stroke="#000" stroke-width="3.5"/>
<rect x="476.75" y="173.85" width="144.20" height="136.70" fill="none" stroke="#000" stroke-width="3.5"/>
<rect x="323.25" y="314.45" width="147.80" height="137.30" fill="none" stroke="#000" stroke-width="3.5"/>
<rect x="476.35" y="316.35" width="144.70" height="135.40" fill="none" stroke="#000" stroke-width="3.5"/>
<rect x="321.5" y="167.8" width="151" height="7" fill="#000"/>
<rect x="415.6" y="163.8" width="24.1" height="5" fill="#000"/>
<text x="408.6" y="162.9" style="font-family:'Liberation Sans', Arial, sans-serif;font-weight:bold;font-size:17.6px;stroke:#000;stroke-width:0.5px;">100<tspan style="font-weight:normal;font-size:15px;stroke-width:0.3px;">μ</tspan><tspan style="font-size:18.5px;">M</tspan></text>
<text x="29.83" y="527.75" style="font-family:'Liberation Sans', Arial, sans-serif;font-size:35.5px;font-weight:bold;font-style:normal;">e</text>
<text x="92.88" y="530.03" style="font-family:'Liberation Sans', Arial, sans-serif;font-size:21.7px;font-weight:bold;font-style:normal;">Gluconeogenesis</text>
<text x="529.73" y="534.48" style="font-family:'Liberation Sans', Arial, sans-serif;font-size:21.7px;font-weight:bold;font-style:normal;">β-Oxidation</text>
<text x="954.84" y="530.73" style="font-family:'Liberation Sans', Arial, sans-serif;font-size:21.7px;font-weight:bold;font-style:normal;">Lipid synthesis</text>
<line x1="118.90" y1="575.35" x2="118.90" y2="771.65" stroke="#000" stroke-width="3.3" stroke-linecap="butt"/>
<line x1="115.00" y1="770.00" x2="275.00" y2="770.00" stroke="#000" stroke-width="3.3" stroke-linecap="butt"/>
<line x1="113.75" y1="770.00" x2="118.90" y2="770.00" stroke="#000" stroke-width="3.3" stroke-linecap="butt"/>
<text x="97.78" y="774.38" style="font-family:'Liberation Sans', Arial, sans-serif;font-size:15px;font-weight:bold;font-style:normal;">0</text>
<line x1="113.75" y1="721.75" x2="118.90" y2="721.75" stroke="#000" stroke-width="3.3" stroke-linecap="butt"/>
<text x="84.72" y="726.12" style="font-family:'Liberation Sans', Arial, sans-serif;font-size:15px;font-weight:bold;font-style:normal;">0.4</text>
<line x1="113.75" y1="673.50" x2="118.90" y2="673.50" stroke="#000" stroke-width="3.3" stroke-linecap="butt"/>
<text x="85.10" y="677.88" style="font-family:'Liberation Sans', Arial, sans-serif;font-size:15px;font-weight:bold;font-style:normal;">0.8</text>
<line x1="113.75" y1="625.25" x2="118.90" y2="625.25" stroke="#000" stroke-width="3.3" stroke-linecap="butt"/>
<text x="85.25" y="629.70" style="font-family:'Liberation Sans', Arial, sans-serif;font-size:15px;font-weight:bold;font-style:normal;">1.2</text>
<line x1="113.75" y1="577.00" x2="118.90" y2="577.00" stroke="#000" stroke-width="3.3" stroke-linecap="butt"/>
<text x="85.17" y="581.38" style="font-family:'Liberation Sans', Arial, sans-serif;font-size:15px;font-weight:bold;font-style:normal;">1.6</text>
<line x1="137.65" y1="649.15" x2="137.65" y2="638.75" stroke="#000" stroke-width="3.5" stroke-linecap="butt"/>
<line x1="133.15" y1="638.75" x2="142.15" y2="638.75" stroke="#000" stroke-width="3.5" stroke-linecap="butt"/>
<rect x="129.15" y="649.15" width="17.00" height="120.85" fill="#fff" stroke="#000" stroke-width="3.3" stroke-linejoin="round"/>
<line x1="157.50" y1="605.85" x2="157.50" y2="587.70" stroke="#000" stroke-width="3.5" stroke-linecap="butt"/>
<line x1="153.00" y1="587.70" x2="162.00" y2="587.70" stroke="#000" stroke-width="3.5" stroke-linecap="butt"/>
<rect x="148.35" y="605.85" width="18.30" height="164.15" fill="#a9a9a9" stroke="#000" stroke-width="3.3" stroke-linejoin="round"/>
<line x1="178.15" y1="656.65" x2="178.15" y2="640.20" stroke="#000" stroke-width="3.5" stroke-linecap="butt"/>
<line x1="173.65" y1="640.20" x2="182.65" y2="640.20" stroke="#000" stroke-width="3.5" stroke-linecap="butt"/>
<rect x="169.65" y="656.65" width="17.00" height="113.35" fill="#000" stroke="#000" stroke-width="3.3" stroke-linejoin="round"/>
<line x1="215.85" y1="649.95" x2="215.85" y2="625.20" stroke="#000" stroke-width="3.5" stroke-linecap="butt"/>
<line x1="211.35" y1="625.20" x2="220.35" y2="625.20" stroke="#000" stroke-width="3.5" stroke-linecap="butt"/>
<rect x="206.65" y="649.95" width="18.40" height="120.05" fill="#fff" stroke="#000" stroke-width="3.3" stroke-linejoin="round"/>
<line x1="236.60" y1="665.85" x2="236.60" y2="651.50" stroke="#000" stroke-width="3.5" stroke-linecap="butt"/>
<line x1="232.10" y1="651.50" x2="241.10" y2="651.50" stroke="#000" stroke-width="3.5" stroke-linecap="butt"/>
<rect x="228.15" y="665.85" width="16.90" height="104.15" fill="#a9a9a9" stroke="#000" stroke-width="3.3" stroke-linejoin="round"/>
<line x1="255.90" y1="713.35" x2="255.90" y2="707.20" stroke="#000" stroke-width="3.5" stroke-linecap="butt"/>
<line x1="251.40" y1="707.20" x2="260.40" y2="707.20" stroke="#000" stroke-width="3.5" stroke-linecap="butt"/>
<rect x="247.65" y="713.35" width="16.50" height="56.65" fill="#000" stroke="#000" stroke-width="3.3" stroke-linejoin="round"/>
<path d="M157.00,578.60 L157.00,566.60 L175.70,566.60 L175.70,628.60" fill="none" stroke="#000" stroke-width="3.3" stroke-linejoin="round"/>
<text transform="translate(159.86,568.17) scale(1.115,1)" style="font-family:'Liberation Sans', Arial, sans-serif;font-size:25px;font-weight:normal;font-style:normal;stroke:#000;stroke-width:0.45px;">*</text>
<path d="M233.20,643.00 L233.20,630.50 L251.40,630.50 L251.40,700.00" fill="none" stroke="#000" stroke-width="3.3" stroke-linejoin="round"/>
<text transform="translate(235.06,632.08) scale(1.115,1)" style="font-family:'Liberation Sans', Arial, sans-serif;font-size:25px;font-weight:normal;font-style:normal;stroke:#000;stroke-width:0.45px;">*</text>
<text transform="translate(39.34,708.55) rotate(-90)" style="font-family:'Liberation Sans', Arial, sans-serif;font-size:21.5px;font-weight:bold;font-style:normal;">Relative</text>
<text transform="translate(64.34,725.00) rotate(-90)" style="font-family:'Liberation Sans', Arial, sans-serif;font-size:21.5px;font-weight:bold;font-style:normal;">Expression</text>
<text x="129.01" y="796.05" style="font-family:'Liberation Sans', Arial, sans-serif;font-size:19.7px;font-weight:bold;font-style:italic;">PCK1</text>
<text x="208.41" y="796.05" style="font-family:'Liberation Sans', Arial, sans-serif;font-size:19.7px;font-weight:bold;font-style:italic;">G6PC</text>
<line x1="454.25" y1="568.85" x2="454.25" y2="771.65" stroke="#000" stroke-width="3.3" stroke-linecap="butt"/>
<line x1="450.00" y1="770.00" x2="731.25" y2="770.00" stroke="#000" stroke-width="3.3" stroke-linecap="butt"/>
<line x1="449.10" y1="770.00" x2="454.25" y2="770.00" stroke="#000" stroke-width="3.3" stroke-linecap="butt"/>
<text x="429.02" y="774.55" style="font-family:'Liberation Sans', Arial, sans-serif;font-size:15.5px;font-weight:bold;font-style:normal;">0</text>
<line x1="449.10" y1="703.50" x2="454.25" y2="703.50" stroke="#000" stroke-width="3.3" stroke-linecap="butt"/>
<text x="428.79" y="708.05" style="font-family:'Liberation Sans', Arial, sans-serif;font-size:15.5px;font-weight:bold;font-style:normal;">1</text>
<line x1="449.10" y1="637.00" x2="454.25" y2="637.00" stroke="#000" stroke-width="3.3" stroke-linecap="butt"/>
<text x="429.02" y="641.62" style="font-family:'Liberation Sans', Arial, sans-serif;font-size:15.5px;font-weight:bold;font-style:normal;">2</text>
<line x1="449.10" y1="570.50" x2="454.25" y2="570.50" stroke="#000" stroke-width="3.3" stroke-linecap="butt"/>
<text x="428.94" y="575.05" style="font-family:'Liberation Sans', Arial, sans-serif;font-size:15.5px;font-weight:bold;font-style:normal;">3</text>
<line x1="470.50" y1="703.65" x2="470.50" y2="695.50" stroke="#000" stroke-width="3.5" stroke-linecap="butt"/>
<line x1="466.00" y1="695.50" x2="475.00" y2="695.50" stroke="#000" stroke-width="3.5" stroke-linecap="butt"/>
<rect x="463.65" y="703.65" width="13.70" height="66.35" fill="#fff" stroke="#000" stroke-width="3.3" stroke-linejoin="round"/>
<line x1="487.75" y1="676.75" x2="487.75" y2="671.90" stroke="#000" stroke-width="3.5" stroke-linecap="butt"/>
<line x1="483.25" y1="671.90" x2="492.25" y2="671.90" stroke="#000" stroke-width="3.5" stroke-linecap="butt"/>
<rect x="480.65" y="676.75" width="14.20" height="93.25" fill="#a9a9a9" stroke="#000" stroke-width="3.3" stroke-linejoin="round"/>
<line x1="506.60" y1="672.15" x2="506.60" y2="669.50" stroke="#000" stroke-width="3.5" stroke-linecap="butt"/>
<line x1="502.10" y1="669.50" x2="511.10" y2="669.50" stroke="#000" stroke-width="3.5" stroke-linecap="butt"/>
<rect x="498.05" y="672.15" width="17.10" height="97.85" fill="#000" stroke="#000" stroke-width="3.3" stroke-linejoin="round"/>
<line x1="539.90" y1="703.65" x2="539.90" y2="698.50" stroke="#000" stroke-width="3.5" stroke-linecap="butt"/>
<line x1="535.40" y1="698.50" x2="544.40" y2="698.50" stroke="#000" stroke-width="3.5" stroke-linecap="butt"/>
<rect x="532.45" y="703.65" width="14.90" height="66.35" fill="#fff" stroke="#000" stroke-width="3.3" stroke-linejoin="round"/>
<line x1="557.20" y1="682.95" x2="557.20" y2="678.60" stroke="#000" stroke-width="3.5" stroke-linecap="butt"/>
<line x1="552.70" y1="678.60" x2="561.70" y2="678.60" stroke="#000" stroke-width="3.5" stroke-linecap="butt"/>
<rect x="550.55" y="682.95" width="13.30" height="87.05" fill="#a9a9a9" stroke="#000" stroke-width="3.3" stroke-linejoin="round"/>
<line x1="575.50" y1="632.95" x2="575.50" y2="624.90" stroke="#000" stroke-width="3.5" stroke-linecap="butt"/>
<line x1="571.00" y1="624.90" x2="580.00" y2="624.90" stroke="#000" stroke-width="3.5" stroke-linecap="butt"/>
<rect x="566.95" y="632.95" width="17.10" height="137.05" fill="#000" stroke="#000" stroke-width="3.3" stroke-linejoin="round"/>
<line x1="609.90" y1="703.65" x2="609.90" y2="700.60" stroke="#000" stroke-width="3.5" stroke-linecap="butt"/>
<line x1="605.40" y1="700.60" x2="614.40" y2="700.60" stroke="#000" stroke-width="3.5" stroke-linecap="butt"/>
<rect x="601.45" y="703.65" width="16.90" height="66.35" fill="#fff" stroke="#000" stroke-width="3.3" stroke-linejoin="round"/>
<line x1="627.65" y1="727.90" x2="627.65" y2="724.25" stroke="#000" stroke-width="3.5" stroke-linecap="butt"/>
<line x1="623.15" y1="724.25" x2="632.15" y2="724.25" stroke="#000" stroke-width="3.5" stroke-linecap="butt"/>
<rect x="621.45" y="727.90" width="12.40" height="42.10" fill="#a9a9a9" stroke="#000" stroke-width="3.3" stroke-linejoin="round"/>
<line x1="645.00" y1="712.65" x2="645.00" y2="706.20" stroke="#000" stroke-width="3.5" stroke-linecap="butt"/>
<line x1="640.50" y1="706.20" x2="649.50" y2="706.20" stroke="#000" stroke-width="3.5" stroke-linecap="butt"/>
<rect x="636.65" y="712.65" width="16.70" height="57.35" fill="#000" stroke="#000" stroke-width="3.3" stroke-linejoin="round"/>
<line x1="679.00" y1="703.65" x2="679.00" y2="686.20" stroke="#000" stroke-width="3.5" stroke-linecap="butt"/>
<line x1="674.50" y1="686.20" x2="683.50" y2="686.20" stroke="#000" stroke-width="3.5" stroke-linecap="butt"/>
<rect x="671.85" y="703.65" width="14.30" height="66.35" fill="#fff" stroke="#000" stroke-width="3.3" stroke-linejoin="round"/>
<line x1="696.90" y1="602.15" x2="696.90" y2="575.70" stroke="#000" stroke-width="3.5" stroke-linecap="butt"/>
<line x1="692.40" y1="575.70" x2="701.40" y2="575.70" stroke="#000" stroke-width="3.5" stroke-linecap="butt"/>
<rect x="689.05" y="602.15" width="15.70" height="167.85" fill="#a9a9a9" stroke="#000" stroke-width="3.3" stroke-linejoin="round"/>
<line x1="715.00" y1="638.35" x2="715.00" y2="611.40" stroke="#000" stroke-width="3.5" stroke-linecap="butt"/>
<line x1="710.50" y1="611.40" x2="719.50" y2="611.40" stroke="#000" stroke-width="3.5" stroke-linecap="butt"/>
<rect x="707.15" y="638.35" width="15.70" height="131.65" fill="#000" stroke="#000" stroke-width="3.3" stroke-linejoin="round"/>
<path d="M556.60,665.00 L556.60,591.00 L575.20,591.00 L575.20,611.50" fill="none" stroke="#000" stroke-width="3.3" stroke-linejoin="round"/>
<text transform="translate(554.67,592.12) scale(1.115,1)" style="font-family:'Liberation Sans', Arial, sans-serif;font-size:25px;font-weight:normal;font-style:normal;letter-spacing:1.3px;stroke:#000;stroke-width:0.45px;">**</text>
<path d="M628.00,716.25 L628.00,678.10 L646.50,678.10 L646.50,688.30" fill="none" stroke="#000" stroke-width="3.3" stroke-linejoin="round"/>
<text transform="translate(625.32,679.58) scale(1.115,1)" style="font-family:'Liberation Sans', Arial, sans-serif;font-size:25px;font-weight:normal;font-style:normal;letter-spacing:1.3px;stroke:#000;stroke-width:0.45px;">**</text>
<text transform="translate(381.84,708.55) rotate(-90)" style="font-family:'Liberation Sans', Arial, sans-serif;font-size:21.5px;font-weight:bold;font-style:normal;">Relative</text>
<text transform="translate(408.09,725.00) rotate(-90)" style="font-family:'Liberation Sans', Arial, sans-serif;font-size:21.5px;font-weight:bold;font-style:normal;">Expression</text>
<text x="439.05" y="796.25" style="font-family:'Liberation Sans', Arial, sans-serif;font-size:17.4px;font-weight:bold;font-style:italic;">EHHADH</text>
<text x="522.75" y="796.08" style="font-family:'Liberation Sans', Arial, sans-serif;font-size:17.4px;font-weight:bold;font-style:italic;">MCAD</text>
<text x="585.60" y="796.25" style="font-family:'Liberation Sans', Arial, sans-serif;font-size:17.4px;font-weight:bold;font-style:italic;">PPAR<tspan style="font-family:'Liberation Serif', 'Times New Roman', serif;font-size:20.5px;font-weight:normal;font-style:italic;">β/δ</tspan></text>
<text x="667.50" y="796.25" style="font-family:'Liberation Sans', Arial, sans-serif;font-size:17.4px;font-weight:bold;font-style:italic;">PPAR<tspan style="font-family:'Liberation Serif', 'Times New Roman', serif;font-size:20.5px;font-weight:normal;font-style:italic;">α</tspan></text>
<line x1="887.00" y1="568.35" x2="887.00" y2="771.15" stroke="#000" stroke-width="3.3" stroke-linecap="butt"/>
<line x1="883.50" y1="769.50" x2="1192.50" y2="769.50" stroke="#000" stroke-width="3.3" stroke-linecap="butt"/>
<line x1="881.85" y1="769.50" x2="887.00" y2="769.50" stroke="#000" stroke-width="3.3" stroke-linecap="butt"/>
<text x="865.48" y="773.88" style="font-family:'Liberation Sans', Arial, sans-serif;font-size:15px;font-weight:bold;font-style:normal;">0</text>
<line x1="881.85" y1="719.62" x2="887.00" y2="719.62" stroke="#000" stroke-width="3.3" stroke-linecap="butt"/>
<text x="852.43" y="724.00" style="font-family:'Liberation Sans', Arial, sans-serif;font-size:15px;font-weight:bold;font-style:normal;">0.4</text>
<line x1="881.85" y1="669.75" x2="887.00" y2="669.75" stroke="#000" stroke-width="3.3" stroke-linecap="butt"/>
<text x="852.80" y="674.12" style="font-family:'Liberation Sans', Arial, sans-serif;font-size:15px;font-weight:bold;font-style:normal;">0.8</text>
<line x1="881.85" y1="619.88" x2="887.00" y2="619.88" stroke="#000" stroke-width="3.3" stroke-linecap="butt"/>
<text x="852.95" y="624.33" style="font-family:'Liberation Sans', Arial, sans-serif;font-size:15px;font-weight:bold;font-style:normal;">1.2</text>
<line x1="881.85" y1="570.00" x2="887.00" y2="570.00" stroke="#000" stroke-width="3.3" stroke-linecap="butt"/>
<text x="852.88" y="574.38" style="font-family:'Liberation Sans', Arial, sans-serif;font-size:15px;font-weight:bold;font-style:normal;">1.6</text>
<line x1="900.25" y1="645.75" x2="900.25" y2="631.70" stroke="#000" stroke-width="3.5" stroke-linecap="butt"/>
<line x1="895.75" y1="631.70" x2="904.75" y2="631.70" stroke="#000" stroke-width="3.5" stroke-linecap="butt"/>
<rect x="893.65" y="645.75" width="13.20" height="123.75" fill="#fff" stroke="#000" stroke-width="3.3" stroke-linejoin="round"/>
<line x1="917.40" y1="603.65" x2="917.40" y2="594.70" stroke="#000" stroke-width="3.5" stroke-linecap="butt"/>
<line x1="912.90" y1="594.70" x2="921.90" y2="594.70" stroke="#000" stroke-width="3.5" stroke-linecap="butt"/>
<rect x="909.65" y="603.65" width="15.50" height="165.85" fill="#a9a9a9" stroke="#000" stroke-width="3.3" stroke-linejoin="round"/>
<line x1="934.30" y1="661.45" x2="934.30" y2="653.70" stroke="#000" stroke-width="3.5" stroke-linecap="butt"/>
<line x1="929.80" y1="653.70" x2="938.80" y2="653.70" stroke="#000" stroke-width="3.5" stroke-linecap="butt"/>
<rect x="927.35" y="661.45" width="13.90" height="108.05" fill="#000" stroke="#000" stroke-width="3.3" stroke-linejoin="round"/>
<line x1="961.35" y1="645.75" x2="961.35" y2="635.50" stroke="#000" stroke-width="3.5" stroke-linecap="butt"/>
<line x1="956.85" y1="635.50" x2="965.85" y2="635.50" stroke="#000" stroke-width="3.5" stroke-linecap="butt"/>
<rect x="954.65" y="645.75" width="13.40" height="123.75" fill="#fff" stroke="#000" stroke-width="3.3" stroke-linejoin="round"/>
<line x1="979.05" y1="604.65" x2="979.05" y2="587.80" stroke="#000" stroke-width="3.5" stroke-linecap="butt"/>
<line x1="974.55" y1="587.80" x2="983.55" y2="587.80" stroke="#000" stroke-width="3.5" stroke-linecap="butt"/>
<rect x="971.35" y="604.65" width="15.40" height="164.85" fill="#a9a9a9" stroke="#000" stroke-width="3.3" stroke-linejoin="round"/>
<line x1="995.62" y1="697.90" x2="995.62" y2="691.50" stroke="#000" stroke-width="3.5" stroke-linecap="butt"/>
<line x1="991.12" y1="691.50" x2="1000.12" y2="691.50" stroke="#000" stroke-width="3.5" stroke-linecap="butt"/>
<rect x="989.15" y="697.90" width="12.95" height="71.60" fill="#000" stroke="#000" stroke-width="3.3" stroke-linejoin="round"/>
<line x1="1022.35" y1="645.75" x2="1022.35" y2="635.30" stroke="#000" stroke-width="3.5" stroke-linecap="butt"/>
<line x1="1017.85" y1="635.30" x2="1026.85" y2="635.30" stroke="#000" stroke-width="3.5" stroke-linecap="butt"/>
<rect x="1015.95" y="645.75" width="12.80" height="123.75" fill="#fff" stroke="#000" stroke-width="3.3" stroke-linejoin="round"/>
<line x1="1039.75" y1="598.45" x2="1039.75" y2="584.00" stroke="#000" stroke-width="3.5" stroke-linecap="butt"/>
<line x1="1035.25" y1="584.00" x2="1044.25" y2="584.00" stroke="#000" stroke-width="3.5" stroke-linecap="butt"/>
<rect x="1032.05" y="598.45" width="15.40" height="171.05" fill="#a9a9a9" stroke="#000" stroke-width="3.3" stroke-linejoin="round"/>
<line x1="1056.85" y1="637.75" x2="1056.85" y2="627.20" stroke="#000" stroke-width="3.5" stroke-linecap="butt"/>
<line x1="1052.35" y1="627.20" x2="1061.35" y2="627.20" stroke="#000" stroke-width="3.5" stroke-linecap="butt"/>
<rect x="1049.65" y="637.75" width="14.40" height="131.75" fill="#000" stroke="#000" stroke-width="3.3" stroke-linejoin="round"/>
<line x1="1084.50" y1="637.75" x2="1084.50" y2="624.50" stroke="#000" stroke-width="3.5" stroke-linecap="butt"/>
<line x1="1080.00" y1="624.50" x2="1089.00" y2="624.50" stroke="#000" stroke-width="3.5" stroke-linecap="butt"/>
<rect x="1077.05" y="637.75" width="14.90" height="131.75" fill="#fff" stroke="#000" stroke-width="3.3" stroke-linejoin="round"/>
<line x1="1102.15" y1="647.95" x2="1102.15" y2="634.70" stroke="#000" stroke-width="3.5" stroke-linecap="butt"/>
<line x1="1097.65" y1="634.70" x2="1106.65" y2="634.70" stroke="#000" stroke-width="3.5" stroke-linecap="butt"/>
<rect x="1095.25" y="647.95" width="13.80" height="121.55" fill="#a9a9a9" stroke="#000" stroke-width="3.3" stroke-linejoin="round"/>
<line x1="1118.20" y1="700.95" x2="1118.20" y2="693.20" stroke="#000" stroke-width="3.5" stroke-linecap="butt"/>
<line x1="1113.70" y1="693.20" x2="1122.70" y2="693.20" stroke="#000" stroke-width="3.5" stroke-linecap="butt"/>
<rect x="1111.25" y="700.95" width="13.90" height="68.55" fill="#000" stroke="#000" stroke-width="3.3" stroke-linejoin="round"/>
<line x1="1145.25" y1="641.45" x2="1145.25" y2="631.60" stroke="#000" stroke-width="3.5" stroke-linecap="butt"/>
<line x1="1140.75" y1="631.60" x2="1149.75" y2="631.60" stroke="#000" stroke-width="3.5" stroke-linecap="butt"/>
<rect x="1138.05" y="641.45" width="14.40" height="128.05" fill="#fff" stroke="#000" stroke-width="3.3" stroke-linejoin="round"/>
<line x1="1162.20" y1="590.05" x2="1162.20" y2="574.20" stroke="#000" stroke-width="3.5" stroke-linecap="butt"/>
<line x1="1157.70" y1="574.20" x2="1166.70" y2="574.20" stroke="#000" stroke-width="3.5" stroke-linecap="butt"/>
<rect x="1154.85" y="590.05" width="14.70" height="179.45" fill="#a9a9a9" stroke="#000" stroke-width="3.3" stroke-linejoin="round"/>
<line x1="1179.05" y1="690.25" x2="1179.05" y2="683.30" stroke="#000" stroke-width="3.5" stroke-linecap="butt"/>
<line x1="1174.55" y1="683.30" x2="1183.55" y2="683.30" stroke="#000" stroke-width="3.5" stroke-linecap="butt"/>
<rect x="1171.35" y="690.25" width="15.40" height="79.25" fill="#000" stroke="#000" stroke-width="3.3" stroke-linejoin="round"/>
<path d="M916.25,582.50 L916.25,562.00 L934.25,562.00 L934.25,637.00" fill="none" stroke="#000" stroke-width="3.3" stroke-linejoin="round"/>
<text transform="translate(913.42,563.48) scale(1.115,1)" style="font-family:'Liberation Sans', Arial, sans-serif;font-size:25px;font-weight:normal;font-style:normal;letter-spacing:1.3px;stroke:#000;stroke-width:0.45px;">**</text>
<path d="M975.40,578.75 L975.40,566.50 L993.30,566.50 L993.30,670.50" fill="none" stroke="#000" stroke-width="3.3" stroke-linejoin="round"/>
<text transform="translate(971.57,566.17) scale(1.115,1)" style="font-family:'Liberation Sans', Arial, sans-serif;font-size:25px;font-weight:normal;font-style:normal;letter-spacing:1.3px;stroke:#000;stroke-width:0.45px;">**</text>
<path d="M1037.50,576.25 L1037.50,565.20 L1055.50,565.20 L1055.50,614.70" fill="none" stroke="#000" stroke-width="3.3" stroke-linejoin="round"/>
<text transform="translate(1041.26,567.48) scale(1.115,1)" style="font-family:'Liberation Sans', Arial, sans-serif;font-size:25px;font-weight:normal;font-style:normal;stroke:#000;stroke-width:0.45px;">*</text>
<path d="M1099.00,624.30 L1099.00,612.00 L1117.30,612.00 L1117.30,681.10" fill="none" stroke="#000" stroke-width="3.3" stroke-linejoin="round"/>
<text transform="translate(1097.17,614.17) scale(1.115,1)" style="font-family:'Liberation Sans', Arial, sans-serif;font-size:25px;font-weight:normal;font-style:normal;letter-spacing:1.3px;stroke:#000;stroke-width:0.45px;">**</text>
<path d="M1161.00,564.30 L1161.00,553.00 L1179.10,553.00 L1179.10,663.90" fill="none" stroke="#000" stroke-width="3.3" stroke-linejoin="round"/>
<text transform="translate(1157.17,555.17) scale(1.115,1)" style="font-family:'Liberation Sans', Arial, sans-serif;font-size:25px;font-weight:normal;font-style:normal;letter-spacing:1.3px;stroke:#000;stroke-width:0.45px;">**</text>
<text transform="translate(809.34,708.55) rotate(-90)" style="font-family:'Liberation Sans', Arial, sans-serif;font-size:21.5px;font-weight:bold;font-style:normal;">Relative</text>
<text transform="translate(836.84,725.00) rotate(-90)" style="font-family:'Liberation Sans', Arial, sans-serif;font-size:21.5px;font-weight:bold;font-style:normal;">Expression</text>
<text x="884.74" y="795.33" style="font-family:'Liberation Sans', Arial, sans-serif;font-size:17.4px;font-weight:bold;font-style:italic;">SREBF</text>
<text x="958.40" y="795.33" style="font-family:'Liberation Sans', Arial, sans-serif;font-size:17.4px;font-weight:bold;font-style:italic;">FASN</text>
<text x="1020.90" y="795.33" style="font-family:'Liberation Sans', Arial, sans-serif;font-size:17.4px;font-weight:bold;font-style:italic;">DGAT</text>
<text x="1080.49" y="795.33" style="font-family:'Liberation Sans', Arial, sans-serif;font-size:17.4px;font-weight:bold;font-style:italic;">SCD1</text>
<text x="1136.60" y="795.33" style="font-family:'Liberation Sans', Arial, sans-serif;font-size:17.4px;font-weight:bold;font-style:italic;">ACACA</text>
<rect x="447.75" y="816.75" width="18.50" height="18.50" rx="2" fill="#fff" stroke="#000" stroke-width="3.5"/>
<text x="477.22" y="834.51" style="font-family:'Liberation Sans', Arial, sans-serif;font-size:19.4px;font-weight:bold;font-style:normal;">CD</text>
<rect x="568.00" y="816.75" width="17.75" height="18.50" rx="2" fill="#a9a9a9" stroke="#000" stroke-width="3.5"/>
<text x="592.74" y="834.31" style="font-family:'Liberation Sans', Arial, sans-serif;font-size:19.4px;font-weight:bold;font-style:normal;">HF/HFr</text>
<rect x="708.75" y="816.75" width="18.25" height="18.50" rx="2" fill="#000" stroke="#000" stroke-width="3.5"/>
<text x="732.74" y="834.31" style="font-family:'Liberation Sans', Arial, sans-serif;font-size:19.4px;font-weight:bold;font-style:normal;">HF/HFr-BCH</text>
</svg>
</body></html>
